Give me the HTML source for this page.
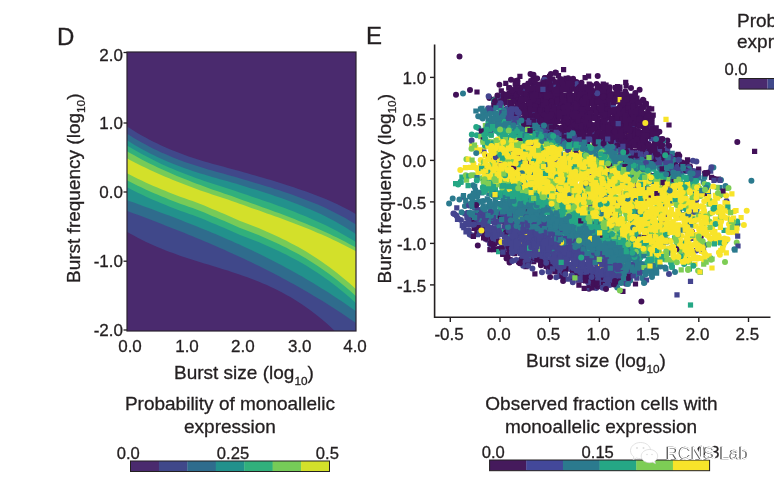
<!DOCTYPE html><html><head><meta charset="utf-8"><style>html,body{margin:0;padding:0;background:#fff;overflow:hidden}svg{display:block;filter:blur(0.45px)}text{stroke:#231f20;stroke-width:.3px}text.wm{stroke:none;fill:#fff}text.sh{stroke:#505050;stroke-width:.5px;fill:#505050}text.wb{stroke:#fff;stroke-width:2.2px;fill:#fff}</style></head><body><svg width="774" height="483" viewBox="0 0 774 483" font-family='"Liberation Sans", sans-serif' fill="#231f20"><defs><clipPath id="clipD"><rect x="127" y="52" width="229" height="279"/></clipPath></defs><rect width="774" height="483" fill="#fff"/><text x="57" y="45" font-size="24" text-anchor="start" >D</text><g clip-path="url(#clipD)"><rect x="127" y="52" width="229" height="279" fill="#4a2a6e"/><polygon points="126.0,125.8 129.9,128.3 133.8,130.8 137.7,133.2 141.7,135.4 145.6,137.6 149.5,139.7 153.4,141.7 157.3,143.6 161.2,145.5 165.2,147.2 169.1,148.9 173.0,150.5 176.9,152.1 180.8,153.6 184.7,155.0 188.6,156.4 192.6,157.7 196.5,159.0 200.4,160.2 204.3,161.4 208.2,162.6 212.1,163.7 216.1,164.8 220.0,165.8 223.9,166.8 227.8,167.9 231.7,168.9 235.6,170.0 239.5,171.1 243.5,172.2 247.4,173.3 251.3,174.4 255.2,175.5 259.1,176.7 263.0,177.8 266.9,178.9 270.9,180.1 274.8,181.2 278.7,182.4 282.6,183.7 286.5,184.9 290.4,186.2 294.4,187.5 298.3,188.9 302.2,190.2 306.1,191.6 310.0,192.9 313.9,194.4 317.8,195.9 321.8,197.4 325.7,199.0 329.6,200.7 333.5,202.5 337.4,204.3 341.3,206.2 345.3,208.2 349.2,210.3 353.1,212.5 357.0,214.8 357.0,355.5 353.1,350.8 349.2,346.2 345.3,341.9 341.3,337.7 337.4,333.7 333.5,329.8 329.6,326.1 325.7,322.6 321.8,319.2 317.8,316.0 313.9,312.9 310.0,310.0 306.1,307.2 302.2,304.5 298.3,301.9 294.4,299.5 290.4,297.1 286.5,294.9 282.6,292.8 278.7,290.7 274.8,288.8 270.9,286.9 266.9,285.1 263.0,283.4 259.1,281.8 255.2,280.2 251.3,278.7 247.4,277.3 243.5,275.9 239.5,274.5 235.6,273.2 231.7,271.9 227.8,270.6 223.9,269.4 220.0,268.2 216.1,267.0 212.1,265.8 208.2,264.6 204.3,263.4 200.4,262.2 196.5,261.0 192.6,259.7 188.6,258.5 184.7,257.2 180.8,255.9 176.9,254.5 173.0,253.1 169.1,251.7 165.2,250.2 161.2,248.6 157.3,247.0 153.4,245.3 149.5,243.5 145.6,241.7 141.7,239.8 137.7,237.7 133.8,235.6 129.9,233.4 126.0,231.1" fill="#40488a"/><polygon points="126.0,133.0 129.9,135.5 133.8,137.9 137.7,140.3 141.7,142.5 145.6,144.6 149.5,146.7 153.4,148.7 157.3,150.6 161.2,152.4 165.2,154.1 169.1,155.8 173.0,157.4 176.9,159.0 180.8,160.4 184.7,161.9 188.6,163.2 192.6,164.6 196.5,165.8 200.4,167.1 204.3,168.3 208.2,169.4 212.1,170.6 216.1,171.7 220.0,172.8 223.9,173.8 227.8,174.9 231.7,176.0 235.6,177.1 239.5,178.3 243.5,179.4 247.4,180.5 251.3,181.7 255.2,182.9 259.1,184.0 263.0,185.2 266.9,186.4 270.9,187.6 274.8,188.9 278.7,190.1 282.6,191.4 286.5,192.8 290.4,194.1 294.4,195.6 298.3,197.0 302.2,198.5 306.1,199.9 310.0,201.4 313.9,203.0 317.8,204.6 321.8,206.3 325.7,208.1 329.6,209.9 333.5,211.9 337.4,213.9 341.3,216.0 345.3,218.1 349.2,220.4 353.1,222.8 357.0,225.2 357.0,323.8 353.1,321.1 349.2,318.4 345.3,315.7 341.3,313.1 337.4,310.5 333.5,308.0 329.6,305.5 325.7,303.0 321.8,300.6 317.8,298.2 313.9,295.9 310.0,293.5 306.1,291.2 302.2,289.0 298.3,286.8 294.4,284.6 290.4,282.4 286.5,280.3 282.6,278.2 278.7,276.1 274.8,274.0 270.9,272.0 266.9,270.0 263.0,268.1 259.1,266.1 255.2,264.2 251.3,262.3 247.4,260.4 243.5,258.6 239.5,256.7 235.6,254.9 231.7,253.2 227.8,251.4 223.9,249.6 220.0,247.9 216.1,246.2 212.1,244.5 208.2,242.8 204.3,241.2 200.4,239.5 196.5,237.9 192.6,236.3 188.6,234.7 184.7,233.1 180.8,231.5 176.9,230.0 173.0,228.4 169.1,226.9 165.2,225.4 161.2,223.8 157.3,222.3 153.4,220.8 149.5,219.3 145.6,217.8 141.7,216.3 137.7,214.8 133.8,213.4 129.9,211.9 126.0,210.4" fill="#2f6c8d"/><polygon points="126.0,139.6 129.9,142.1 133.8,144.5 137.7,146.8 141.7,149.0 145.6,151.1 149.5,153.2 153.4,155.1 157.3,157.0 161.2,158.8 165.2,160.5 169.1,162.2 173.0,163.8 176.9,165.3 180.8,166.8 184.7,168.2 188.6,169.6 192.6,170.9 196.5,172.2 200.4,173.4 204.3,174.6 208.2,175.8 212.1,177.0 216.1,178.1 220.0,179.2 223.9,180.3 227.8,181.3 231.7,182.5 235.6,183.6 239.5,184.8 243.5,186.0 247.4,187.2 251.3,188.4 255.2,189.6 259.1,190.8 263.0,192.1 266.9,193.3 270.9,194.6 274.8,195.9 278.7,197.2 282.6,198.6 286.5,200.0 290.4,201.5 294.4,203.0 298.3,204.6 302.2,206.1 306.1,207.7 310.0,209.3 313.9,211.0 317.8,212.7 321.8,214.6 325.7,216.5 329.6,218.5 333.5,220.5 337.4,222.7 341.3,225.0 345.3,227.3 349.2,229.8 353.1,232.3 357.0,234.9 357.0,312.0 353.1,309.2 349.2,306.5 345.3,303.7 341.3,301.1 337.4,298.5 333.5,295.9 329.6,293.3 325.7,290.8 321.8,288.4 317.8,285.9 313.9,283.6 310.0,281.2 306.1,278.9 302.2,276.6 298.3,274.4 294.4,272.2 290.4,270.0 286.5,267.9 282.6,265.8 278.7,263.7 274.8,261.7 270.9,259.7 266.9,257.7 263.0,255.8 259.1,253.8 255.2,252.0 251.3,250.1 247.4,248.2 243.5,246.4 239.5,244.6 235.6,242.9 231.7,241.1 227.8,239.4 223.9,237.7 220.0,236.0 216.1,234.3 212.1,232.7 208.2,231.1 204.3,229.5 200.4,227.9 196.5,226.3 192.6,224.7 188.6,223.2 184.7,221.7 180.8,220.1 176.9,218.6 173.0,217.1 169.1,215.6 165.2,214.2 161.2,212.7 157.3,211.2 153.4,209.8 149.5,208.3 145.6,206.9 141.7,205.5 137.7,204.0 133.8,202.6 129.9,201.2 126.0,199.8" fill="#22918c"/><polygon points="126.0,144.8 129.9,147.2 133.8,149.6 137.7,151.8 141.7,154.0 145.6,156.1 149.5,158.1 153.4,160.1 157.3,162.0 161.2,163.9 165.2,165.7 169.1,167.4 173.0,169.1 176.9,170.7 180.8,172.3 184.7,173.8 188.6,175.3 192.6,176.8 196.5,178.2 200.4,179.6 204.3,180.9 208.2,182.2 212.1,183.5 216.1,184.8 220.0,186.0 223.9,187.3 227.8,188.5 231.7,189.7 235.6,191.1 239.5,192.4 243.5,193.7 247.4,195.0 251.3,196.4 255.2,197.7 259.1,199.0 263.0,200.4 266.9,201.7 270.9,203.1 274.8,204.5 278.7,205.9 282.6,207.3 286.5,208.8 290.4,210.3 294.4,211.8 298.3,213.5 302.2,215.0 306.1,216.6 310.0,218.3 313.9,219.9 317.8,221.7 321.8,223.5 325.7,225.3 329.6,227.3 333.5,229.3 337.4,231.3 341.3,233.5 345.3,235.7 349.2,238.0 353.1,240.3 357.0,242.7 357.0,304.1 353.1,300.5 349.2,297.0 345.3,293.7 341.3,290.4 337.4,287.3 333.5,284.2 329.6,281.3 325.7,278.4 321.8,275.7 317.8,273.1 313.9,270.5 310.0,268.0 306.1,265.6 302.2,263.3 298.3,261.1 294.4,258.9 290.4,256.9 286.5,254.8 282.6,252.9 278.7,251.0 274.8,249.2 270.9,247.4 266.9,245.7 263.0,244.0 259.1,242.3 255.2,240.7 251.3,239.2 247.4,237.7 243.5,236.2 239.5,234.7 235.6,232.9 231.7,231.2 227.8,229.5 223.9,227.8 220.0,226.2 216.1,224.5 212.1,222.9 208.2,221.2 204.3,219.6 200.4,217.9 196.5,216.5 192.6,215.1 188.6,213.7 184.7,212.3 180.8,210.9 176.9,209.4 173.0,207.9 169.1,206.4 165.2,204.8 161.2,203.2 157.3,201.6 153.4,199.9 149.5,198.2 145.6,196.4 141.7,194.6 137.7,192.7 133.8,190.7 129.9,188.7 126.0,186.6" fill="#31b07c"/><polygon points="126.0,150.7 129.9,152.9 133.8,155.1 137.7,157.3 141.7,159.4 145.6,161.4 149.5,163.4 153.4,165.3 157.3,167.2 161.2,169.0 165.2,170.8 169.1,172.5 173.0,174.2 176.9,175.9 180.8,177.5 184.7,179.1 188.6,180.6 192.6,182.2 196.5,183.7 200.4,185.1 204.3,186.6 208.2,188.0 212.1,189.4 216.1,190.7 220.0,192.1 223.9,193.4 227.8,194.7 231.7,196.1 235.6,197.5 239.5,199.0 243.5,200.4 247.4,201.8 251.3,203.2 255.2,204.6 259.1,206.0 263.0,207.4 266.9,208.8 270.9,210.3 274.8,211.7 278.7,213.1 282.6,214.6 286.5,216.1 290.4,217.6 294.4,219.1 298.3,220.7 302.2,222.3 306.1,223.8 310.0,225.4 313.9,227.1 317.8,228.7 321.8,230.5 325.7,232.2 329.6,234.0 333.5,235.9 337.4,237.8 341.3,239.8 345.3,241.8 349.2,243.9 353.1,246.0 357.0,248.1 357.0,297.1 353.1,293.5 349.2,290.0 345.3,286.7 341.3,283.4 337.4,280.3 333.5,277.2 329.6,274.3 325.7,271.4 321.8,268.7 317.8,266.1 313.9,263.5 310.0,261.0 306.1,258.6 302.2,256.3 298.3,254.1 294.4,251.9 290.4,249.9 286.5,247.8 282.6,245.9 278.7,244.0 274.8,242.2 270.9,240.4 266.9,238.7 263.0,237.0 259.1,235.3 255.2,233.7 251.3,232.2 247.4,230.7 243.5,229.2 239.5,227.7 235.6,225.9 231.7,224.2 227.8,222.5 223.9,220.8 220.0,219.2 216.1,217.5 212.1,215.9 208.2,214.2 204.3,212.6 200.4,210.9 196.5,209.5 192.6,208.1 188.6,206.7 184.7,205.3 180.8,203.9 176.9,202.4 173.0,200.9 169.1,199.4 165.2,197.8 161.2,196.2 157.3,194.6 153.4,192.9 149.5,191.2 145.6,189.4 141.7,187.6 137.7,185.7 133.8,183.7 129.9,181.7 126.0,179.6" fill="#76cb58"/><polygon points="126.0,157.8 129.9,159.9 133.8,162.0 137.7,164.0 141.7,165.9 145.6,167.8 149.5,169.7 153.4,171.5 157.3,173.3 161.2,175.0 165.2,176.7 169.1,178.3 173.0,180.0 176.9,181.5 180.8,183.1 184.7,184.6 188.6,186.1 192.6,187.5 196.5,189.0 200.4,190.4 204.3,191.7 208.2,193.1 212.1,194.4 216.1,195.8 220.0,197.1 223.9,198.3 227.8,199.6 231.7,201.0 235.6,202.3 239.5,203.7 243.5,205.1 247.4,206.5 251.3,207.9 255.2,209.2 259.1,210.6 263.0,212.0 266.9,213.4 270.9,214.8 274.8,216.2 278.7,217.6 282.6,219.0 286.5,220.4 290.4,221.9 294.4,223.4 298.3,225.0 302.2,226.5 306.1,228.1 310.0,229.6 313.9,231.2 317.8,232.9 321.8,234.6 325.7,236.3 329.6,238.1 333.5,239.9 337.4,241.8 341.3,243.8 345.3,245.7 349.2,247.8 353.1,249.8 357.0,251.9 357.0,290.1 353.1,286.5 349.2,283.0 345.3,279.7 341.3,276.4 337.4,273.3 333.5,270.2 329.6,267.3 325.7,264.4 321.8,261.7 317.8,259.1 313.9,256.5 310.0,254.0 306.1,251.6 302.2,249.3 298.3,247.1 294.4,244.9 290.4,242.9 286.5,240.8 282.6,238.9 278.7,237.0 274.8,235.2 270.9,233.4 266.9,231.7 263.0,230.0 259.1,228.3 255.2,226.7 251.3,225.2 247.4,223.7 243.5,222.2 239.5,220.7 235.6,218.9 231.7,217.2 227.8,215.5 223.9,213.8 220.0,212.2 216.1,210.5 212.1,208.9 208.2,207.2 204.3,205.6 200.4,203.9 196.5,202.5 192.6,201.1 188.6,199.7 184.7,198.3 180.8,196.9 176.9,195.4 173.0,193.9 169.1,192.4 165.2,190.8 161.2,189.2 157.3,187.6 153.4,185.9 149.5,184.2 145.6,182.4 141.7,180.6 137.7,178.7 133.8,176.7 129.9,174.7 126.0,172.6" fill="#d3e02a"/></g><rect x="127" y="52" width="229" height="279" fill="none" stroke="#2a2230" stroke-width="1.2"/><line x1="123.5" y1="52.5" x2="127" y2="52.5" stroke="#231f20" stroke-width="1.3"/><text x="123" y="61.3" font-size="17" text-anchor="end" >2.0</text><line x1="123.5" y1="123" x2="127" y2="123" stroke="#231f20" stroke-width="1.3"/><text x="123" y="129.3" font-size="17" text-anchor="end" >1.0</text><line x1="123.5" y1="192" x2="127" y2="192" stroke="#231f20" stroke-width="1.3"/><text x="123" y="198.3" font-size="17" text-anchor="end" >0.0</text><line x1="123.5" y1="261.2" x2="127" y2="261.2" stroke="#231f20" stroke-width="1.3"/><text x="123" y="267.2" font-size="17" text-anchor="end" >-1.0</text><line x1="123.5" y1="330" x2="127" y2="330" stroke="#231f20" stroke-width="1.3"/><text x="123" y="336" font-size="17" text-anchor="end" >-2.0</text><text x="130" y="352.2" font-size="17" text-anchor="middle" >0.0</text><text x="187" y="352.2" font-size="17" text-anchor="middle" >1.0</text><text x="242.8" y="352.2" font-size="17" text-anchor="middle" >2.0</text><text x="299.7" y="352.2" font-size="17" text-anchor="middle" >3.0</text><text x="355" y="352.2" font-size="17" text-anchor="middle" >4.0</text><g transform="translate(79.7,283) rotate(-90)"><text x="0" y="0" font-size="19">Burst frequency (log<tspan font-size="11.8" dy="5.5">10</tspan><tspan dy="-5.5">)</tspan></text></g><text x="174" y="379.3" font-size="19" text-anchor="start" >Burst size (log<tspan font-size="11.8" dy="5.5">10</tspan><tspan dy="-5.5">)</tspan></text><text x="230" y="410" font-size="19" text-anchor="middle" >Probability of monoallelic</text><text x="230" y="432.5" font-size="19" text-anchor="middle" >expression</text><text x="128.2" y="459" font-size="16.6" text-anchor="middle" >0.0</text><text x="233" y="459" font-size="16.6" text-anchor="middle" >0.25</text><text x="327.4" y="459" font-size="16.6" text-anchor="middle" >0.5</text><rect x="130.50" y="461" width="28.73" height="10.5" fill="#4a2a6e"/><rect x="158.93" y="461" width="28.73" height="10.5" fill="#40488a"/><rect x="187.36" y="461" width="28.73" height="10.5" fill="#2f6c8d"/><rect x="215.79" y="461" width="28.73" height="10.5" fill="#22918c"/><rect x="244.21" y="461" width="28.73" height="10.5" fill="#31b07c"/><rect x="272.64" y="461" width="28.73" height="10.5" fill="#76cb58"/><rect x="301.07" y="461" width="28.73" height="10.5" fill="#d3e02a"/><rect x="130.5" y="461" width="199.0" height="10.5" fill="none" stroke="#231f20" stroke-width="1"/><text x="366" y="44" font-size="24" text-anchor="start" >E</text><path d="M621.8 122.4h0M631.0 88.0h0M597.3 132.9h0M576.2 95.3h0M551.8 91.8h0M624.5 114.0h0M572.2 130.5h0M602.6 103.8h0M615.7 279.7h0M559.6 98.0h0M511.7 96.7h0M615.1 145.5h0M622.7 112.6h0M530.6 102.8h0M510.6 99.2h0M632.3 110.3h0M589.0 288.8h0M520.0 102.9h0M616.1 87.7h0M533.0 259.6h0M626.5 114.3h0M574.7 130.4h0M536.6 115.2h0M553.1 100.0h0M601.2 106.4h0M531.2 95.8h0M627.3 111.8h0M570.1 267.7h0M507.4 102.1h0M528.0 95.3h0M602.9 107.5h0M657.7 132.8h0M630.9 110.7h0M545.9 116.5h0M511.5 103.9h0M616.6 133.0h0M495.3 229.9h0M623.2 126.5h0M511.9 89.9h0M574.5 126.8h0M489.4 98.1h0M622.7 107.8h0M607.2 126.7h0M669.7 162.3h0M502.4 100.1h0M607.4 110.1h0M573.0 120.2h0M603.7 99.9h0M550.0 79.9h0M601.1 100.8h0M550.9 267.2h0M539.9 90.4h0M694.9 173.0h0M616.8 282.3h0M644.4 134.5h0M521.8 143.3h0M565.7 131.5h0M577.6 132.0h0M602.6 278.1h0M632.8 103.5h0M584.5 98.1h0M645.7 103.6h0M561.6 79.5h0M549.8 125.3h0M563.2 114.7h0M615.4 135.9h0M614.9 112.2h0M666.5 158.9h0M690.0 191.1h0M577.6 97.1h0M558.8 107.4h0M604.8 102.0h0M606.0 91.6h0M586.7 160.0h0M545.0 93.8h0M659.4 131.8h0M587.3 103.0h0M626.8 119.3h0M512.1 95.4h0M623.4 137.4h0M522.1 107.8h0M604.6 96.0h0M605.5 107.1h0M603.4 128.5h0M704.8 172.9h0M638.8 137.7h0M550.6 131.7h0M637.6 143.8h0M597.6 100.1h0M630.9 257.8h0M547.4 113.9h0M522.6 107.1h0M612.5 94.2h0M595.2 107.0h0M478.3 229.0h0M625.9 131.8h0M586.5 151.4h0M592.7 125.1h0M644.0 121.0h0M562.8 121.9h0M572.7 97.3h0M578.9 131.8h0M547.0 130.6h0M512.9 117.9h0M553.1 267.4h0M538.2 111.0h0M521.0 259.6h0M590.8 115.7h0M632.6 104.5h0M621.9 98.0h0M601.3 108.4h0M540.8 99.5h0M619.2 113.5h0M607.9 102.9h0M610.2 137.8h0M531.5 88.6h0M560.3 114.6h0M574.6 96.7h0M541.8 92.4h0M621.7 123.8h0M545.1 87.6h0M608.3 102.0h0M584.2 123.2h0M514.9 93.2h0M640.6 114.0h0M582.5 116.4h0M648.4 144.0h0M604.6 126.2h0M616.7 145.3h0M623.3 120.2h0M551.9 123.4h0M523.2 120.4h0M589.7 93.6h0M510.3 246.7h0M517.4 80.5h0M534.4 105.4h0M599.0 86.3h0M582.3 133.7h0M593.9 247.1h0M514.5 250.0h0M545.3 254.9h0M577.0 126.8h0M659.2 148.4h0M549.7 87.0h0M575.8 109.1h0M533.7 259.2h0M579.3 108.0h0M564.5 119.6h0M579.5 108.8h0M620.0 113.5h0M577.1 95.5h0M566.4 82.6h0M524.3 95.6h0M581.5 274.0h0M591.5 98.0h0M590.7 86.7h0M700.8 236.7h0" stroke="#421058" stroke-width="6.00" stroke-linecap="round"/><path d="M548.1 80.9h0M666.0 157.9h0M544.4 105.7h0M526.2 117.2h0M623.1 147.5h0M512.3 92.7h0M531.0 101.8h0M507.2 116.4h0M611.7 112.5h0M541.1 104.7h0M640.9 137.8h0M547.7 110.7h0M527.3 118.5h0M508.8 87.9h0M615.5 87.6h0M650.0 127.9h0M592.8 224.2h0M609.5 139.2h0M496.9 160.5h0M628.8 123.3h0M657.4 243.6h0M653.7 248.0h0M547.1 107.3h0M526.8 89.6h0M562.8 128.2h0M613.9 137.9h0M615.8 119.3h0M586.2 115.9h0M528.2 112.7h0M630.6 140.8h0M611.5 121.2h0M561.6 270.1h0M576.7 106.6h0M503.7 102.3h0M607.4 102.3h0M583.3 110.1h0M556.0 133.4h0M564.6 119.1h0M508.2 100.9h0M514.4 109.8h0M644.2 129.7h0M636.1 106.4h0M618.4 88.2h0M648.3 125.6h0M519.9 76.3h0M536.9 87.1h0M527.2 110.8h0M496.8 248.8h0M552.2 85.9h0M626.4 99.8h0M630.5 132.6h0M603.3 84.1h0M524.8 121.1h0M632.9 227.5h0M671.1 158.4h0M643.7 132.7h0M566.0 78.3h0M533.1 117.2h0M514.5 253.7h0M653.0 157.9h0M617.5 86.6h0M625.8 107.8h0M547.9 104.9h0M637.4 138.1h0M525.1 108.6h0M650.0 151.6h0M630.6 96.2h0M535.9 100.1h0M546.7 92.7h0M545.5 127.1h0M544.5 89.1h0M577.2 94.9h0M573.5 84.3h0M605.0 124.7h0M634.5 133.7h0M541.8 115.6h0M626.8 102.0h0M606.6 103.8h0M629.9 114.5h0M679.0 168.5h0M553.8 121.7h0M547.5 109.4h0M483.6 238.0h0M541.6 102.9h0M648.8 136.1h0M535.5 103.5h0M568.4 111.5h0M654.9 152.7h0M637.8 136.6h0M586.5 96.0h0M501.9 246.0h0M547.6 100.5h0M530.1 106.6h0M565.8 124.2h0M540.2 110.0h0M569.6 104.9h0M623.2 123.1h0M581.7 129.3h0M500.6 106.5h0M579.4 109.9h0M568.0 80.6h0M695.8 171.9h0M587.6 89.5h0M566.5 115.6h0M591.8 102.6h0M512.0 248.3h0M541.3 86.9h0M514.5 250.0h0M494.6 243.4h0M589.8 114.2h0M538.0 104.6h0M555.9 271.4h0M644.7 148.1h0M486.8 237.8h0M636.9 101.8h0M573.3 100.1h0M591.6 135.5h0M649.4 147.3h0M620.5 111.8h0M570.0 90.3h0M613.4 143.1h0M560.5 107.8h0M626.2 85.8h0M632.8 137.3h0M554.6 146.4h0M617.3 95.7h0M558.5 128.1h0M603.5 89.0h0M580.1 125.3h0M676.9 157.8h0M551.3 85.1h0M543.5 103.4h0M489.4 237.7h0M552.2 266.5h0M614.1 131.6h0M627.6 141.8h0M554.0 106.1h0M614.2 128.1h0M624.5 95.2h0M613.2 118.0h0M638.6 119.8h0M625.7 82.4h0M555.9 108.1h0M581.6 114.8h0M529.1 88.6h0M606.1 107.0h0M644.7 145.7h0M566.8 133.8h0M516.7 251.1h0M656.1 158.0h0M565.0 271.7h0M629.7 276.7h0M634.4 208.4h0M562.6 131.0h0M656.3 132.3h0M654.2 133.1h0M635.8 137.8h0M629.8 141.7h0M643.6 100.8h0M628.7 154.4h0M550.3 116.0h0M596.9 97.2h0M559.9 79.1h0M631.2 143.2h0M491.9 244.2h0M631.6 100.1h0M564.8 98.0h0M601.7 100.3h0M580.8 102.4h0M667.5 185.1h0M573.8 117.4h0M588.3 103.3h0M589.0 112.2h0M544.3 99.5h0M578.4 93.7h0M571.0 97.1h0M534.2 82.3h0M531.1 102.3h0M529.5 121.1h0M611.8 156.9h0M604.2 138.4h0" stroke="#421058" stroke-width="5.22" stroke-linecap="square"/><path d="M596.2 288.1h0M644.5 282.3h0M530.0 123.4h0M668.4 165.4h0M588.0 275.0h0M586.1 264.6h0M561.3 255.1h0M558.8 250.6h0M516.7 223.2h0M556.3 224.9h0M663.6 156.2h0M644.3 166.6h0M675.2 167.8h0M610.8 257.6h0M574.2 277.5h0M610.1 142.1h0M538.9 253.9h0M493.8 241.2h0M521.2 236.0h0M592.8 184.0h0M541.5 224.4h0M504.1 235.5h0M477.5 224.8h0M520.1 249.2h0M532.3 233.3h0M502.7 211.8h0M558.4 264.3h0M667.9 155.6h0M490.6 236.6h0M589.7 270.4h0M522.5 230.4h0M636.3 101.0h0M600.1 143.3h0M519.1 249.3h0M662.6 143.9h0M527.8 230.6h0M522.0 252.5h0M608.0 149.9h0M576.2 142.9h0M574.3 136.5h0M539.8 133.8h0M547.0 244.4h0M543.0 240.5h0M498.5 235.0h0M547.6 238.7h0M562.3 253.1h0M514.8 240.7h0M578.8 267.8h0M520.9 223.5h0M552.1 256.3h0M690.0 170.2h0M585.4 143.2h0M535.9 250.0h0M650.4 155.4h0M468.8 230.4h0M508.5 246.4h0M556.7 251.4h0M509.0 111.9h0M494.9 237.6h0M596.4 138.2h0M588.5 287.7h0M614.7 272.6h0M518.4 114.0h0M692.9 160.7h0M568.0 264.1h0M564.6 243.3h0M496.9 232.6h0M608.8 163.2h0M545.0 245.2h0M614.7 148.1h0M510.7 228.1h0M489.9 244.0h0M536.8 244.4h0M726.5 200.9h0M531.6 218.8h0M590.5 266.0h0M564.2 264.9h0M613.1 258.7h0M552.5 243.3h0M497.0 236.6h0M602.0 266.5h0M583.3 144.4h0M530.2 254.6h0M669.7 154.9h0M499.2 230.0h0M587.0 272.7h0M605.1 109.1h0M545.4 253.8h0M487.3 218.9h0M489.7 235.2h0M567.4 257.4h0M563.6 234.9h0M540.5 257.5h0M506.8 242.8h0M508.3 232.4h0M533.2 129.5h0M696.3 250.6h0M679.5 166.5h0M619.2 281.8h0M575.8 257.9h0M610.9 266.7h0M490.6 228.2h0M609.7 269.0h0M546.6 262.1h0M488.2 108.2h0M612.9 270.3h0M629.1 122.3h0M656.5 175.6h0M485.7 216.2h0M557.8 227.8h0M603.9 162.7h0M521.3 234.1h0M497.4 212.6h0" stroke="#44448f" stroke-width="6.00" stroke-linecap="round"/><path d="M506.9 245.2h0M524.9 238.0h0M594.2 275.6h0M514.3 235.1h0M522.0 238.3h0M463.3 197.1h0M578.3 254.0h0M485.0 225.7h0M528.3 240.4h0M528.6 105.8h0M507.9 237.4h0M550.6 136.6h0M534.7 248.7h0M573.3 239.3h0M537.4 142.3h0M710.7 171.2h0M487.8 235.1h0M520.6 240.7h0M570.7 236.5h0M574.8 142.3h0M478.6 220.6h0M636.2 156.4h0M565.8 267.1h0M489.6 229.5h0M551.9 244.5h0M474.4 214.7h0M545.6 251.6h0M587.4 271.0h0M478.4 220.6h0M657.6 154.1h0M528.5 220.0h0M588.5 155.0h0M509.0 227.1h0M617.2 264.5h0M561.7 260.3h0M695.4 171.0h0M496.5 103.2h0M531.9 140.0h0M556.8 233.3h0M456.8 207.8h0M614.1 129.5h0M535.5 123.4h0M658.0 155.8h0M504.6 240.6h0M544.2 246.6h0M520.6 229.4h0M511.2 223.8h0M563.3 266.9h0M523.1 126.5h0M577.0 255.1h0M578.3 265.7h0M514.8 247.7h0M552.7 228.5h0M525.3 232.4h0M597.8 250.5h0M468.1 212.5h0M545.2 233.7h0M575.2 247.3h0M609.1 264.4h0M670.5 170.2h0M610.3 255.7h0M562.0 253.2h0M530.6 259.9h0M594.8 144.6h0M590.8 266.5h0M585.0 143.6h0M564.3 235.2h0M577.8 137.9h0M616.8 271.1h0M512.3 229.4h0M521.0 118.5h0M618.5 277.7h0M538.8 233.9h0M505.9 248.4h0M517.1 235.8h0M605.5 255.5h0M570.2 241.7h0M510.1 218.3h0M576.8 253.7h0M534.8 239.0h0M605.2 120.0h0M518.5 243.0h0M555.0 252.0h0M590.7 153.9h0M601.5 286.6h0M612.7 274.7h0M596.4 263.2h0M512.9 209.0h0M495.2 239.3h0M569.5 235.5h0M577.9 241.4h0M555.8 261.8h0M568.0 251.4h0M602.8 139.4h0M544.0 226.2h0M592.8 268.8h0M543.8 249.5h0" stroke="#44448f" stroke-width="5.22" stroke-linecap="square"/><path d="M573.6 159.9h0M495.7 148.2h0M552.8 225.1h0M542.9 217.8h0M631.8 258.0h0M556.9 234.3h0M585.9 224.3h0M604.0 145.8h0M528.8 209.9h0M570.7 242.1h0M613.4 251.6h0M659.0 265.4h0M579.9 221.5h0M586.3 144.1h0M459.4 199.5h0M616.8 259.0h0M665.1 238.8h0M539.5 203.2h0M535.5 221.4h0M500.7 193.5h0M561.0 239.2h0M607.1 149.1h0M639.1 259.9h0M569.1 226.6h0M493.2 110.9h0M644.3 163.9h0M578.7 231.5h0M500.9 113.8h0M552.3 135.5h0M503.8 231.4h0M540.1 215.6h0M575.6 242.7h0M514.7 212.6h0M619.5 161.0h0M606.8 205.8h0M567.8 247.5h0M618.4 159.1h0M530.7 220.7h0M668.6 177.7h0M494.4 107.5h0M518.9 195.8h0M549.3 218.9h0M643.3 158.0h0M637.9 269.7h0M678.6 175.8h0M639.4 161.8h0M559.0 169.8h0M563.0 220.9h0M658.7 243.3h0M616.6 244.1h0M624.9 242.3h0M503.7 110.6h0M528.3 227.1h0M489.1 201.1h0M513.3 224.8h0M470.0 196.5h0M618.1 250.2h0M507.9 222.3h0M582.3 225.2h0M538.1 220.2h0M521.3 125.1h0M506.1 196.0h0M618.2 264.7h0M541.2 207.9h0M612.7 252.0h0M486.9 110.3h0M616.0 221.0h0M540.6 211.3h0M607.4 151.5h0M617.4 157.8h0M630.3 280.4h0M543.0 206.6h0M500.5 209.0h0M533.9 225.2h0M601.6 234.2h0M673.8 156.4h0M582.9 144.7h0M483.2 201.0h0M509.4 128.0h0M556.2 150.3h0M606.2 241.6h0M497.3 214.6h0M639.7 165.0h0M517.3 195.6h0M508.5 219.9h0M563.3 226.7h0M609.6 256.9h0M495.2 127.5h0M660.8 187.7h0M460.6 182.1h0M544.5 235.9h0M652.7 161.2h0M623.7 275.0h0M512.0 218.9h0M541.9 231.6h0M585.1 142.8h0M652.8 182.8h0M517.3 120.5h0M604.7 150.3h0M631.9 265.8h0M488.2 206.6h0M638.2 248.1h0M482.0 215.4h0M607.8 263.4h0M530.7 132.4h0M641.6 271.5h0M566.5 224.1h0M535.3 222.8h0M601.6 254.4h0M606.7 253.3h0M597.9 235.6h0M531.7 209.8h0M635.6 261.0h0M546.1 135.1h0M530.6 228.0h0" stroke="#2b7a8e" stroke-width="6.00" stroke-linecap="round"/><path d="M499.0 128.1h0M570.3 224.4h0M519.2 128.0h0M617.8 255.4h0M622.4 256.6h0M719.9 187.7h0M534.1 215.3h0M651.0 165.6h0M489.4 201.7h0M510.0 161.1h0M562.9 227.8h0M578.1 234.8h0M623.3 280.0h0M507.1 126.5h0M515.0 118.8h0M603.9 150.8h0M633.5 272.1h0M620.2 149.8h0M593.1 243.7h0M500.0 117.0h0M620.3 158.1h0M587.9 233.4h0M488.8 193.3h0M629.6 257.1h0M703.3 181.8h0M589.0 226.0h0M672.2 267.1h0M555.1 171.1h0M606.8 152.9h0M659.4 157.4h0M566.3 232.2h0M616.3 161.2h0M481.2 212.7h0M496.3 122.3h0M614.2 265.0h0M467.2 214.8h0M667.5 147.3h0M531.9 215.8h0M645.2 264.2h0M511.5 213.7h0M532.1 128.6h0M540.4 210.1h0M530.7 215.5h0M567.3 216.9h0M575.0 238.3h0M619.4 260.9h0M465.7 200.4h0M518.4 216.2h0M569.4 201.8h0M626.1 157.2h0M555.3 216.6h0M547.0 143.5h0M657.8 144.0h0M521.1 213.8h0M592.0 239.0h0M613.6 275.9h0M573.3 225.2h0M575.3 201.8h0M543.2 207.5h0M503.9 116.9h0M558.5 235.6h0M627.8 246.5h0M661.4 215.8h0M495.2 201.7h0M571.7 224.2h0M609.1 246.8h0M602.2 239.9h0M517.9 154.9h0M536.3 213.0h0M614.3 257.4h0M576.2 144.6h0M609.9 209.4h0M586.9 152.5h0M606.5 149.4h0M548.2 212.1h0M519.1 209.9h0M610.6 150.7h0M600.6 248.8h0M638.3 261.8h0M579.6 226.0h0M515.6 210.8h0M528.9 213.1h0M588.6 234.4h0M567.3 229.0h0M599.6 172.5h0M620.7 154.0h0M631.6 265.8h0M679.3 170.0h0M494.2 191.8h0M534.7 218.4h0M652.1 273.6h0M527.2 210.4h0M588.6 239.1h0M581.6 232.4h0M641.4 159.2h0M628.0 268.4h0M564.4 233.7h0M570.8 229.9h0M557.1 224.3h0M610.3 258.7h0" stroke="#2b7a8e" stroke-width="5.22" stroke-linecap="square"/><path d="M651.8 267.0h0M579.9 224.0h0M667.9 249.3h0M526.6 190.4h0M584.1 215.8h0M535.3 201.4h0M611.8 162.2h0M542.4 140.4h0M495.7 130.1h0M630.4 175.8h0M618.6 238.6h0M583.7 211.5h0M543.5 184.6h0M531.7 195.1h0M529.4 138.2h0M671.9 266.7h0M624.4 246.8h0M607.2 232.1h0M731.8 223.2h0M663.9 178.2h0M609.6 233.9h0M590.3 226.8h0M710.2 258.0h0M514.4 196.6h0M671.0 262.9h0M520.4 139.8h0M684.1 263.9h0M559.7 214.9h0M487.6 126.5h0M484.5 189.4h0M586.1 216.3h0M557.4 214.0h0M511.1 227.3h0M640.2 175.1h0M484.0 130.4h0M554.8 207.9h0M578.0 211.0h0M535.9 201.0h0M663.1 175.0h0M524.7 182.3h0M617.7 237.0h0M630.0 246.8h0M558.4 243.2h0M517.8 172.5h0M558.2 144.5h0M505.8 186.6h0M569.2 218.2h0M544.5 199.3h0M645.0 166.6h0M494.2 145.0h0M532.0 195.1h0M566.9 210.2h0M525.1 146.7h0M633.8 242.3h0M627.7 250.0h0M500.3 127.2h0M513.5 132.6h0M653.6 267.9h0M582.1 218.5h0" stroke="#25a785" stroke-width="6.00" stroke-linecap="round"/><path d="M576.2 148.2h0M495.4 188.9h0M502.0 129.5h0M633.6 201.0h0M568.8 217.8h0M560.8 236.7h0M632.3 257.6h0M624.2 241.7h0M612.8 186.7h0M577.3 218.1h0M718.7 223.2h0M484.1 134.1h0M515.9 137.7h0M545.2 202.0h0M517.4 128.9h0M642.4 251.2h0M498.3 161.2h0M501.9 127.3h0M526.9 132.7h0M627.1 245.5h0M579.5 217.2h0M658.8 263.7h0M610.7 163.1h0M561.2 147.7h0M631.9 245.2h0M612.7 182.9h0M546.8 198.7h0M603.8 169.7h0M655.3 215.2h0M587.1 186.4h0M607.5 162.3h0M581.0 220.9h0M506.9 178.4h0M610.7 156.9h0M629.9 255.3h0M645.9 226.0h0M539.4 217.1h0M461.9 177.2h0M605.4 162.4h0M570.4 148.9h0M621.5 240.4h0M604.2 160.3h0M602.3 229.4h0M631.3 199.9h0M623.8 163.7h0M606.8 187.0h0M488.0 186.7h0M633.2 237.8h0M643.2 237.9h0M617.3 246.4h0M548.0 218.5h0M508.6 141.1h0M599.5 203.0h0M624.6 234.2h0M687.9 182.8h0M551.7 208.4h0" stroke="#25a785" stroke-width="5.22" stroke-linecap="square"/><path d="M538.3 191.7h0M647.4 250.0h0M491.9 182.9h0M624.8 231.8h0M614.4 225.5h0M590.5 167.9h0M483.4 141.3h0M586.4 212.2h0M621.9 238.0h0M664.1 259.3h0M592.7 209.9h0M610.1 178.1h0M571.7 201.6h0M604.2 232.7h0M553.9 152.3h0M534.9 195.5h0M595.4 218.6h0M665.0 191.2h0M576.9 144.7h0M506.5 138.9h0M569.2 163.4h0M672.9 183.7h0M536.8 142.3h0M592.4 185.9h0M570.2 198.5h0M703.3 225.7h0M596.3 170.3h0M638.5 175.8h0M592.8 212.3h0M522.2 166.3h0M619.2 186.4h0M709.8 200.4h0M709.4 221.6h0M672.9 185.2h0M491.1 135.3h0M481.7 178.3h0M676.9 174.4h0M505.2 187.1h0M578.7 207.4h0M572.8 191.8h0M631.1 231.0h0M608.7 228.9h0M632.0 175.4h0M620.8 225.9h0M572.8 147.8h0" stroke="#7dcd55" stroke-width="6.00" stroke-linecap="round"/><path d="M600.5 154.7h0M515.0 142.8h0M485.4 125.6h0M683.1 246.5h0M615.4 214.6h0M466.6 180.1h0M490.3 182.2h0M697.8 189.0h0M498.8 215.9h0M597.4 221.0h0M717.1 187.4h0M639.1 172.6h0M630.0 236.7h0M556.3 201.6h0M593.8 172.9h0M552.4 145.5h0M575.2 199.8h0M638.9 239.2h0M688.2 188.7h0M614.6 175.6h0M687.2 205.4h0M566.9 182.9h0M584.6 219.5h0M527.5 134.6h0M572.1 179.7h0M523.0 185.5h0M524.1 142.6h0M598.8 223.1h0M651.6 253.4h0M559.5 167.3h0M579.8 214.4h0M505.2 173.9h0M568.9 155.6h0M594.9 148.5h0M658.4 254.9h0M655.7 214.1h0M546.9 154.2h0M616.7 157.2h0M601.4 221.9h0M499.4 178.9h0M550.6 175.1h0M692.6 187.2h0M516.4 141.4h0M466.8 176.0h0M708.4 244.9h0" stroke="#7dcd55" stroke-width="5.22" stroke-linecap="square"/><path d="M650.2 248.9h0M610.6 179.8h0M522.0 160.9h0M684.4 222.1h0M606.4 204.8h0M529.4 172.4h0M618.1 190.0h0M527.8 174.3h0M545.9 171.9h0M612.2 189.8h0M555.5 170.1h0M573.8 174.0h0M692.3 196.1h0M528.0 172.9h0M498.2 158.4h0M595.7 217.0h0M573.1 173.6h0M513.3 222.2h0M714.5 201.4h0M531.2 152.2h0M531.6 159.3h0M729.9 229.1h0M641.7 196.1h0M561.5 163.8h0M635.8 196.8h0M704.4 245.2h0M631.4 177.3h0M644.8 187.0h0M564.4 167.2h0M516.5 155.1h0M538.7 144.3h0M620.3 197.1h0M596.7 179.3h0M733.1 223.0h0M562.2 163.4h0M652.2 248.7h0M644.7 220.0h0M537.1 144.8h0M573.8 182.6h0M501.1 162.5h0M603.6 191.2h0M535.6 169.2h0M569.8 197.0h0M599.6 181.2h0M698.0 185.7h0M636.0 191.8h0M524.6 169.6h0M589.9 195.1h0M581.0 185.5h0M544.7 188.1h0M696.1 204.3h0M504.1 174.7h0M588.2 195.0h0M556.5 186.1h0M670.6 231.2h0M624.1 184.7h0M539.5 150.0h0M573.3 154.1h0M522.6 167.1h0M663.6 246.6h0M563.0 170.0h0M692.0 200.0h0M558.2 179.8h0M642.8 208.1h0M704.1 231.1h0M615.8 218.8h0M498.7 168.5h0M603.2 216.7h0M657.3 183.9h0M612.4 212.5h0M649.9 201.5h0M583.1 198.0h0M663.1 245.7h0M608.1 176.1h0M707.8 235.8h0M541.5 183.2h0M598.5 185.3h0M665.4 202.9h0M659.1 226.6h0M685.5 251.8h0M562.4 195.0h0M664.3 253.9h0M488.6 189.4h0M525.2 159.3h0M525.3 177.5h0M527.7 154.0h0M595.8 160.7h0M562.9 193.9h0M718.0 211.9h0M734.5 211.2h0M568.8 176.6h0M497.7 145.4h0M536.9 155.6h0M606.4 173.0h0M599.4 165.8h0M578.1 162.3h0M550.5 149.4h0M582.0 206.0h0M548.2 163.7h0M688.1 250.7h0M644.8 191.9h0M518.5 163.4h0M542.8 166.8h0M657.7 258.5h0M669.0 204.4h0M507.2 181.4h0M611.3 219.1h0M587.9 165.8h0M568.8 173.2h0M493.4 149.5h0M647.1 238.7h0M599.6 199.4h0M544.0 152.5h0M672.1 195.0h0M584.1 179.4h0M494.4 212.3h0M498.5 145.2h0M580.4 168.9h0M552.5 175.0h0M544.3 191.1h0M611.9 182.1h0M531.5 181.3h0M530.6 155.4h0M550.3 195.7h0M719.5 211.7h0M512.0 157.0h0M626.8 217.6h0M641.9 208.8h0M681.4 202.2h0M719.9 254.7h0M556.6 183.2h0M642.5 205.5h0M675.4 215.4h0M660.7 228.3h0M662.7 213.5h0M640.1 185.6h0M642.0 190.7h0M630.7 222.7h0M549.0 162.7h0M551.7 174.0h0M566.4 158.5h0M639.9 246.4h0M637.3 235.4h0M621.1 209.0h0M699.7 231.5h0M651.9 241.8h0M516.1 180.4h0M495.6 151.5h0M680.2 190.3h0M661.1 246.5h0M523.4 155.4h0M692.8 216.3h0M562.7 200.6h0M603.8 213.3h0M660.0 207.2h0M610.1 215.3h0" stroke="#f8e42a" stroke-width="6.00" stroke-linecap="round"/><path d="M638.4 232.8h0M555.0 151.6h0M584.0 201.4h0M638.5 185.4h0M678.6 233.3h0M547.8 146.4h0M661.1 245.6h0M557.8 181.3h0M678.3 224.8h0M517.6 180.0h0M656.6 240.9h0M537.9 180.0h0M664.1 219.4h0M614.3 180.1h0M606.7 181.9h0M550.6 193.9h0M692.4 235.1h0M577.2 174.9h0M593.5 181.1h0M700.6 233.1h0M585.4 156.8h0M596.3 178.0h0M557.2 163.3h0M577.1 206.3h0M569.9 151.8h0M645.6 236.4h0M598.7 187.0h0M645.6 206.8h0M720.1 239.3h0M622.6 220.8h0M691.0 200.5h0M574.5 165.8h0M637.4 237.0h0M528.8 188.3h0M618.6 202.1h0M645.9 213.4h0M660.3 221.1h0M667.7 212.4h0M678.6 213.5h0M659.3 195.5h0M581.9 194.9h0M678.8 196.2h0M615.5 217.9h0M571.9 164.7h0M646.6 242.5h0M703.2 217.2h0M609.8 203.5h0M531.5 171.6h0M539.4 163.3h0M666.3 228.2h0M691.2 247.0h0M569.2 189.1h0M721.8 239.5h0M670.2 241.8h0M573.1 199.6h0M655.6 203.0h0M646.3 189.9h0M573.6 186.0h0M481.4 151.0h0M626.6 227.7h0M625.0 234.0h0M643.7 196.4h0M577.4 269.5h0M530.4 179.3h0M717.3 198.1h0M640.3 199.7h0M678.9 185.6h0M645.1 193.7h0M694.8 208.5h0M568.3 192.0h0M689.7 245.8h0M674.0 200.2h0M567.2 190.6h0M518.8 146.9h0M591.4 191.0h0M639.1 219.4h0M644.8 197.1h0M569.9 157.2h0M570.5 167.4h0M532.0 146.3h0M505.6 143.5h0M540.2 154.1h0M536.3 154.5h0M584.9 183.5h0M564.5 186.0h0M625.2 224.9h0M681.0 218.1h0M603.4 207.8h0M533.1 150.0h0M552.6 184.5h0M547.7 157.1h0M648.7 250.2h0M478.0 151.6h0M624.3 206.4h0M558.9 180.9h0M630.2 177.5h0M539.3 195.0h0M689.1 241.0h0M609.7 180.6h0M649.8 237.9h0M670.8 196.3h0M655.9 208.6h0M617.9 231.3h0M575.3 200.8h0M503.3 146.7h0M644.9 191.6h0M626.9 175.6h0M613.2 181.0h0M569.7 171.5h0M597.0 199.9h0M593.2 158.4h0M489.3 171.3h0M727.5 218.1h0M501.1 168.8h0M626.8 179.5h0M562.9 200.7h0M548.5 169.1h0M498.2 172.2h0M603.1 184.5h0M541.8 163.1h0M498.2 152.4h0M662.7 231.0h0M574.9 205.2h0M665.3 189.4h0M621.5 206.6h0M526.7 236.1h0M604.9 180.9h0M666.5 217.0h0M717.6 235.2h0M683.9 227.9h0M690.5 182.4h0M727.8 230.4h0M470.6 167.4h0M681.4 226.1h0M591.2 187.2h0M532.3 151.6h0M662.0 233.7h0M652.9 188.7h0M549.6 185.9h0" stroke="#f8e42a" stroke-width="5.22" stroke-linecap="square"/><path d="M606.3 107.1h0M632.5 107.2h0M635.2 145.5h0M641.9 147.6h0M572.3 103.0h0M536.4 114.7h0M667.4 140.6h0M643.0 99.7h0M526.6 97.6h0M626.8 110.0h0M617.7 139.4h0M620.9 121.3h0M639.3 123.6h0M563.8 129.3h0M598.7 141.0h0M580.5 95.8h0M639.4 108.3h0M529.0 97.8h0M552.6 100.4h0M585.8 129.5h0M559.3 89.4h0M554.4 87.1h0M647.5 241.7h0M533.8 112.0h0M639.5 116.2h0M526.8 89.9h0M534.0 86.2h0M520.6 91.5h0M583.8 125.2h0M520.9 111.7h0M494.1 99.4h0M529.2 112.9h0M545.0 104.0h0M536.8 85.0h0M668.3 145.4h0M605.6 111.0h0M552.3 127.5h0M603.4 114.8h0M559.2 114.1h0M556.6 135.3h0M602.1 126.1h0M576.7 106.5h0M582.8 280.0h0M567.0 114.2h0M543.2 115.5h0M600.0 134.4h0M613.7 143.5h0M551.5 102.3h0M620.6 123.3h0M538.9 121.5h0M602.5 282.7h0M594.8 141.2h0M631.9 109.6h0M577.9 114.3h0M652.7 135.3h0M576.7 158.0h0M630.5 275.7h0M682.3 162.5h0M615.2 131.8h0M608.9 142.4h0M522.4 101.1h0M535.5 121.3h0M605.5 109.2h0M651.9 133.7h0M621.6 125.3h0M624.9 100.5h0M565.1 107.1h0M572.9 114.2h0M580.5 194.2h0M552.6 80.7h0M563.5 110.9h0M534.8 116.4h0M599.1 87.5h0M572.1 118.4h0M572.5 101.5h0M543.7 110.7h0M629.4 123.1h0M499.9 107.3h0M576.4 82.0h0M565.1 130.4h0M533.4 85.3h0M577.6 112.8h0M600.1 91.4h0M631.4 131.8h0M590.3 134.1h0M625.1 148.7h0M632.4 115.6h0M632.4 132.7h0M512.9 203.1h0M498.7 115.4h0M510.9 260.0h0M626.3 137.8h0M590.2 112.1h0M546.9 102.9h0M579.4 93.2h0M511.9 92.9h0M545.6 96.5h0M611.7 120.2h0M588.3 278.7h0M539.1 109.5h0M613.6 129.8h0M593.5 102.2h0M579.0 91.2h0M530.5 106.9h0M555.6 103.4h0M570.8 106.1h0M624.2 111.4h0M599.3 90.4h0M590.6 96.1h0M525.9 126.9h0M533.2 90.3h0M640.0 102.5h0M672.4 157.7h0M525.9 93.9h0M578.9 97.4h0M533.9 102.8h0M640.5 137.6h0M675.5 164.3h0M607.8 97.3h0M537.4 255.2h0M585.4 123.1h0M617.1 126.5h0M594.0 117.4h0M579.4 105.2h0M553.0 93.4h0M495.1 242.7h0M620.1 129.8h0M630.0 119.0h0M620.8 278.4h0M607.7 99.7h0M645.2 142.4h0M521.5 89.5h0M602.9 121.1h0M642.0 122.3h0M580.1 108.8h0M623.7 124.3h0M636.1 113.5h0M546.1 84.9h0M622.9 136.5h0M635.1 140.2h0M543.5 120.7h0M617.2 101.4h0M650.0 116.9h0M544.6 78.2h0M597.7 286.4h0M592.4 93.2h0M590.4 127.4h0M645.3 124.1h0M624.2 108.0h0" stroke="#421058" stroke-width="6.00" stroke-linecap="round"/><path d="M634.4 151.3h0M661.9 154.7h0M542.2 86.5h0M533.7 261.7h0M577.8 119.6h0M593.1 99.9h0M515.2 83.6h0M654.0 149.7h0M646.6 155.0h0M518.0 107.4h0M527.0 87.6h0M547.7 118.2h0M647.9 117.9h0M605.4 124.9h0M589.4 285.5h0M548.7 128.0h0M533.5 90.4h0M645.5 141.0h0M563.4 135.7h0M711.5 177.3h0M590.8 130.0h0M564.5 119.7h0M515.8 80.8h0M557.9 94.8h0M546.6 92.1h0M571.3 278.2h0M607.7 96.2h0M531.6 104.2h0M552.1 108.1h0M482.2 132.5h0M525.8 117.9h0M609.6 103.1h0M489.9 249.6h0M520.5 111.3h0M610.0 130.5h0M652.0 127.5h0M631.4 103.4h0M602.1 109.5h0M553.2 122.5h0M583.1 136.2h0M530.1 120.4h0M647.2 118.4h0M576.8 91.6h0M617.2 137.0h0M586.7 130.9h0M608.5 114.4h0M547.6 86.7h0M618.9 137.3h0M582.4 111.6h0M618.6 145.6h0M599.3 121.2h0M586.0 87.8h0M627.2 130.1h0M559.5 88.9h0M608.0 117.4h0M677.0 156.1h0M584.6 103.2h0M651.7 108.9h0M546.4 100.3h0M625.0 146.1h0M636.4 142.7h0M553.6 123.4h0M591.8 130.8h0M579.4 120.9h0M528.0 121.1h0M542.9 128.1h0M555.1 125.3h0M533.1 76.8h0M566.0 128.4h0M621.7 136.1h0M595.3 101.1h0M575.9 114.4h0M531.1 101.8h0M633.4 132.5h0M622.2 115.8h0M620.7 128.0h0M576.3 128.8h0M548.2 88.7h0M614.7 142.5h0M579.3 105.2h0M611.3 112.0h0M595.1 100.9h0M632.3 100.5h0M548.9 103.5h0M626.8 152.1h0M539.0 114.3h0M590.7 114.7h0M596.9 127.4h0M510.2 191.7h0M624.2 129.4h0M574.8 135.4h0M665.1 182.3h0M546.0 113.0h0M552.5 88.6h0M579.0 137.0h0M535.8 86.6h0M578.2 113.7h0M555.9 100.8h0M536.0 259.4h0M623.5 167.5h0M557.0 100.3h0M509.6 98.3h0M609.9 109.4h0M633.3 139.6h0M589.2 84.1h0M537.8 107.0h0M506.7 109.0h0M590.7 97.2h0M537.0 104.2h0M547.0 77.9h0M571.7 128.2h0M569.3 109.0h0M534.5 97.7h0M546.8 97.1h0M566.2 132.7h0M530.4 118.5h0M628.9 142.1h0M612.5 132.9h0M590.3 97.4h0M569.0 99.0h0M532.0 118.2h0M543.9 100.4h0M621.1 105.3h0M526.6 105.0h0M551.3 126.4h0M575.3 122.2h0M576.9 87.7h0M502.8 254.5h0M559.8 99.0h0M652.0 122.6h0M601.6 97.2h0M548.0 263.4h0M599.2 101.0h0M538.4 115.7h0M587.7 125.0h0M616.9 96.5h0M566.9 112.0h0M562.0 116.9h0M593.6 138.7h0M530.6 95.7h0M659.9 151.1h0M631.8 107.0h0M522.9 107.0h0M578.5 141.3h0M615.6 115.0h0M581.7 106.0h0M608.7 116.1h0M577.0 104.7h0M573.9 88.8h0M571.5 83.9h0M645.3 138.0h0M593.0 140.2h0M614.1 120.5h0M663.7 152.8h0M532.9 97.7h0M534.9 273.8h0M587.0 106.8h0M539.9 135.7h0M645.2 157.8h0M563.0 106.0h0M512.8 249.7h0M636.9 125.0h0M624.2 276.2h0M642.1 139.0h0M607.9 139.9h0M583.5 132.4h0M600.2 99.2h0M548.9 263.0h0M636.8 120.0h0M474.9 220.0h0M525.1 108.9h0M613.1 108.0h0M572.7 102.6h0M592.4 136.2h0M526.5 86.4h0M534.6 89.4h0" stroke="#421058" stroke-width="5.22" stroke-linecap="square"/><path d="M538.0 232.1h0M486.2 227.1h0M613.3 276.0h0M486.3 236.3h0M504.5 218.9h0M550.9 252.5h0M596.4 271.5h0M544.4 239.5h0M526.7 259.6h0M662.0 161.5h0M475.0 227.8h0M696.3 200.0h0M571.3 239.5h0M519.9 229.4h0M478.9 232.2h0M527.7 250.5h0M660.1 139.0h0M571.1 267.1h0M560.3 181.4h0M685.4 166.7h0M617.5 279.6h0M485.1 226.3h0M613.1 149.7h0M556.7 264.1h0M628.0 272.5h0M490.5 132.6h0M470.9 219.1h0M589.8 245.4h0M560.5 248.4h0M564.8 243.6h0M539.5 236.0h0M468.1 230.5h0M558.6 139.0h0M570.7 246.5h0M566.2 250.4h0M572.8 282.3h0M559.7 257.1h0M619.7 282.0h0M486.5 227.5h0M521.8 222.3h0M529.5 229.0h0M669.8 153.8h0M514.1 225.9h0M537.5 255.8h0M627.0 156.9h0M477.8 229.2h0M541.6 237.1h0M525.8 265.4h0M576.8 137.5h0M571.4 248.4h0M563.2 276.9h0M545.9 261.2h0M492.2 218.2h0M542.3 130.5h0M528.3 245.2h0M513.3 232.4h0M570.9 256.5h0M548.9 234.9h0M641.5 153.4h0M487.8 233.7h0M483.6 150.9h0M577.5 250.0h0M588.9 262.8h0M615.3 149.8h0M623.4 275.4h0M599.1 272.2h0M599.4 268.4h0M610.6 262.9h0M513.1 238.4h0M566.1 254.9h0M516.3 247.5h0M484.0 228.3h0M568.8 265.0h0M516.6 234.1h0M620.5 275.9h0M578.6 254.9h0M660.2 228.5h0M518.9 241.5h0M565.0 250.3h0M672.8 171.5h0M551.5 133.7h0M490.3 228.8h0M580.6 133.5h0M664.8 156.1h0M628.5 279.2h0M543.4 257.5h0M625.2 266.6h0M544.8 127.9h0M571.3 265.4h0M488.6 96.3h0M507.7 100.5h0M467.9 216.9h0M530.6 124.1h0M497.1 227.1h0M486.3 238.8h0M655.8 142.3h0M532.0 228.6h0M516.4 235.6h0M469.7 234.4h0M576.6 274.2h0M511.7 236.7h0" stroke="#44448f" stroke-width="6.00" stroke-linecap="round"/><path d="M529.4 255.3h0M526.0 247.4h0M559.8 276.3h0M545.7 236.3h0M556.5 240.7h0M608.1 272.5h0M548.6 138.3h0M493.8 218.1h0M693.0 238.3h0M540.1 252.2h0M656.7 160.8h0M552.6 261.3h0M551.5 254.4h0M590.6 272.5h0M586.8 272.4h0M522.8 247.8h0M526.0 246.5h0M503.1 233.8h0M544.8 260.5h0M565.2 248.3h0M515.8 209.9h0M557.7 271.1h0M578.1 280.1h0M526.8 221.0h0M533.2 128.5h0M504.0 227.0h0M521.6 239.7h0M510.7 229.1h0M678.0 174.4h0M545.7 150.3h0M555.0 245.1h0M545.2 245.1h0M535.5 218.7h0M659.2 140.2h0M507.4 108.4h0M508.0 230.9h0M526.6 230.4h0M599.5 252.7h0M636.9 278.1h0M532.8 240.7h0M605.5 271.8h0M537.0 259.2h0M604.6 264.9h0M510.3 240.8h0M499.4 101.0h0M587.7 273.2h0M498.3 228.2h0M514.8 247.6h0M487.0 230.8h0M544.0 252.8h0M486.2 229.8h0M510.8 232.0h0M552.1 251.3h0M564.8 250.3h0M582.1 244.1h0M597.1 267.0h0M530.0 246.0h0M517.1 226.0h0M546.9 244.5h0M632.6 106.6h0M546.8 248.2h0M562.9 249.2h0M567.5 133.7h0M585.0 254.3h0M466.9 217.9h0M510.8 114.6h0M660.5 150.4h0M568.8 254.8h0M463.8 227.6h0M580.0 267.6h0M693.1 212.2h0M524.2 224.4h0M488.1 217.7h0M482.5 230.1h0M518.8 249.9h0M465.7 223.5h0M600.0 275.5h0M535.2 232.3h0M590.3 274.3h0M535.1 259.7h0M522.4 241.5h0M485.3 112.3h0M547.0 236.1h0M511.4 109.0h0M535.3 237.7h0M502.3 249.6h0M562.3 249.2h0M555.1 263.5h0M626.6 274.2h0M551.9 255.6h0M532.8 252.5h0M602.9 145.6h0M588.7 258.9h0M581.6 240.0h0M529.8 237.1h0M509.8 218.6h0M530.5 240.7h0M466.0 231.8h0M561.8 243.9h0M517.4 226.8h0M520.1 253.3h0M620.8 145.2h0M509.0 108.1h0M569.9 254.4h0M599.7 262.4h0" stroke="#44448f" stroke-width="5.22" stroke-linecap="square"/><path d="M534.3 232.7h0M552.7 240.1h0M506.4 204.8h0M599.3 241.2h0M480.6 201.5h0M630.9 265.5h0M626.3 151.7h0M590.5 249.9h0M634.0 270.4h0M511.6 226.0h0M503.6 209.6h0M554.8 221.0h0M585.7 230.4h0M524.1 209.0h0M628.8 245.2h0M554.2 229.9h0M621.7 254.5h0M564.3 141.7h0M517.3 129.7h0M653.0 166.9h0M496.8 126.1h0M521.1 128.6h0M625.4 249.1h0M609.7 257.1h0M518.0 196.0h0M557.5 225.7h0M531.5 218.5h0M619.4 254.6h0M592.1 166.4h0M629.1 258.6h0M634.4 275.3h0M622.0 247.9h0M567.4 142.3h0M508.4 208.0h0M509.0 125.5h0M526.5 217.0h0M627.9 262.2h0M663.1 140.4h0M510.5 185.0h0M603.6 237.4h0M574.8 139.0h0M592.3 146.8h0M579.9 141.9h0M521.4 198.2h0M597.6 164.1h0M624.7 154.0h0M479.2 213.4h0M533.5 210.8h0M535.6 136.3h0M511.8 208.1h0M545.5 220.0h0M590.8 238.3h0M641.7 265.4h0M449.1 203.4h0M539.4 165.2h0M598.4 240.2h0M610.1 246.2h0M640.9 263.7h0M521.4 206.3h0M481.3 220.0h0M641.1 268.3h0M565.9 221.8h0M527.2 128.6h0M617.8 271.0h0M495.7 116.0h0M589.5 229.0h0M579.7 249.9h0M637.1 273.5h0M549.5 177.6h0M552.0 133.9h0M587.1 248.3h0M485.8 130.0h0M572.8 142.7h0M623.5 266.4h0M611.2 154.6h0M523.9 208.4h0M495.6 198.5h0M576.8 224.3h0M633.3 205.8h0M617.2 287.5h0M503.6 113.2h0M616.8 159.5h0M543.5 136.0h0M631.4 158.1h0M504.6 118.5h0M632.1 264.8h0M604.3 146.8h0M505.4 222.7h0M576.0 244.5h0M537.9 210.4h0M648.9 161.5h0M512.4 197.6h0M508.6 116.4h0M534.5 128.5h0M547.6 173.7h0M550.6 202.5h0M530.6 129.0h0M623.0 158.2h0M549.3 220.5h0M606.3 250.0h0M539.3 219.8h0M464.9 206.1h0M575.2 141.0h0M592.3 235.1h0M531.4 211.6h0M575.3 229.9h0M592.6 230.6h0M638.9 166.3h0M527.9 219.9h0M603.8 149.0h0M508.1 199.2h0M524.8 205.8h0" stroke="#2b7a8e" stroke-width="6.00" stroke-linecap="round"/><path d="M605.9 179.2h0M596.2 148.7h0M540.9 215.2h0M598.2 237.3h0M546.1 218.8h0M615.1 243.0h0M516.3 205.7h0M492.3 124.4h0M540.7 140.3h0M576.0 228.8h0M532.1 220.7h0M586.9 229.5h0M487.8 215.0h0M607.3 257.2h0M592.1 244.2h0M641.7 159.1h0M541.4 220.2h0M526.9 216.6h0M498.2 213.5h0M576.2 233.8h0M679.5 168.4h0M475.9 111.0h0M568.6 227.6h0M630.5 182.1h0M536.7 217.2h0M477.2 209.6h0M631.8 158.8h0M638.7 159.7h0M622.4 260.5h0M635.7 266.9h0M479.1 221.0h0M588.4 232.1h0M546.1 212.2h0M509.5 119.7h0M621.6 259.3h0M593.0 233.5h0M636.1 268.1h0M600.3 252.8h0M559.4 164.5h0M560.8 230.6h0M650.1 160.6h0M488.2 120.0h0M534.8 210.6h0M606.7 246.9h0M509.6 110.7h0M519.5 122.8h0M486.2 213.7h0M667.2 163.2h0M544.3 225.1h0M605.0 153.2h0M481.4 116.9h0M561.5 222.4h0M530.7 221.7h0M596.4 154.8h0M619.3 249.4h0M503.0 117.9h0M593.4 246.6h0M475.4 190.3h0M617.3 252.4h0M627.2 159.8h0M619.6 253.7h0M582.8 237.2h0M481.8 192.8h0M520.5 198.1h0M601.8 236.6h0M483.3 206.2h0M530.2 174.3h0M579.8 172.1h0M540.0 222.4h0M601.7 240.5h0M575.1 252.4h0M516.4 184.5h0M642.5 255.7h0M655.0 159.8h0M627.3 249.2h0M494.8 209.9h0M507.1 114.5h0M533.1 155.8h0M496.3 196.3h0M566.8 237.6h0M545.9 220.5h0M685.6 171.4h0M565.4 144.2h0M522.2 210.6h0M495.3 211.5h0M580.1 240.2h0M656.5 271.1h0M645.5 267.3h0M553.3 221.7h0M546.1 143.2h0M490.2 203.4h0M647.8 151.7h0M518.6 211.3h0M519.1 207.0h0M498.6 224.9h0M524.0 226.5h0M511.7 198.9h0M600.5 256.1h0M680.4 175.4h0M593.3 241.3h0M617.9 246.5h0M480.5 109.2h0M575.1 244.8h0M518.3 128.7h0M572.7 243.2h0M599.7 154.4h0M537.0 233.2h0M509.6 121.1h0M607.7 235.7h0M554.0 229.0h0M560.5 174.1h0M504.9 174.5h0M610.2 241.1h0M540.6 208.0h0M592.3 235.0h0M507.0 117.3h0M626.7 155.2h0M635.3 267.8h0M636.9 256.0h0" stroke="#2b7a8e" stroke-width="5.22" stroke-linecap="square"/><path d="M596.1 234.3h0M651.3 177.7h0M534.5 189.5h0M582.9 217.3h0M643.3 227.1h0M648.8 172.9h0M514.7 177.2h0M646.4 184.9h0M647.0 212.3h0M617.3 175.6h0M631.3 169.0h0M529.4 196.1h0M630.7 251.6h0M502.9 185.1h0M686.7 209.8h0M484.5 185.8h0M653.0 180.0h0M502.3 140.1h0M598.1 160.9h0M553.3 199.8h0M544.7 205.5h0M522.1 123.0h0M657.6 177.3h0M525.3 160.4h0M491.4 188.2h0M543.9 201.1h0M685.2 187.4h0M565.1 210.3h0M500.8 121.1h0M656.2 223.1h0M491.7 191.2h0M658.7 237.7h0M692.9 184.6h0M558.1 175.9h0M597.5 220.7h0M589.4 251.2h0M666.8 258.7h0M631.6 170.4h0M644.7 173.1h0M514.7 129.0h0M589.4 226.3h0M682.8 207.8h0M557.2 145.4h0M657.0 174.5h0M498.0 149.0h0M696.6 172.5h0M641.8 252.8h0M522.8 187.9h0M602.9 155.0h0M490.9 181.2h0M604.0 254.0h0M556.5 140.8h0M596.1 167.6h0M547.2 163.3h0M661.1 204.8h0M655.9 257.9h0M645.2 230.6h0M523.4 191.3h0M577.2 147.9h0M606.5 220.2h0M619.1 158.8h0M494.9 186.4h0M591.9 229.5h0M601.5 230.6h0M569.1 214.8h0M527.4 159.7h0M514.9 196.4h0" stroke="#25a785" stroke-width="6.00" stroke-linecap="round"/><path d="M583.4 225.1h0M513.9 135.7h0M604.4 208.7h0M545.8 143.4h0M518.1 187.5h0M590.7 223.8h0M656.0 260.0h0M609.4 241.2h0M562.7 164.8h0M562.4 211.0h0M503.2 191.2h0M676.4 246.4h0M628.7 165.5h0M597.9 156.5h0M572.9 213.9h0M515.2 134.1h0M556.3 210.0h0M640.4 168.6h0M539.4 136.0h0M516.1 130.2h0M527.0 139.2h0M649.9 254.3h0M630.2 242.0h0M505.8 186.0h0M647.8 174.8h0M553.1 207.2h0M656.5 252.8h0M532.7 194.0h0M622.5 277.0h0M579.4 218.4h0M610.4 218.5h0M610.8 162.8h0M634.7 172.6h0M482.2 132.0h0M724.1 230.4h0M617.3 239.4h0M602.6 162.7h0M631.5 191.8h0M676.9 242.6h0M549.4 196.3h0M512.3 127.6h0M511.5 130.7h0M590.4 154.7h0M641.1 251.9h0M508.9 236.8h0M526.0 150.1h0M556.1 202.1h0M605.8 154.6h0M511.5 190.8h0M534.7 193.9h0M498.9 151.2h0M516.7 131.8h0M509.4 126.9h0M691.3 183.4h0" stroke="#25a785" stroke-width="5.22" stroke-linecap="square"/><path d="M597.6 207.0h0M550.8 166.3h0M633.3 172.6h0M465.8 175.3h0M555.2 165.9h0M659.4 213.2h0M514.1 137.7h0M514.0 181.6h0M613.9 183.6h0M500.9 169.6h0M638.3 213.8h0M648.0 182.6h0M527.6 163.1h0M567.4 145.8h0M589.2 219.5h0M680.5 196.3h0M567.9 203.3h0M551.2 200.5h0M688.8 261.8h0M473.9 175.3h0M726.1 188.1h0M503.5 188.4h0M582.6 185.6h0M531.4 168.2h0M582.4 167.1h0M581.8 218.0h0M533.3 163.7h0M508.8 181.0h0M558.6 205.8h0M554.4 174.9h0M626.6 234.5h0M539.2 189.1h0M547.6 198.2h0M466.4 159.2h0M685.8 191.9h0M545.9 171.1h0M527.1 175.7h0M594.3 162.4h0M580.9 159.7h0M494.7 123.0h0M661.9 256.4h0M503.9 139.9h0M599.6 156.2h0M569.3 206.5h0M473.5 147.3h0M665.4 205.3h0M633.9 243.2h0M537.1 145.9h0M624.3 177.3h0M638.7 245.0h0M577.0 192.6h0M515.6 142.6h0M547.0 243.2h0M619.5 229.1h0M523.7 144.6h0M642.3 247.9h0M678.8 196.9h0M527.1 143.8h0M539.6 189.6h0M519.5 139.3h0" stroke="#7dcd55" stroke-width="6.00" stroke-linecap="round"/><path d="M588.9 169.3h0M624.4 222.5h0M709.0 204.2h0M627.2 238.4h0M562.1 175.1h0M735.3 227.3h0M688.7 232.5h0M681.1 197.8h0M515.0 190.7h0M667.9 179.6h0M538.6 130.2h0M590.2 153.9h0M734.3 225.0h0M681.0 244.5h0M557.9 143.4h0M611.4 214.3h0M514.8 150.6h0M505.3 113.7h0M517.3 142.5h0M652.0 256.3h0M621.3 168.2h0M546.3 211.6h0M573.3 167.0h0M577.3 157.8h0M573.5 192.3h0M645.0 222.6h0M497.4 143.1h0M633.6 197.3h0M529.0 145.3h0M497.3 142.3h0M623.3 282.9h0M656.9 214.8h0M623.7 237.1h0M612.5 182.7h0M646.2 174.4h0M485.9 182.1h0M491.1 141.9h0M647.8 231.0h0M516.8 180.2h0M610.3 160.5h0M488.1 169.3h0M695.3 178.6h0M502.4 185.5h0M488.2 178.0h0M525.3 141.1h0M689.6 261.8h0M650.7 241.7h0M502.5 189.7h0M625.7 237.6h0M654.4 254.8h0M565.7 183.3h0" stroke="#7dcd55" stroke-width="5.22" stroke-linecap="square"/><path d="M517.7 161.1h0M632.0 226.5h0M640.0 205.6h0M556.5 194.5h0M639.4 200.4h0M590.6 185.3h0M548.3 190.2h0M672.5 214.0h0M625.6 232.6h0M546.1 189.2h0M648.4 231.9h0M697.8 258.4h0M521.7 169.3h0M656.3 253.6h0M729.0 224.2h0M574.8 197.3h0M573.1 158.4h0M665.5 194.2h0M576.9 168.3h0M556.8 168.5h0M597.6 184.4h0M686.3 202.9h0M658.5 199.0h0M746.7 210.8h0M572.2 163.6h0M628.4 176.3h0M504.1 171.4h0M616.1 216.9h0M540.5 171.0h0M559.1 154.6h0M667.4 223.0h0M496.8 166.0h0M619.1 190.5h0M612.2 195.2h0M553.6 152.8h0M612.5 204.2h0M525.6 161.5h0M705.1 193.2h0M582.1 204.4h0M525.8 154.0h0M714.9 203.8h0M497.5 155.0h0M667.7 199.7h0M657.1 240.0h0M655.1 221.5h0M553.5 185.2h0M536.4 152.2h0M567.8 191.7h0M684.2 199.6h0M687.2 223.2h0M650.7 198.9h0M608.8 174.6h0M618.1 189.0h0M614.7 201.0h0M633.4 220.7h0M518.2 181.3h0M561.8 187.5h0M669.2 249.7h0M686.7 255.1h0M602.5 197.5h0M504.0 155.1h0M567.0 159.9h0M546.6 152.5h0M566.0 163.2h0M662.5 227.9h0M623.8 200.1h0M626.5 199.7h0M634.7 241.4h0M644.4 230.6h0M712.6 239.4h0M642.5 241.0h0M515.5 165.1h0M644.9 228.4h0M618.4 216.2h0M587.3 198.6h0M728.8 211.8h0M678.4 205.4h0M652.8 229.6h0M570.6 190.5h0M650.3 188.4h0M524.1 157.9h0M513.5 148.5h0M700.7 206.5h0M676.3 218.5h0M582.1 188.6h0M682.2 241.9h0M503.9 148.0h0M500.8 169.8h0M536.7 169.5h0M639.1 193.3h0M586.9 182.6h0M612.1 223.7h0M718.9 252.6h0M705.2 254.2h0M508.8 175.5h0M627.5 214.7h0M688.5 202.0h0M568.1 184.6h0M662.6 243.9h0M614.9 185.9h0M691.8 192.4h0M521.9 185.5h0M641.7 229.5h0M535.6 162.1h0M617.3 215.0h0M608.1 176.0h0M553.6 199.3h0M512.0 151.0h0M559.4 181.7h0M549.7 176.2h0M601.0 219.6h0M637.0 234.6h0M505.1 165.6h0M491.2 168.6h0M630.5 195.0h0M618.7 213.3h0M613.1 194.8h0M635.6 177.2h0M523.4 159.5h0M696.8 257.4h0M603.3 183.2h0M599.0 168.7h0M529.4 169.0h0M510.2 159.5h0M531.3 167.6h0M570.6 201.7h0M583.8 206.5h0M661.5 238.3h0M520.4 144.2h0M589.5 199.6h0M564.2 158.6h0M651.5 215.3h0M601.1 190.4h0M540.0 159.1h0M531.2 186.1h0M612.2 224.1h0M644.3 243.5h0M576.5 170.1h0M503.6 156.0h0M582.1 159.6h0M554.2 164.0h0M541.6 181.3h0M532.3 162.7h0M569.4 204.6h0M480.7 160.0h0M706.8 216.9h0" stroke="#f8e42a" stroke-width="6.00" stroke-linecap="round"/><path d="M689.0 259.5h0M702.6 230.8h0M580.9 175.4h0M601.1 195.6h0M683.4 205.2h0M607.9 215.5h0M673.0 232.2h0M610.5 193.5h0M693.2 226.0h0M615.6 203.3h0M669.1 212.3h0M564.9 202.3h0M503.0 185.0h0M669.7 249.1h0M597.4 192.3h0M669.1 194.7h0M633.0 202.7h0M651.1 217.1h0M539.1 185.9h0M609.8 182.7h0M656.3 210.9h0M606.5 173.0h0M613.0 210.3h0M597.5 164.6h0M662.4 219.0h0M592.3 182.7h0M648.5 218.1h0M485.2 155.7h0M582.7 159.4h0M701.9 258.4h0M507.9 173.1h0M573.0 172.9h0M501.8 177.6h0M535.9 198.1h0M479.5 149.9h0M652.0 263.0h0M504.0 175.2h0M517.7 148.3h0M645.8 212.0h0M474.8 167.5h0M643.3 184.7h0M720.8 250.4h0M520.5 175.0h0M679.7 207.9h0M490.8 143.8h0M566.3 185.8h0M656.4 210.1h0M617.6 205.3h0M596.1 210.4h0M741.1 217.5h0M679.7 252.1h0M618.7 201.0h0M589.0 169.7h0M550.7 182.5h0M563.9 177.7h0M623.8 193.7h0M513.0 176.1h0M708.8 196.0h0M481.7 171.5h0M610.2 214.1h0M523.9 167.6h0M512.1 171.4h0M597.7 174.3h0M658.0 246.4h0M704.1 191.0h0M719.5 207.9h0M631.0 199.0h0M577.7 204.3h0M507.0 174.4h0M537.4 175.4h0M578.8 189.5h0M643.7 241.4h0M694.9 264.0h0M562.4 197.3h0M661.0 193.4h0M664.0 183.2h0M731.8 220.7h0M722.8 249.9h0M609.7 211.3h0M485.3 155.9h0M519.3 183.3h0M631.1 237.8h0M555.3 246.8h0M582.7 165.1h0M575.1 189.3h0M496.2 151.2h0M584.1 179.2h0M480.5 165.9h0M539.9 180.8h0M560.1 198.9h0M604.8 209.7h0M617.0 277.5h0M485.1 146.8h0M548.4 184.7h0M563.7 188.1h0M644.1 181.8h0M623.2 179.3h0M576.9 198.1h0M602.9 177.3h0M601.4 206.7h0M613.5 215.3h0M615.5 209.8h0M573.6 194.4h0M591.1 178.2h0M556.9 197.7h0M697.8 248.8h0M556.5 184.9h0M608.0 205.3h0M617.0 188.6h0M639.2 207.4h0M632.8 223.0h0M641.8 142.4h0M673.2 222.1h0M603.6 214.6h0M557.9 157.9h0M666.6 251.9h0M567.0 204.3h0M630.2 178.2h0M583.5 196.9h0M599.5 191.1h0M605.0 197.2h0M519.3 161.0h0M619.7 209.7h0M506.6 178.3h0M665.8 197.5h0M678.5 239.3h0M669.1 241.4h0M679.9 201.5h0M553.9 163.3h0M485.4 162.2h0M679.7 186.1h0M656.6 184.2h0M513.7 167.1h0M527.1 162.1h0M707.0 199.5h0M700.8 229.5h0M569.5 168.9h0M582.0 184.7h0M613.6 193.8h0M701.7 251.5h0M653.3 239.0h0M690.5 232.6h0M679.1 257.2h0M650.5 205.0h0M672.7 247.2h0M726.7 207.7h0" stroke="#f8e42a" stroke-width="5.22" stroke-linecap="square"/><path d="M577.9 92.2h0M523.8 111.7h0M623.9 122.5h0M549.0 129.4h0M632.9 143.6h0M586.7 104.6h0M540.9 104.9h0M580.7 111.7h0M567.5 88.7h0M550.9 88.1h0M649.3 123.4h0M526.8 112.1h0M577.2 110.6h0M627.5 121.8h0M536.6 126.6h0M647.5 150.7h0M616.1 131.3h0M610.8 95.9h0M634.9 115.6h0M620.3 96.1h0M549.6 100.3h0M696.0 173.0h0M653.0 131.0h0M579.5 116.2h0M598.6 112.3h0M584.7 99.4h0M537.8 113.0h0M531.8 93.0h0M534.3 86.6h0M647.5 146.4h0M531.0 92.4h0M645.3 147.6h0M543.2 81.1h0M593.8 134.8h0M601.3 89.0h0M522.3 90.3h0M538.8 100.6h0M565.4 102.4h0M571.0 97.3h0M644.7 150.1h0M545.5 95.5h0M574.5 99.9h0M491.0 240.8h0M560.2 101.8h0M524.1 94.5h0M587.0 112.0h0M507.2 254.7h0M550.7 125.1h0M508.7 246.8h0M626.7 111.3h0M532.9 104.9h0M582.9 137.7h0M654.1 134.7h0M563.1 281.0h0M614.3 135.7h0M603.9 102.3h0M621.4 145.1h0M714.1 178.7h0M577.8 110.9h0M609.8 87.2h0M614.0 279.1h0M528.2 83.5h0M515.4 107.9h0M614.8 114.6h0M581.8 117.3h0M618.4 112.0h0M582.9 122.5h0M592.6 109.4h0M560.8 139.1h0M620.3 102.4h0M557.9 102.4h0M520.6 90.1h0M573.3 101.0h0M632.4 113.0h0M553.3 127.6h0M565.9 99.3h0M577.4 276.4h0M644.1 134.5h0M531.1 80.9h0M577.0 93.9h0M625.1 106.8h0M570.8 126.8h0M602.6 115.3h0M608.0 117.8h0M655.9 159.0h0M551.4 125.4h0M558.1 98.4h0M550.7 101.3h0M535.7 96.2h0M605.7 125.5h0M534.6 258.0h0M518.6 101.1h0M558.4 106.0h0M503.2 103.3h0M643.8 106.8h0M557.0 86.2h0M538.9 98.2h0M654.7 142.1h0M531.0 122.7h0M567.2 88.9h0M579.1 100.6h0M548.6 79.0h0M655.2 133.0h0M633.0 266.8h0M587.1 90.6h0M648.2 123.9h0M520.5 98.3h0M617.0 140.9h0M542.8 88.2h0M644.8 115.4h0M598.5 94.7h0M571.6 130.6h0M691.9 231.7h0M597.5 112.5h0M530.4 88.8h0M498.9 249.1h0M593.9 118.1h0M541.4 96.7h0M549.5 267.5h0M609.2 104.6h0M604.7 103.1h0M561.5 135.6h0M518.7 262.3h0M507.6 255.8h0M578.3 126.4h0M565.3 122.8h0M625.3 91.5h0M631.6 100.6h0M598.9 138.3h0M609.9 146.6h0M596.5 92.9h0M540.9 265.2h0M607.7 132.9h0M580.0 84.3h0M633.4 119.0h0M564.4 120.3h0M608.4 100.1h0M598.1 127.4h0M621.3 123.0h0M577.7 133.7h0M673.3 155.4h0M539.3 88.4h0M611.9 97.4h0M579.5 105.3h0M576.7 109.1h0" stroke="#421058" stroke-width="6.00" stroke-linecap="round"/><path d="M501.9 242.4h0M550.8 120.4h0M536.6 113.1h0M535.2 115.6h0M588.6 76.1h0M647.8 130.3h0M634.2 131.4h0M595.6 110.0h0M579.3 117.7h0M551.8 123.9h0M641.9 132.6h0M625.3 116.8h0M528.3 96.4h0M615.6 95.1h0M637.5 131.3h0M520.0 252.0h0M632.6 113.4h0M563.6 69.7h0M615.5 137.1h0M522.1 101.8h0M580.7 89.2h0M597.9 129.6h0M474.1 228.4h0M570.7 218.1h0M633.7 122.8h0M617.3 278.5h0M587.5 99.2h0M576.3 88.5h0M607.7 107.7h0M604.5 105.8h0M644.5 125.1h0M644.4 149.7h0M545.3 77.9h0M609.7 99.3h0M624.6 95.5h0M545.2 121.5h0M584.9 90.1h0M553.8 90.7h0M603.9 129.8h0M623.0 147.8h0M595.0 128.7h0M529.4 91.0h0M617.1 130.3h0M631.4 111.5h0M488.1 240.0h0M704.4 194.1h0M584.5 127.6h0M655.0 140.4h0M598.1 140.6h0M656.8 149.5h0M561.7 84.6h0M611.9 94.4h0M589.3 109.6h0M669.4 155.5h0M574.4 138.5h0M609.9 125.6h0M663.4 192.2h0M654.1 145.7h0M597.7 117.8h0M617.7 269.0h0M603.1 94.4h0M584.9 90.8h0M639.3 134.1h0M587.3 128.2h0M620.2 129.6h0M501.3 90.8h0M568.5 85.5h0M572.7 124.9h0M585.1 77.7h0M521.2 106.7h0M536.4 134.9h0M579.0 274.7h0M610.8 214.6h0M687.0 163.1h0M651.5 150.4h0M580.5 107.8h0M541.1 123.6h0M716.4 241.6h0M596.8 124.3h0M562.3 113.3h0M608.6 146.7h0M563.4 277.6h0M619.1 127.0h0M616.7 165.7h0M517.7 83.4h0M568.6 110.6h0M538.9 95.9h0M545.1 128.7h0M635.5 284.0h0M626.9 116.3h0M610.6 94.9h0M561.0 108.5h0M605.0 105.1h0M506.1 102.7h0M560.8 103.4h0M627.8 144.1h0M531.2 81.2h0M577.3 115.0h0M572.9 96.3h0M498.3 241.9h0M621.2 103.3h0M602.1 97.7h0M641.1 112.6h0M503.4 252.8h0M618.2 98.2h0M548.2 122.4h0M592.4 110.7h0M619.8 87.0h0M591.6 98.6h0M630.5 148.3h0M603.3 140.1h0M570.3 106.7h0M570.3 87.0h0M632.5 100.8h0M628.6 100.8h0M575.6 274.9h0M546.9 83.4h0M597.9 131.3h0M625.4 116.3h0M613.7 133.3h0M579.6 275.5h0M542.5 96.3h0M533.5 116.3h0M568.0 104.9h0M597.4 119.4h0M489.2 236.1h0M651.0 146.2h0M548.8 121.6h0M568.8 120.9h0M629.4 138.7h0M644.6 130.5h0M667.0 150.2h0M615.9 138.5h0M566.5 120.3h0M625.4 104.5h0M567.8 145.9h0M609.3 100.0h0M541.2 117.3h0M544.6 87.8h0M517.5 96.6h0M556.0 73.2h0M630.4 125.0h0M545.1 78.8h0M549.5 81.2h0M528.7 107.9h0M508.1 95.1h0M644.1 142.7h0M719.4 195.4h0M607.0 129.1h0M556.4 127.3h0M630.6 105.5h0M614.2 121.5h0M620.5 112.1h0M560.4 128.3h0M581.5 274.4h0M571.2 145.1h0M635.7 98.5h0M605.0 113.7h0" stroke="#421058" stroke-width="5.22" stroke-linecap="square"/><path d="M572.4 253.7h0M457.8 218.2h0M571.1 246.2h0M539.7 132.9h0M649.1 156.5h0M598.5 262.9h0M593.7 244.4h0M625.8 149.5h0M486.2 233.8h0M568.2 254.8h0M591.7 269.7h0M536.1 232.5h0M516.2 239.1h0M663.1 156.2h0M510.7 246.8h0M627.2 272.7h0M559.8 256.9h0M556.1 241.3h0M570.9 264.8h0M593.8 262.6h0M604.0 270.7h0M483.2 215.4h0M589.3 262.7h0M507.5 228.1h0M499.5 102.4h0M512.7 225.2h0M517.1 233.2h0M582.0 255.0h0M516.3 260.0h0M557.0 260.4h0M677.2 167.1h0M543.1 236.7h0M609.7 284.9h0M583.1 258.1h0M515.3 225.7h0M597.3 260.1h0M529.2 229.4h0M532.4 268.4h0M546.1 249.9h0M562.5 254.8h0M573.4 125.0h0M572.3 242.8h0M617.9 147.8h0M490.7 233.7h0M654.3 164.0h0M525.2 243.6h0M603.0 143.0h0M523.3 225.2h0M577.1 239.0h0M586.4 271.0h0M621.9 268.7h0M553.3 245.0h0M549.0 251.7h0M592.4 257.0h0M583.4 246.4h0M589.5 269.7h0M643.8 148.5h0M589.7 204.9h0M556.7 130.6h0M558.8 257.2h0M581.2 279.8h0M475.3 216.3h0M564.8 271.2h0M589.3 181.0h0M562.3 251.2h0M484.6 219.1h0M703.2 249.3h0M506.0 239.3h0M597.2 254.4h0M486.4 226.2h0M668.1 216.7h0M511.8 246.4h0M591.3 271.6h0M492.0 245.4h0M577.1 271.1h0M521.1 243.0h0M552.2 249.0h0M584.5 143.4h0M557.5 256.3h0M577.0 255.3h0M610.0 275.8h0M546.4 242.2h0M555.1 246.7h0M605.0 140.3h0M509.6 113.7h0M603.9 271.8h0M556.2 261.4h0M525.0 245.5h0M546.0 255.4h0M554.3 256.1h0M494.5 234.3h0M693.0 170.9h0M519.9 251.9h0M469.7 213.6h0M636.1 153.4h0M553.1 251.5h0M556.2 108.8h0" stroke="#44448f" stroke-width="6.00" stroke-linecap="round"/><path d="M525.6 247.9h0M571.8 269.0h0M498.2 215.5h0M530.4 240.5h0M564.4 238.6h0M576.2 259.0h0M534.5 239.3h0M538.7 248.0h0M611.1 149.4h0M515.5 225.7h0M522.2 216.7h0M512.0 226.9h0M492.7 108.2h0M515.0 224.3h0M491.4 230.1h0M560.4 237.7h0M579.9 268.4h0M527.1 221.8h0M588.3 273.2h0M573.1 252.6h0M628.5 264.9h0M608.4 260.1h0M465.0 213.7h0M594.8 144.0h0M486.7 229.2h0M515.2 248.1h0M596.7 261.2h0M639.7 273.7h0M520.2 228.7h0M554.1 239.5h0M573.4 182.8h0M539.9 224.5h0M512.4 232.7h0M651.0 227.9h0M509.6 104.4h0M493.8 102.0h0M572.4 243.7h0M584.7 142.2h0M591.0 273.2h0M550.9 248.9h0M680.3 171.0h0M601.9 281.7h0M622.3 276.6h0M476.2 208.2h0M500.3 241.7h0M584.7 256.2h0M525.4 121.7h0M635.4 155.5h0M604.7 146.6h0M535.9 250.3h0M579.6 152.6h0M575.4 254.9h0M507.2 244.9h0M485.8 230.5h0M589.3 261.6h0M522.0 245.3h0M533.6 252.5h0M512.0 228.4h0M692.9 252.6h0M487.7 231.3h0M517.8 234.4h0M549.2 232.3h0M544.5 258.8h0M557.0 263.0h0M522.5 90.9h0M565.9 257.3h0M515.0 238.3h0M572.1 257.6h0M558.7 247.0h0M562.0 259.6h0M591.7 133.2h0M604.8 268.1h0M530.8 249.5h0M539.3 247.9h0M616.7 154.0h0M554.5 257.0h0M558.7 234.9h0M597.9 271.7h0M486.0 238.8h0M618.6 276.6h0M561.4 256.2h0M591.2 269.4h0M533.2 241.5h0M519.7 234.1h0M632.4 153.6h0M558.8 253.3h0M573.3 255.9h0M632.2 157.8h0M517.5 232.9h0M545.3 133.8h0M608.7 266.0h0M554.8 159.4h0M471.6 225.0h0M518.9 236.3h0M584.2 252.8h0M545.9 233.1h0M652.3 128.3h0M665.3 223.8h0M538.3 258.7h0M558.0 136.6h0M567.1 255.8h0M600.4 282.7h0M510.4 229.0h0M509.7 130.3h0M562.5 239.4h0M469.4 222.3h0M577.1 233.2h0M517.3 118.9h0M468.2 224.7h0M635.7 269.9h0M520.5 251.4h0M510.0 214.3h0M600.6 279.8h0M507.0 219.0h0M605.2 274.7h0M505.3 111.1h0M532.8 231.6h0M560.2 254.0h0M617.0 276.0h0M474.8 207.7h0M524.3 252.4h0M487.2 230.1h0" stroke="#44448f" stroke-width="5.22" stroke-linecap="square"/><path d="M605.1 245.7h0M608.7 249.5h0M584.8 248.3h0M611.9 205.7h0M596.2 245.2h0M613.5 246.6h0M529.0 208.8h0M528.0 212.7h0M583.6 238.0h0M542.7 224.4h0M517.2 133.2h0M563.0 208.9h0M495.6 116.7h0M511.8 210.0h0M567.2 227.2h0M569.7 233.8h0M623.0 262.2h0M518.7 180.0h0M517.9 204.3h0M470.7 218.7h0M625.5 259.1h0M515.0 206.0h0M484.7 112.1h0M546.3 206.5h0M499.5 216.1h0M590.3 149.6h0M526.3 128.9h0M583.2 238.9h0M563.4 240.9h0M579.6 242.1h0M575.7 234.5h0M635.2 259.4h0M578.8 249.0h0M497.3 213.5h0M590.9 236.9h0M713.4 167.4h0M587.0 254.9h0M525.7 245.0h0M607.2 250.6h0M578.4 143.3h0M478.2 116.2h0M497.2 115.6h0M618.6 161.1h0M631.8 254.3h0M614.5 244.4h0M560.0 237.7h0M533.2 204.7h0M576.5 231.9h0M552.8 226.2h0M638.7 261.7h0M614.4 206.0h0M521.7 202.5h0M603.8 251.6h0M586.2 243.6h0M515.9 212.7h0M550.4 142.2h0M603.3 149.3h0M604.5 249.7h0M473.0 194.7h0M502.3 220.8h0M528.2 127.8h0M679.6 179.5h0M603.1 191.3h0M628.5 270.3h0M587.1 227.7h0M637.7 159.0h0M631.2 255.9h0M540.6 222.0h0M473.1 185.3h0M487.7 223.0h0M665.0 267.5h0M672.8 181.1h0M549.4 228.3h0M566.6 231.4h0M583.7 228.4h0M525.2 209.2h0M737.5 224.3h0M516.7 216.5h0M673.6 159.8h0M725.5 186.1h0M563.7 224.8h0M658.4 143.5h0M553.7 232.7h0M577.7 233.9h0M559.9 233.2h0M630.9 266.7h0M477.2 196.4h0M477.7 203.2h0M636.3 166.6h0M508.0 119.5h0M609.7 250.1h0M642.3 188.4h0M659.0 167.2h0M532.6 148.7h0M488.5 221.9h0M510.0 214.3h0M508.7 223.5h0M504.1 203.3h0M572.0 233.7h0M452.7 198.5h0M476.2 153.1h0M549.3 253.3h0M594.7 164.5h0M620.9 228.8h0M591.7 252.7h0M562.3 229.2h0M650.3 168.5h0M555.4 224.4h0M636.6 165.3h0M555.6 134.1h0" stroke="#2b7a8e" stroke-width="6.00" stroke-linecap="round"/><path d="M578.2 204.2h0M582.9 143.1h0M630.4 268.7h0M704.8 175.4h0M609.0 196.4h0M546.4 224.0h0M517.2 221.0h0M585.0 150.8h0M578.6 247.8h0M708.4 191.4h0M611.5 245.3h0M611.0 153.6h0M551.5 136.2h0M517.6 205.9h0M587.5 148.8h0M550.1 228.3h0M614.2 247.2h0M587.8 240.5h0M554.8 225.2h0M467.2 204.2h0M579.2 246.0h0M549.9 203.2h0M522.7 217.5h0M704.6 177.1h0M529.2 221.9h0M503.0 214.5h0M504.6 117.7h0M632.0 165.1h0M533.9 140.1h0M569.6 231.8h0M624.5 255.6h0M587.9 246.1h0M628.9 160.9h0M645.4 164.8h0M581.6 194.5h0M609.3 260.2h0M543.0 217.0h0M536.9 203.5h0M696.9 211.7h0M662.6 175.8h0M516.7 216.8h0M519.5 209.9h0M497.1 226.5h0M602.5 261.7h0M671.6 248.0h0M558.6 138.5h0M504.3 197.4h0M533.1 211.2h0M513.9 204.7h0M568.9 139.6h0M603.8 251.3h0M499.8 122.2h0M472.4 206.9h0M607.3 264.5h0M526.2 216.7h0M588.9 231.4h0M607.4 246.2h0M600.4 150.5h0M505.6 115.4h0M656.4 161.3h0M590.7 247.4h0M633.8 263.9h0M537.6 125.4h0M556.3 224.2h0M516.5 122.9h0M585.9 233.9h0M581.3 228.4h0M521.8 218.2h0M679.4 211.9h0M463.5 195.7h0M493.3 221.4h0M523.0 206.6h0M548.2 219.7h0M662.6 174.0h0M500.1 211.5h0M537.9 202.5h0M562.6 137.1h0M503.9 117.6h0M629.3 163.1h0M514.2 214.1h0M574.3 230.5h0M630.1 258.2h0M572.9 250.1h0M521.1 130.3h0M563.8 244.2h0M620.5 154.9h0M656.6 273.2h0M549.1 228.6h0M641.9 269.9h0M558.1 220.2h0M548.9 136.4h0M578.5 236.5h0M619.3 246.8h0M548.9 205.7h0M515.6 216.0h0M601.2 253.8h0M520.8 136.8h0M699.0 177.8h0M477.0 177.5h0M531.1 130.5h0M633.7 158.5h0M627.3 259.1h0" stroke="#2b7a8e" stroke-width="5.22" stroke-linecap="square"/><path d="M497.9 128.5h0M651.3 256.0h0M517.3 137.8h0M580.5 217.2h0M524.6 138.7h0M476.8 180.6h0M532.7 148.0h0M589.1 193.7h0M572.4 144.5h0M537.0 142.5h0M653.7 169.0h0M581.3 148.4h0M545.0 206.8h0M672.9 175.3h0M591.0 222.0h0M482.9 187.9h0M663.7 178.2h0M628.3 242.9h0M640.5 257.5h0M520.6 131.8h0M526.5 195.1h0M617.2 235.1h0M685.4 183.8h0M514.8 138.6h0M607.9 233.9h0M537.2 141.9h0M498.8 140.1h0M563.5 173.2h0M504.2 191.1h0M607.6 230.1h0M555.6 212.0h0M600.4 183.0h0M606.5 211.6h0M529.8 134.1h0M612.0 241.8h0M593.2 153.5h0M632.8 235.7h0M515.8 142.9h0M507.5 200.0h0M476.8 135.2h0M505.1 130.4h0M608.6 242.1h0M520.5 197.1h0M523.3 133.3h0M688.0 177.7h0M496.0 174.6h0M565.8 156.4h0M641.4 251.8h0M578.9 198.1h0M488.9 187.6h0M593.1 231.0h0M483.7 181.3h0M650.9 219.6h0M517.0 131.8h0M535.9 141.6h0M530.6 191.7h0M485.0 145.8h0M521.1 190.4h0M533.3 142.5h0M566.8 216.6h0M500.8 231.4h0M500.7 194.9h0M621.5 226.0h0M681.8 189.7h0M490.6 125.6h0M618.9 164.7h0M617.9 169.5h0M562.4 208.6h0" stroke="#25a785" stroke-width="6.00" stroke-linecap="round"/><path d="M660.6 193.6h0M592.2 151.5h0M620.4 161.8h0M611.3 159.7h0M627.7 163.3h0M619.9 244.0h0M551.3 142.5h0M461.0 182.2h0M498.2 197.4h0M552.7 201.7h0M675.5 178.8h0M590.8 167.9h0M592.8 206.9h0M676.5 187.2h0M483.8 192.1h0M596.8 233.3h0M600.2 232.7h0M544.2 192.9h0M631.6 163.0h0M488.2 124.2h0M484.6 131.1h0M687.1 183.3h0M498.6 193.4h0M700.3 272.2h0M624.4 169.0h0M602.0 167.3h0M521.9 142.4h0M485.3 181.3h0M645.4 252.3h0M537.8 182.5h0M468.1 185.7h0M508.4 193.0h0M537.4 202.2h0M645.1 220.7h0M636.0 248.3h0M531.4 200.7h0M507.9 198.2h0M589.3 227.8h0M547.1 201.5h0M637.0 165.9h0M573.9 215.4h0M542.8 149.2h0M642.8 170.7h0M568.4 214.0h0M570.7 145.5h0M502.0 130.2h0M455.6 183.7h0M500.7 127.6h0M538.5 202.8h0M527.8 198.2h0M607.1 236.1h0M498.6 251.6h0M573.7 268.5h0M614.0 242.0h0M515.9 195.8h0M536.1 142.4h0M559.7 141.1h0M541.9 201.0h0M631.1 249.2h0M618.0 246.5h0M611.7 155.9h0M514.2 133.3h0M519.8 192.6h0M603.5 148.3h0M489.7 129.3h0M597.1 175.4h0M536.4 139.4h0M692.7 219.2h0" stroke="#25a785" stroke-width="5.22" stroke-linecap="square"/><path d="M483.6 182.5h0M646.1 226.3h0M589.1 150.7h0M631.0 170.3h0M548.2 175.9h0M707.6 187.6h0M517.7 218.7h0M568.3 196.0h0M656.5 208.0h0M561.6 208.9h0M641.4 237.5h0M623.5 172.7h0M615.8 229.1h0M635.7 251.7h0M627.2 176.1h0M637.0 266.5h0M600.6 218.7h0M698.1 270.8h0M590.5 154.2h0M693.6 225.1h0M610.0 229.7h0M514.6 189.9h0M694.4 186.6h0M682.8 259.6h0M596.9 207.7h0M526.6 161.3h0M646.9 229.6h0M535.1 195.2h0M614.0 157.8h0M567.6 148.4h0M621.3 173.3h0M570.3 188.4h0M574.6 213.3h0M704.6 184.1h0M530.7 141.3h0M596.3 166.8h0M613.6 223.0h0M620.8 182.9h0M699.5 188.4h0M635.4 203.2h0M657.2 180.2h0M597.6 178.7h0M609.6 228.9h0M533.8 189.6h0M680.4 250.5h0" stroke="#7dcd55" stroke-width="6.00" stroke-linecap="round"/><path d="M585.1 213.5h0M620.8 180.6h0M630.8 240.5h0M621.3 156.0h0M472.0 145.3h0M621.9 166.4h0M676.1 178.7h0M608.5 219.6h0M640.9 172.0h0M618.8 161.5h0M504.6 186.4h0M548.8 149.5h0M556.6 200.5h0M608.4 229.7h0M538.5 148.5h0M572.8 197.0h0M625.2 174.8h0M502.0 140.8h0M644.7 172.5h0M495.0 174.1h0M667.2 240.0h0M610.8 164.4h0M532.4 176.8h0M505.0 139.0h0M656.9 193.3h0M587.3 178.4h0M513.9 182.6h0M554.9 154.5h0M520.2 167.5h0M644.5 213.6h0M610.5 222.1h0M585.7 191.4h0M531.9 142.4h0M672.2 259.8h0M597.1 160.2h0M707.4 218.8h0M591.5 179.3h0M491.7 163.9h0M603.1 165.3h0M655.5 188.1h0M541.1 137.8h0M480.8 136.6h0M509.4 166.3h0M656.2 250.3h0M622.0 158.9h0M641.7 217.7h0M642.5 179.0h0M632.5 174.7h0M600.0 201.1h0M568.9 197.6h0M613.7 220.9h0M640.4 174.4h0M579.5 214.8h0M555.4 200.7h0" stroke="#7dcd55" stroke-width="5.22" stroke-linecap="square"/><path d="M472.2 146.5h0M558.3 188.0h0M561.3 168.1h0M647.1 217.2h0M637.8 195.3h0M551.9 156.9h0M662.6 225.0h0M634.9 181.7h0M594.9 161.1h0M503.7 157.2h0M650.3 230.4h0M539.9 160.3h0M639.6 227.9h0M614.7 180.6h0M608.0 199.5h0M595.3 215.5h0M521.3 160.1h0M540.1 153.4h0M648.0 192.9h0M609.2 162.0h0M585.9 162.5h0M543.4 179.6h0M701.2 206.6h0M628.2 198.3h0M653.0 244.3h0M586.9 188.2h0M628.5 224.9h0M555.5 182.0h0M684.8 226.4h0M664.4 202.3h0M619.8 181.0h0M513.5 158.5h0M579.1 172.4h0M489.4 177.8h0M517.9 140.4h0M593.1 180.9h0M681.6 246.6h0M506.3 160.3h0M631.3 219.3h0M672.1 203.0h0M674.0 256.7h0M667.0 219.7h0M601.9 174.3h0M676.0 233.9h0M534.1 168.4h0M679.6 217.2h0M486.8 172.6h0M576.2 170.0h0M594.5 160.4h0M689.4 224.3h0M514.3 172.6h0M654.7 250.2h0M557.5 197.5h0M601.6 219.1h0M511.5 144.3h0M636.8 190.1h0M531.2 185.3h0M675.4 200.8h0M512.7 166.6h0M618.8 205.6h0M509.5 150.5h0M596.1 210.5h0M491.8 153.9h0M584.0 177.0h0M649.4 181.2h0M617.1 215.8h0M593.3 164.9h0M517.8 146.9h0M519.2 143.4h0M476.2 168.1h0M616.4 215.6h0M718.7 237.3h0M622.1 265.7h0M534.4 180.0h0M573.4 190.1h0M501.0 176.0h0M704.9 214.3h0M574.4 167.6h0M604.0 221.5h0M598.7 176.6h0M616.8 180.3h0M618.3 219.6h0M494.6 155.4h0M667.7 228.4h0M568.9 185.1h0M655.5 235.8h0M571.8 185.5h0M704.1 210.5h0M513.5 147.7h0M669.0 213.6h0M541.6 191.4h0M681.7 235.9h0M656.1 209.0h0M611.9 176.9h0M666.2 226.3h0M576.3 198.4h0M672.1 195.2h0M631.0 235.4h0M602.3 207.4h0M602.2 215.0h0M530.4 184.0h0M656.0 188.8h0M669.3 190.6h0M675.2 237.4h0M544.0 184.4h0M616.3 197.4h0M608.3 167.8h0M569.8 166.0h0M599.7 205.0h0M632.7 191.2h0M574.4 166.5h0M673.4 190.7h0M565.3 179.8h0M721.3 220.6h0M589.9 165.2h0M597.2 162.7h0M582.0 212.2h0M532.1 160.1h0M536.5 182.0h0M555.1 189.0h0M703.4 207.1h0M596.7 180.6h0M601.7 207.5h0M643.4 210.2h0M696.4 237.1h0M687.8 203.0h0M550.6 188.4h0M598.3 199.5h0M602.6 203.8h0M701.5 213.6h0M677.2 241.3h0M541.0 187.1h0M605.3 218.6h0M743.9 225.1h0M678.3 200.3h0M724.5 217.2h0M595.8 201.2h0M574.8 154.9h0M716.6 241.6h0M610.6 205.2h0M575.4 175.8h0M549.1 183.7h0M583.3 181.3h0M620.0 190.8h0M508.9 162.8h0M526.6 167.0h0M528.6 140.6h0M584.6 184.7h0M539.3 184.8h0M478.4 172.1h0M645.7 220.7h0M548.8 149.7h0M667.4 253.7h0M680.9 197.7h0M637.9 219.4h0M521.5 170.3h0M597.5 187.4h0M484.7 154.0h0M574.0 183.5h0M550.5 156.4h0M691.7 253.1h0M646.0 214.8h0M527.9 145.7h0M653.5 200.0h0M648.2 233.0h0M523.5 171.2h0M574.3 199.8h0M556.8 147.3h0M647.1 175.9h0M655.2 243.7h0M643.8 178.2h0M672.8 246.5h0M611.0 185.7h0M561.2 242.6h0M532.7 151.8h0M650.0 244.5h0M545.2 145.2h0M645.6 190.8h0" stroke="#f8e42a" stroke-width="6.00" stroke-linecap="round"/><path d="M672.4 189.2h0M623.4 179.7h0M546.7 160.0h0M686.7 217.4h0M649.6 219.2h0M556.8 150.0h0M630.4 181.1h0M586.4 179.1h0M515.2 149.9h0M581.8 186.1h0M632.4 180.0h0M535.1 180.3h0M495.9 168.1h0M618.0 230.8h0M716.7 196.5h0M605.9 200.1h0M550.4 167.2h0M465.4 167.6h0M736.0 210.5h0M598.6 197.5h0M610.9 171.1h0M642.8 218.7h0M505.7 158.7h0M696.1 226.1h0M621.1 181.0h0M626.4 201.5h0M530.9 155.7h0M530.1 160.1h0M617.1 181.6h0M732.9 229.7h0M716.7 242.0h0M625.5 227.0h0M660.0 253.8h0M564.3 157.2h0M665.5 240.4h0M549.7 166.2h0M528.0 171.9h0M727.5 203.6h0M541.0 192.7h0M707.7 190.4h0M594.5 186.9h0M514.5 161.3h0M687.7 186.4h0M655.4 201.8h0M610.3 169.6h0M673.1 255.0h0M702.5 243.8h0M677.5 225.9h0M639.5 195.2h0M718.8 196.1h0M642.1 196.9h0M607.1 205.2h0M643.3 187.1h0M524.7 185.5h0M542.1 167.5h0M672.2 250.6h0M564.0 171.8h0M611.0 206.7h0M541.0 182.9h0M608.4 210.3h0M551.4 163.0h0M701.8 225.5h0M645.9 203.1h0M639.2 196.4h0M577.7 202.4h0M586.0 207.3h0M709.1 255.9h0M609.5 167.8h0M704.3 228.6h0M679.4 243.6h0M605.4 206.7h0M629.1 193.5h0M542.3 175.3h0M615.0 177.6h0M543.1 149.0h0M559.2 163.5h0M508.2 142.2h0M529.6 147.8h0M553.8 152.1h0M643.2 180.2h0M594.2 192.7h0M668.4 229.8h0M581.4 190.8h0M542.9 160.8h0M575.0 203.2h0M621.6 208.5h0M602.8 183.3h0M696.1 195.0h0M582.8 183.1h0M650.4 192.3h0M590.0 178.2h0M589.8 200.9h0M673.1 201.6h0M605.0 216.5h0M699.5 231.3h0M672.1 202.4h0M484.7 174.7h0M591.9 211.4h0M567.4 191.2h0M602.6 175.2h0M558.8 190.5h0M590.4 199.0h0M628.4 180.1h0M688.2 260.1h0M678.5 214.2h0M570.8 151.4h0M695.9 238.3h0M706.5 233.3h0M668.6 203.8h0M649.3 240.6h0M707.2 198.7h0M521.6 151.8h0M502.3 180.6h0M659.4 253.7h0M645.4 245.4h0M690.2 235.5h0M613.0 188.9h0M560.9 178.2h0M697.9 257.5h0M659.6 239.7h0M514.2 171.9h0M590.8 184.8h0M584.9 188.4h0M682.5 261.2h0M583.1 207.6h0M576.3 156.2h0M725.0 202.8h0M656.3 210.6h0M613.9 208.8h0M617.0 206.3h0M519.2 177.5h0M688.2 220.1h0M499.8 172.6h0M609.6 210.5h0M617.7 177.9h0M554.6 179.2h0M504.2 174.6h0M642.9 207.4h0M572.4 189.4h0M556.4 185.3h0M685.9 219.8h0M696.2 192.6h0M504.7 143.4h0M619.0 218.7h0M581.7 168.5h0M526.5 176.9h0M587.4 172.5h0M529.8 166.6h0M555.5 192.0h0M653.5 229.1h0M605.8 165.8h0M552.5 185.6h0M638.3 217.1h0M528.3 173.9h0M510.2 150.5h0M723.5 244.9h0M672.4 226.4h0M506.7 162.7h0M583.6 164.7h0M568.8 188.9h0M585.0 201.0h0M557.6 171.8h0M642.6 221.2h0M552.9 183.0h0M579.6 154.3h0M617.1 206.8h0M669.6 248.2h0M538.8 168.5h0M637.0 236.9h0M686.6 238.2h0M550.7 183.6h0M536.2 148.8h0M478.3 172.0h0M650.1 253.8h0M729.6 230.0h0M675.4 201.8h0M542.2 148.1h0M583.8 182.4h0M652.6 235.6h0M660.2 216.9h0M720.4 227.4h0M555.7 182.5h0M701.9 192.7h0M659.6 188.0h0M591.3 176.4h0M689.9 216.3h0M495.3 155.6h0M667.6 197.9h0" stroke="#f8e42a" stroke-width="5.22" stroke-linecap="square"/><path d="M522.2 98.6h0M605.5 111.2h0M584.8 131.2h0M637.2 153.5h0M590.9 137.1h0M553.1 125.8h0M561.6 87.4h0M579.8 89.6h0M590.3 115.1h0M597.2 101.7h0M567.9 134.6h0M516.1 98.0h0M635.1 98.9h0M613.6 95.3h0M575.9 125.1h0M546.2 125.2h0M616.7 109.2h0M586.8 87.5h0M619.3 108.1h0M526.6 94.5h0M583.5 115.2h0M499.4 84.8h0M658.4 148.1h0M545.4 108.4h0M638.2 130.9h0M544.7 100.8h0M530.2 112.5h0M611.5 124.5h0M639.6 89.8h0M615.8 121.6h0M526.8 97.3h0M515.4 112.1h0M533.3 100.5h0M537.8 95.3h0M525.2 110.3h0M637.6 119.8h0M613.2 280.6h0M613.6 95.9h0M576.3 90.3h0M569.1 80.2h0M509.5 262.6h0M617.9 93.3h0M545.2 85.6h0M575.2 108.5h0M567.8 87.0h0M620.5 106.5h0M559.1 130.1h0M588.8 114.5h0M500.7 96.4h0M585.3 114.7h0M595.0 95.4h0M543.6 84.8h0M564.3 111.8h0M568.3 78.2h0M614.1 121.7h0M529.1 98.2h0M543.7 89.9h0M536.6 99.2h0M627.8 132.6h0M587.0 90.1h0M595.4 115.8h0M550.1 276.9h0M596.6 84.1h0M556.2 119.6h0M536.2 114.3h0M621.0 94.6h0M641.7 134.2h0M625.8 98.6h0M546.2 82.4h0M656.9 149.8h0M511.9 115.2h0M619.8 98.3h0M690.0 166.5h0M586.2 130.3h0M537.2 216.2h0M632.0 121.6h0M593.8 277.6h0M679.3 155.7h0M635.3 93.0h0M597.7 85.7h0M584.6 121.9h0M525.7 114.6h0M485.6 238.4h0M553.1 129.2h0M625.8 249.2h0M597.0 278.9h0M614.7 137.2h0M570.9 89.1h0M604.5 106.8h0M509.1 252.1h0M572.2 107.3h0M517.3 104.2h0M556.3 112.8h0M527.0 111.2h0M617.4 145.1h0M574.2 122.1h0M590.5 114.9h0M534.1 97.1h0M531.0 90.3h0M501.2 99.4h0M579.7 95.8h0M663.3 151.5h0M524.4 106.0h0M556.9 267.4h0M540.2 99.9h0M644.3 113.9h0M618.8 124.1h0M662.5 139.1h0M630.1 124.5h0M643.1 125.8h0M533.9 128.4h0M633.6 108.7h0M603.4 94.1h0M537.9 102.2h0M559.3 84.8h0M567.9 80.9h0M645.5 119.3h0M624.3 126.0h0M634.8 125.0h0M629.7 140.6h0M565.5 105.3h0M561.4 128.9h0M552.3 98.2h0M559.6 252.1h0M586.6 275.7h0M599.0 127.2h0M600.8 91.1h0M556.9 115.8h0M567.5 95.0h0M637.3 131.7h0M676.4 249.3h0M632.5 154.9h0M581.5 136.9h0M540.7 122.0h0M585.8 95.6h0M533.8 92.7h0M534.0 91.9h0M585.0 139.9h0M623.1 118.7h0M647.7 164.7h0M642.8 149.2h0M643.7 121.0h0M622.4 138.7h0M637.9 123.4h0M636.1 103.0h0M558.7 137.2h0M583.9 92.8h0M508.0 100.2h0M645.7 137.5h0M555.5 72.4h0M506.3 97.9h0M598.2 102.4h0M599.4 122.0h0M561.2 83.5h0M622.9 113.6h0M582.7 156.0h0M627.2 119.7h0M611.7 118.7h0M591.0 85.2h0M589.0 116.1h0M530.5 73.9h0M634.3 130.1h0M543.1 85.2h0M579.7 119.6h0M576.9 119.4h0M569.1 89.8h0M551.1 103.6h0M542.7 107.8h0M528.3 100.4h0" stroke="#421058" stroke-width="6.00" stroke-linecap="round"/><path d="M598.1 90.9h0M556.0 116.8h0M506.3 99.0h0M627.1 121.9h0M572.8 131.4h0M547.5 111.5h0M556.9 119.2h0M630.7 118.6h0M570.4 123.4h0M529.6 104.7h0M528.8 89.9h0M472.9 235.3h0M578.4 131.2h0M605.1 113.9h0M536.7 87.6h0M556.0 96.7h0M580.8 121.7h0M604.7 110.7h0M644.5 235.1h0M612.5 124.1h0M530.7 89.8h0M610.0 138.5h0M558.2 134.2h0M586.2 104.1h0M475.7 220.0h0M639.3 118.8h0M641.2 122.8h0M562.7 96.7h0M589.4 136.2h0M642.2 140.8h0M555.4 100.0h0M545.5 82.4h0M541.7 84.2h0M529.5 102.7h0M633.3 101.1h0M608.7 108.7h0M560.5 111.8h0M551.7 105.0h0M515.6 109.3h0M627.3 123.6h0M622.9 291.3h0M636.9 98.1h0M705.4 173.8h0M538.5 128.5h0M547.6 119.7h0M569.3 122.2h0M549.2 126.1h0M579.7 105.0h0M563.7 111.5h0M588.3 109.4h0M549.8 98.1h0M613.0 109.1h0M589.1 96.6h0M536.0 102.1h0M632.6 104.4h0M621.8 141.6h0M632.5 125.5h0M618.2 121.4h0M544.4 81.3h0M611.5 280.3h0M663.9 150.7h0M605.9 138.1h0M613.4 130.6h0M595.9 110.9h0M598.1 122.9h0M537.0 118.6h0M613.7 121.2h0M565.3 106.9h0M552.3 105.8h0M674.0 179.5h0M534.2 89.8h0M617.4 124.9h0M616.2 116.1h0M504.8 141.3h0M527.9 166.3h0M535.7 99.3h0M539.2 116.1h0M600.0 133.7h0M578.7 85.4h0M664.0 158.9h0M698.5 171.1h0M530.3 103.7h0M524.7 210.0h0M584.8 100.0h0M585.3 129.0h0M556.3 85.0h0M604.0 117.9h0M549.9 118.8h0M506.0 100.4h0M569.6 140.8h0M618.2 144.5h0M633.4 106.7h0M526.0 93.7h0M637.3 112.6h0M571.7 143.3h0M526.5 124.9h0M542.0 109.8h0M540.2 98.5h0M553.5 114.4h0M511.8 90.3h0M653.2 175.6h0M527.1 207.3h0M600.5 277.6h0M562.3 127.5h0M575.7 135.8h0M606.0 109.0h0M599.4 124.7h0M587.6 142.9h0M561.9 275.5h0M581.0 121.6h0M557.6 108.3h0M564.7 124.0h0M638.7 138.7h0M603.6 284.4h0M553.3 110.1h0M520.8 111.4h0M641.7 109.8h0M643.2 118.8h0M543.9 107.3h0M549.6 76.3h0M632.4 126.5h0M611.3 130.3h0M635.1 138.1h0M577.5 97.4h0M565.7 97.9h0M661.9 145.9h0M589.9 116.6h0M574.6 136.7h0M483.3 139.8h0M605.3 139.9h0M652.8 150.4h0M571.4 95.5h0M599.8 125.3h0M648.9 114.2h0M584.5 97.0h0M564.7 272.7h0M637.1 108.6h0M526.0 266.6h0" stroke="#421058" stroke-width="5.22" stroke-linecap="square"/><path d="M568.3 258.6h0M516.2 243.2h0M623.1 280.2h0M493.8 221.9h0M549.4 271.8h0M535.4 240.5h0M627.4 150.6h0M540.7 227.0h0M490.9 108.8h0M619.8 274.5h0M562.3 251.8h0M554.4 247.1h0M663.1 164.2h0M574.9 245.6h0M577.8 257.5h0M616.6 280.1h0M547.4 247.2h0M576.9 83.9h0M711.4 167.3h0M558.2 242.1h0M562.9 272.4h0M696.4 161.6h0M569.9 136.0h0M507.5 231.5h0M523.5 161.6h0M576.0 262.9h0M463.6 226.2h0M554.8 232.0h0M518.6 239.9h0M480.4 224.7h0M646.3 153.8h0M598.8 273.7h0M560.6 229.1h0M632.3 269.7h0M578.2 250.8h0M537.6 221.3h0M509.3 214.9h0M553.9 242.6h0M567.5 138.8h0M479.1 209.9h0M604.3 145.3h0M484.0 224.5h0M561.5 257.0h0M477.1 216.0h0M511.5 239.5h0M514.6 231.9h0M545.0 227.7h0M606.7 259.5h0M688.8 166.9h0M479.3 221.9h0M591.8 281.1h0M611.0 275.0h0M556.7 265.9h0M482.3 221.2h0M515.4 225.0h0M521.2 223.8h0M526.8 237.9h0M512.6 232.5h0M580.7 88.2h0M587.8 258.4h0M572.3 249.1h0M661.1 166.6h0M570.1 269.1h0M519.7 234.2h0M525.2 262.5h0M576.0 264.1h0M572.4 248.3h0M494.0 228.5h0M570.1 265.9h0M560.9 256.7h0M548.4 271.8h0M561.4 255.7h0M544.5 79.8h0M564.6 265.0h0M525.5 247.5h0M531.5 224.5h0M500.3 242.8h0M590.2 259.5h0M503.6 115.1h0M498.7 233.4h0M487.6 226.2h0M570.9 253.4h0M550.9 240.6h0M580.8 263.8h0M550.7 240.6h0M602.7 287.8h0M454.4 213.9h0M499.0 231.0h0M584.7 142.8h0M606.1 279.5h0M519.4 241.6h0M518.5 229.4h0M527.5 244.6h0M553.5 230.9h0M579.9 271.9h0M521.4 248.6h0M525.2 243.5h0M549.9 250.3h0M536.2 88.6h0M524.4 253.7h0M575.8 246.8h0" stroke="#44448f" stroke-width="6.00" stroke-linecap="round"/><path d="M651.3 139.0h0M612.2 277.4h0M665.0 163.4h0M548.8 263.8h0M614.0 278.1h0M585.6 256.8h0M582.5 261.0h0M529.3 239.0h0M550.4 245.8h0M495.3 103.2h0M533.4 240.0h0M628.1 267.6h0M535.7 247.7h0M558.6 251.5h0M539.9 234.1h0M534.8 256.9h0M545.6 138.1h0M535.8 257.4h0M561.2 82.4h0M525.8 237.9h0M573.7 242.8h0M626.2 155.7h0M528.1 218.2h0M518.5 246.6h0M607.2 268.1h0M592.4 287.2h0M562.2 264.8h0M571.2 276.1h0M599.4 273.8h0M578.6 259.7h0M548.1 238.9h0M549.9 265.6h0M589.7 139.3h0M591.3 176.5h0M544.5 249.9h0M529.2 242.4h0M527.3 119.5h0M624.7 157.3h0M637.2 157.1h0M557.9 261.9h0M539.5 245.7h0M543.2 123.6h0M543.5 241.4h0M544.9 259.1h0M530.8 236.1h0M501.8 243.2h0M499.6 125.2h0M552.7 251.7h0M599.8 263.2h0M566.7 260.5h0M542.4 129.4h0M533.4 254.7h0M549.2 251.2h0M559.4 261.8h0M530.8 225.6h0M613.3 104.9h0M517.9 236.7h0M586.8 273.9h0M513.9 118.0h0M491.0 227.9h0M526.2 122.2h0M508.2 110.2h0M581.0 277.3h0M544.3 256.0h0M494.6 223.0h0M613.5 282.6h0M607.6 280.7h0M527.1 247.9h0M543.6 244.0h0M624.3 193.3h0M532.2 110.8h0M493.8 240.8h0M508.3 239.3h0M520.8 247.5h0M654.9 161.3h0M517.8 236.0h0M562.6 256.3h0M547.3 128.8h0M632.3 128.8h0M619.6 280.0h0M561.5 266.6h0M602.0 274.8h0M516.0 246.6h0M603.9 266.9h0M613.8 264.2h0M544.4 230.1h0M526.5 247.6h0M540.8 238.4h0M641.0 164.9h0M537.6 246.9h0M505.9 226.7h0M548.5 260.2h0M531.0 229.8h0M560.5 256.6h0M607.9 272.4h0M595.8 252.7h0" stroke="#44448f" stroke-width="5.22" stroke-linecap="square"/><path d="M499.1 123.0h0M616.1 249.2h0M583.5 237.4h0M540.5 131.4h0M533.6 229.9h0M694.7 177.9h0M492.1 217.8h0M577.8 249.4h0M557.1 143.5h0M621.7 274.5h0M577.5 151.5h0M503.3 200.0h0M650.4 267.1h0M540.5 217.1h0M500.7 119.6h0M571.5 217.8h0M535.4 134.9h0M609.0 224.9h0M595.7 170.1h0M636.1 259.6h0M613.4 202.2h0M606.1 235.7h0M581.1 235.5h0M587.6 233.7h0M561.2 227.9h0M461.6 212.3h0M521.5 167.9h0M612.1 152.4h0M643.9 161.5h0M597.6 209.8h0M667.2 171.7h0M614.4 253.8h0M507.1 205.2h0M543.2 220.0h0M612.3 157.5h0M514.1 209.4h0M505.1 197.8h0M480.2 218.9h0M563.7 223.9h0M604.8 152.9h0M563.9 217.2h0M532.0 128.1h0M573.6 230.8h0M605.0 155.1h0M510.0 202.5h0M636.9 258.1h0M516.1 209.1h0M572.6 232.2h0M553.2 230.9h0M579.4 242.7h0M664.2 206.6h0M596.8 256.6h0M601.0 257.5h0M507.9 126.7h0M506.5 110.0h0M494.9 206.4h0M569.3 219.2h0M532.3 230.3h0M517.1 203.5h0M537.6 128.6h0M651.5 270.3h0M628.2 261.0h0M570.0 213.0h0M615.2 153.2h0M544.7 226.7h0M568.0 221.7h0M528.6 134.8h0M636.2 258.7h0M477.6 202.1h0M510.6 118.8h0M474.2 202.3h0M578.3 171.3h0M625.5 273.3h0M599.6 234.0h0M578.2 242.2h0M511.3 202.9h0M569.7 195.3h0M506.0 203.5h0M648.5 162.1h0M605.1 244.7h0M586.4 202.3h0M704.8 244.9h0M676.1 176.0h0M542.3 209.6h0M655.1 236.1h0M563.1 144.8h0M478.4 128.0h0M596.2 211.0h0M561.2 141.0h0M561.0 217.4h0M642.4 278.2h0M616.7 269.9h0M542.5 207.6h0M608.9 238.5h0M579.3 235.9h0M588.5 227.5h0M483.7 114.9h0M688.9 168.9h0M526.3 206.4h0M572.7 245.1h0M520.4 227.5h0M612.5 172.8h0M536.1 216.3h0M640.0 269.9h0M565.4 228.8h0M543.3 230.2h0M551.2 215.1h0M522.0 130.1h0" stroke="#2b7a8e" stroke-width="6.00" stroke-linecap="round"/><path d="M511.6 121.6h0M644.5 169.4h0M587.0 240.4h0M557.7 217.8h0M694.3 194.0h0M543.8 221.3h0M551.4 227.1h0M519.2 203.5h0M607.4 206.3h0M612.8 167.2h0M578.6 227.6h0M586.7 253.4h0M598.1 149.1h0M609.3 247.1h0M582.8 233.4h0M599.8 232.8h0M536.4 212.1h0M564.4 225.8h0M595.5 231.0h0M609.8 257.2h0M617.9 258.3h0M512.2 213.5h0M518.7 203.9h0M520.2 214.7h0M506.5 115.1h0M562.1 213.7h0M629.7 161.4h0M490.1 209.4h0M628.8 261.6h0M555.6 233.2h0M491.4 118.3h0M536.3 220.1h0M537.1 228.0h0M615.4 151.1h0M512.5 206.3h0M647.3 165.6h0M601.9 237.8h0M513.7 207.9h0M507.2 198.0h0M561.1 226.0h0M583.6 242.9h0M490.0 206.0h0M678.0 172.6h0M537.5 222.3h0M545.3 207.9h0M512.6 128.6h0M537.5 216.9h0M531.8 179.2h0M620.8 155.2h0M622.0 154.0h0M606.3 155.5h0M608.0 248.9h0M638.2 273.1h0M556.8 189.3h0M672.8 201.0h0M543.3 215.9h0M581.9 230.5h0M575.2 235.3h0M578.2 148.7h0M623.5 251.5h0M533.4 207.5h0M611.6 159.5h0M489.4 213.8h0M676.8 173.0h0M665.8 241.9h0M540.7 207.7h0M598.0 146.2h0M549.2 215.1h0M524.9 204.9h0M642.2 242.3h0M600.2 205.0h0M619.9 247.2h0M621.0 273.5h0M500.5 115.4h0M627.9 276.3h0M621.5 255.3h0M495.6 215.8h0M562.3 215.7h0M582.1 192.9h0M482.8 113.7h0M594.1 151.2h0M570.7 230.6h0M611.2 248.9h0M548.6 232.6h0M639.0 266.5h0M653.1 166.0h0M532.4 208.7h0M576.9 235.8h0M671.3 164.3h0M521.7 212.4h0M611.0 227.1h0M616.3 156.8h0M660.0 170.7h0M592.1 255.7h0M623.0 260.0h0M650.8 273.4h0M672.2 153.4h0M657.2 159.4h0M567.1 230.1h0M477.9 212.8h0M641.9 265.3h0M545.6 211.7h0" stroke="#2b7a8e" stroke-width="5.22" stroke-linecap="square"/><path d="M499.3 132.6h0M483.9 165.9h0M544.5 198.6h0M529.2 189.5h0M505.5 191.0h0M476.2 127.0h0M615.2 227.3h0M532.2 196.8h0M503.5 177.8h0M578.6 216.1h0M635.5 245.4h0M682.6 197.5h0M502.9 192.2h0M605.0 233.6h0M661.7 227.6h0M606.2 230.8h0M615.8 200.1h0M573.4 147.8h0M584.7 214.8h0M534.2 197.8h0M677.9 234.8h0M538.6 136.0h0M693.4 265.7h0M596.5 181.8h0M515.2 133.5h0M577.5 145.4h0M545.4 194.8h0M630.1 207.9h0M496.4 131.1h0M534.4 137.4h0M634.5 256.9h0M503.3 136.9h0M612.7 155.7h0M603.6 251.2h0M496.7 141.4h0M505.2 193.2h0M577.9 226.2h0M541.6 148.1h0M516.5 138.7h0M502.4 127.1h0M725.7 240.9h0M529.6 198.6h0M612.9 238.9h0M680.1 182.0h0M640.9 177.6h0M572.3 208.2h0M520.9 135.6h0M502.0 128.0h0M630.2 250.6h0M535.5 133.6h0M537.1 135.3h0M500.7 207.0h0M522.4 196.9h0M590.3 222.7h0M624.9 245.9h0M547.5 154.3h0M737.1 221.4h0M566.6 162.3h0M517.4 134.4h0M707.9 185.1h0M540.0 134.5h0M499.1 133.3h0M609.1 239.1h0M536.7 195.9h0M483.9 190.2h0M521.8 191.5h0" stroke="#25a785" stroke-width="6.00" stroke-linecap="round"/><path d="M556.8 141.4h0M507.4 196.3h0M563.6 207.0h0M618.5 156.6h0M609.8 163.4h0M594.8 236.1h0M680.1 187.3h0M523.9 191.1h0M599.9 224.1h0M555.8 206.7h0M504.7 192.2h0M587.1 150.1h0M589.5 146.7h0M501.3 107.2h0M613.4 164.4h0M727.9 207.2h0M627.5 169.4h0M606.4 186.2h0M607.4 178.7h0M693.9 234.5h0M597.1 211.8h0M602.6 229.6h0M500.4 110.8h0M648.2 259.7h0M578.0 218.4h0M661.9 180.7h0M600.9 235.5h0M692.2 177.4h0M638.9 163.5h0M597.8 224.6h0M522.7 133.0h0M613.5 177.2h0M653.2 176.3h0M549.1 140.6h0M526.9 200.9h0M567.4 198.9h0M556.7 206.0h0M627.1 164.5h0M549.2 210.2h0M574.3 143.5h0M468.8 176.0h0M622.0 158.4h0M612.3 216.7h0M522.4 190.9h0M509.5 172.8h0M612.4 198.7h0M649.4 262.2h0M580.9 155.2h0M620.2 154.8h0M634.7 220.0h0M525.4 134.6h0M674.6 238.0h0M603.3 245.1h0M535.9 175.9h0M689.4 269.0h0M603.9 183.1h0M522.0 153.7h0M568.8 204.9h0M501.0 195.4h0M545.7 206.3h0M621.2 243.7h0" stroke="#25a785" stroke-width="5.22" stroke-linecap="square"/><path d="M575.7 149.2h0M501.4 161.9h0M646.9 249.0h0M665.0 193.1h0M499.7 147.4h0M676.0 241.1h0M488.3 141.6h0M522.8 215.9h0M506.9 138.8h0M555.2 183.0h0M574.7 213.8h0M620.0 228.7h0M688.2 269.0h0M633.8 176.9h0M500.3 138.3h0M626.0 176.5h0M522.6 190.8h0M647.9 248.0h0M505.7 144.6h0M564.4 196.0h0M559.3 140.2h0M592.2 215.2h0M721.8 194.4h0M643.7 193.9h0M556.8 197.7h0M655.2 179.2h0M593.4 145.6h0M559.3 203.3h0M639.5 243.0h0M516.3 140.3h0M574.4 208.2h0M696.6 186.6h0M588.1 218.2h0M524.0 185.0h0M514.5 141.3h0M555.5 146.9h0M676.4 180.5h0M580.5 166.2h0M636.0 229.9h0M584.6 167.8h0M534.3 178.3h0M684.7 195.8h0M569.7 214.8h0M503.9 178.3h0M654.7 212.9h0M538.8 175.7h0M619.9 231.8h0M532.4 183.5h0M568.7 211.4h0M603.9 225.8h0M534.7 182.6h0M603.0 225.5h0M511.8 162.0h0M526.8 147.4h0M660.3 180.5h0M692.5 197.9h0M592.9 199.0h0" stroke="#7dcd55" stroke-width="6.00" stroke-linecap="round"/><path d="M677.2 186.2h0M503.5 139.1h0M555.2 208.6h0M570.9 183.4h0M627.3 205.4h0M533.1 161.5h0M485.8 142.3h0M587.8 209.6h0M656.2 261.9h0M555.9 199.7h0M491.0 182.3h0M562.5 211.4h0M602.5 168.1h0M523.5 159.7h0M606.5 208.8h0M587.2 217.0h0M551.4 201.5h0M514.2 186.6h0M661.8 182.4h0M634.2 183.1h0M699.8 189.6h0M694.4 195.6h0M536.6 188.0h0M698.4 216.2h0M616.2 166.3h0M569.9 205.8h0M509.9 102.1h0M565.4 148.5h0M614.0 236.7h0M550.1 193.5h0M645.4 172.8h0M612.8 147.1h0M600.5 155.2h0M653.5 244.3h0M584.9 150.8h0M681.2 269.9h0M593.6 161.8h0M495.2 156.3h0M529.1 150.4h0M619.6 215.7h0M548.5 199.4h0M662.0 188.8h0M642.1 169.9h0M574.7 150.7h0M618.7 232.7h0" stroke="#7dcd55" stroke-width="5.22" stroke-linecap="square"/><path d="M568.6 188.4h0M688.9 205.4h0M610.7 201.7h0M569.3 154.9h0M632.4 193.8h0M691.4 231.8h0M670.3 228.8h0M572.2 170.0h0M706.0 234.4h0M607.0 202.6h0M583.5 166.1h0M560.5 198.5h0M522.4 166.4h0M689.2 231.6h0M596.8 193.3h0M602.5 206.9h0M540.6 191.3h0M565.5 189.0h0M712.3 224.0h0M593.4 164.7h0M628.4 178.0h0M550.2 175.5h0M596.8 168.4h0M558.7 200.6h0M499.8 174.8h0M618.6 207.8h0M651.7 228.6h0M651.1 194.1h0M617.3 173.7h0M685.4 227.9h0M600.9 266.2h0M552.4 200.4h0M568.2 169.6h0M519.8 156.5h0M555.8 154.3h0M534.9 187.5h0M676.6 185.5h0M625.4 219.1h0M618.2 191.7h0M622.6 224.0h0M659.9 225.4h0M596.2 206.1h0M620.6 222.4h0M697.0 187.6h0M662.3 233.6h0M606.6 216.5h0M522.0 172.0h0M619.4 203.1h0M670.7 240.9h0M650.5 247.2h0M643.6 207.1h0M624.5 192.7h0M493.5 170.6h0M658.4 245.5h0M514.1 183.5h0M516.8 168.4h0M553.7 180.1h0M545.5 193.7h0M511.4 167.1h0M555.4 152.2h0M671.9 224.6h0M643.4 179.5h0M534.2 147.6h0M662.9 218.7h0M547.6 161.7h0M569.0 198.9h0M592.1 177.4h0M674.8 201.0h0M497.6 139.5h0M675.6 228.8h0M718.6 235.8h0M575.7 161.6h0M624.5 220.1h0M648.2 190.3h0M726.2 195.4h0M649.9 229.8h0M584.4 175.8h0M493.4 160.8h0M624.2 185.1h0M559.3 166.8h0M674.5 257.8h0M631.9 207.6h0M661.8 218.5h0M521.8 174.1h0M590.6 194.1h0M682.2 199.1h0M686.6 256.6h0M549.7 185.9h0M605.4 192.5h0M609.6 177.7h0M654.8 196.1h0M662.2 201.8h0M638.4 224.2h0M682.7 205.0h0M642.4 218.8h0M698.4 248.5h0M636.4 201.7h0M582.8 196.7h0M567.0 156.5h0M563.5 155.8h0M636.2 189.6h0M563.1 171.5h0M627.2 188.7h0M572.8 186.2h0M526.2 148.2h0M590.8 238.7h0M612.2 222.8h0M649.7 231.6h0M570.3 157.1h0M595.8 187.8h0M525.0 187.6h0M601.8 212.2h0M710.9 203.6h0M620.1 222.7h0M518.9 174.5h0M516.4 144.6h0M690.6 236.6h0M599.0 215.9h0M553.1 189.4h0M561.7 160.6h0M552.6 157.8h0M553.7 150.6h0M727.5 239.2h0M600.3 178.9h0M577.7 178.5h0M535.8 180.6h0M634.5 222.3h0M629.8 209.2h0M535.1 157.2h0M520.8 168.4h0M687.4 233.5h0M538.7 166.7h0M549.7 167.4h0M606.0 184.6h0M550.6 163.4h0M631.0 218.7h0M502.1 148.6h0M577.5 205.3h0M507.2 151.7h0M656.6 198.1h0M564.2 167.1h0M688.3 238.1h0M623.8 209.8h0M618.8 212.2h0M649.2 198.7h0M512.7 179.9h0M624.9 185.5h0M664.3 196.8h0M580.5 152.6h0M641.9 211.7h0M626.1 182.4h0M677.7 215.1h0M567.6 180.6h0M594.0 188.5h0M580.3 196.2h0M516.9 164.8h0M566.4 178.7h0M616.3 186.3h0M590.6 189.3h0M508.9 147.0h0M502.9 172.0h0M640.7 182.2h0M713.3 186.5h0M502.5 167.7h0M509.9 164.3h0" stroke="#f8e42a" stroke-width="6.00" stroke-linecap="round"/><path d="M491.3 155.1h0M497.2 174.5h0M548.8 192.9h0M552.1 163.5h0M635.3 199.1h0M701.3 222.4h0M630.4 131.2h0M600.3 200.9h0M625.1 207.6h0M666.7 249.6h0M676.2 234.8h0M579.2 197.6h0M598.1 168.4h0M686.7 261.2h0M537.5 176.0h0M731.9 193.9h0M500.2 147.8h0M655.3 234.6h0M610.2 186.9h0M612.7 193.4h0M581.0 172.5h0M528.7 167.1h0M548.1 193.6h0M523.6 171.9h0M619.6 183.2h0M631.5 195.3h0M614.7 202.1h0M604.7 172.3h0M591.1 215.0h0M546.0 191.8h0M584.7 156.7h0M544.6 176.0h0M659.3 251.2h0M595.6 215.2h0M631.6 181.3h0M595.9 180.6h0M493.5 158.7h0M564.7 163.8h0M599.7 217.2h0M698.4 219.8h0M571.9 162.2h0M542.5 162.0h0M501.7 176.6h0M612.7 185.9h0M531.4 161.4h0M496.0 168.8h0M584.9 204.6h0M530.0 186.6h0M579.4 193.5h0M500.8 152.2h0M610.3 183.7h0M647.9 174.1h0M603.3 231.0h0M523.2 149.9h0M528.8 176.7h0M695.9 205.3h0M672.8 221.8h0M626.9 208.8h0M623.8 199.7h0M629.5 200.9h0M612.5 197.5h0M669.1 223.7h0M520.5 180.9h0M505.1 171.3h0M688.4 231.1h0M629.9 194.1h0M541.8 161.5h0M630.1 196.0h0M528.9 140.7h0M679.5 230.4h0M730.4 219.3h0M526.0 152.9h0M531.4 173.9h0M567.2 173.1h0M566.8 171.5h0M544.0 157.0h0M642.6 189.2h0M627.1 174.3h0M620.5 219.8h0M649.0 192.0h0M622.4 206.7h0M524.0 170.2h0M637.1 189.8h0M607.5 198.1h0M526.6 172.7h0M691.4 232.8h0M563.7 201.9h0M715.4 219.1h0M609.4 209.4h0M722.8 213.5h0M618.8 204.3h0M634.3 244.2h0M669.4 191.2h0M605.0 208.3h0M543.0 177.0h0M493.7 143.2h0M634.6 221.3h0M692.7 202.5h0M642.8 203.1h0M613.0 185.8h0M519.0 241.2h0M729.0 231.8h0M700.8 195.9h0M671.4 209.5h0M633.0 211.6h0M520.9 169.5h0M665.5 209.0h0M554.6 151.3h0M506.5 179.4h0M523.7 183.8h0M580.4 166.0h0M637.3 204.8h0M581.4 171.1h0M494.9 164.9h0M614.3 200.2h0M612.7 168.8h0M556.8 150.5h0M582.9 192.2h0M597.7 170.2h0M555.0 173.7h0M603.1 188.6h0M612.6 219.4h0M548.9 165.6h0M724.8 210.8h0M562.0 179.7h0M604.5 222.3h0M624.6 211.1h0M591.0 156.8h0M686.1 198.6h0M663.0 216.6h0M565.3 154.3h0M578.9 163.5h0M639.4 208.2h0M618.0 203.8h0M618.7 223.4h0M511.6 147.4h0M641.2 219.1h0M665.7 241.6h0M506.3 139.6h0M626.6 229.3h0M556.0 149.8h0M704.2 252.8h0M596.9 163.5h0M549.4 195.8h0M539.8 179.0h0M531.8 179.4h0M651.0 210.1h0M601.9 183.9h0M530.2 172.0h0M578.6 176.8h0M539.8 188.2h0M627.7 180.9h0M615.8 189.5h0M539.6 160.7h0M656.8 230.2h0M647.1 198.9h0M562.7 164.7h0M577.9 158.7h0M597.6 179.7h0M618.9 201.9h0M702.1 246.9h0M674.4 188.8h0M580.4 157.8h0M549.7 168.0h0M728.1 230.9h0M582.7 172.5h0M606.4 203.4h0" stroke="#f8e42a" stroke-width="5.22" stroke-linecap="square"/><path d="M597.6 87.8h0M524.4 85.8h0M593.7 284.5h0M595.6 136.7h0M567.5 131.6h0M575.1 116.8h0M539.3 85.6h0M559.1 98.9h0M553.7 128.9h0M581.5 82.8h0M618.6 117.0h0M559.0 88.1h0M559.9 81.9h0M596.2 223.5h0M622.7 140.7h0M651.3 149.9h0M638.0 133.2h0M625.7 102.3h0M618.2 100.6h0M625.5 128.0h0M604.0 133.3h0M621.6 120.1h0M553.4 107.6h0M519.6 140.5h0M598.6 131.9h0M602.4 124.0h0M610.6 123.5h0M574.8 122.0h0M616.3 131.5h0M516.6 94.4h0M595.0 143.7h0M546.7 105.9h0M653.5 132.7h0M570.7 87.8h0M625.0 120.9h0M626.4 115.8h0M599.7 108.0h0M583.5 110.7h0M568.8 123.4h0M586.4 137.1h0M604.5 86.5h0M532.6 96.0h0M618.2 120.5h0M608.6 130.2h0M660.4 144.2h0M603.1 101.1h0M584.7 98.2h0M579.9 86.7h0M630.5 98.5h0M481.3 213.9h0M483.8 231.5h0M630.7 107.8h0M571.0 114.4h0M678.1 155.0h0M647.0 146.3h0M556.9 113.5h0M540.2 119.2h0M628.7 119.3h0M567.5 106.5h0M566.8 115.2h0M545.8 82.2h0M538.0 101.6h0M560.0 112.8h0M511.0 106.4h0M538.6 116.0h0M547.5 267.1h0M549.0 127.0h0M627.1 106.9h0M531.3 89.3h0M623.2 132.2h0M596.4 102.1h0M602.0 106.0h0M554.0 110.1h0M622.6 276.7h0M608.4 215.2h0M685.7 170.3h0M635.2 141.0h0M647.8 131.1h0M568.8 114.6h0M565.1 111.9h0M612.4 119.2h0M558.9 85.0h0M634.3 129.5h0M573.2 124.3h0M613.9 127.5h0M571.9 127.5h0M656.0 154.0h0M537.8 95.1h0M517.7 90.0h0M654.8 159.1h0M581.4 109.5h0M575.8 153.6h0M707.5 172.8h0M527.9 119.0h0M571.9 84.1h0M617.5 134.2h0M506.5 258.4h0M552.9 122.5h0M614.0 120.6h0M609.3 165.4h0M651.9 118.2h0M623.1 110.5h0M597.9 90.6h0M547.1 121.6h0M630.5 129.8h0M562.8 87.3h0M585.2 109.3h0M536.4 78.7h0M543.9 88.6h0M551.8 102.1h0M559.0 93.5h0M526.4 97.5h0M565.0 82.8h0M567.8 98.0h0M646.9 154.9h0M604.1 121.8h0M622.2 113.1h0M476.1 204.9h0M628.2 277.9h0M513.2 101.2h0M661.3 154.5h0M603.2 122.5h0M551.8 126.6h0M658.4 139.9h0M624.8 128.9h0M626.1 160.6h0M612.1 136.6h0M603.8 136.4h0M651.8 133.1h0M518.0 153.6h0M626.2 94.1h0M574.6 274.4h0M632.2 109.1h0M645.4 131.1h0M566.5 98.2h0M590.5 113.1h0M525.7 147.5h0M620.2 114.1h0M536.8 93.5h0M563.3 118.3h0M620.2 115.1h0M614.8 97.9h0M570.5 98.8h0M556.7 88.7h0M485.1 218.6h0M635.0 95.8h0M579.5 115.9h0M551.2 101.6h0M534.9 109.1h0M545.1 122.8h0M531.1 105.4h0M556.2 112.6h0M633.1 107.7h0M554.2 122.7h0M607.9 108.9h0M511.0 79.8h0M587.8 275.4h0M528.4 104.9h0M628.5 104.0h0M578.3 272.4h0M574.8 103.6h0M560.4 130.2h0M590.4 86.0h0M592.6 279.0h0M587.1 105.7h0M566.3 139.0h0M599.8 101.6h0M566.7 119.7h0M641.7 125.8h0M593.3 127.9h0M503.5 94.1h0M505.8 232.7h0M545.3 263.7h0M629.0 274.0h0M526.0 163.0h0M527.7 89.3h0M518.6 110.5h0M576.5 118.9h0" stroke="#421058" stroke-width="6.00" stroke-linecap="round"/><path d="M552.1 88.1h0M557.0 100.3h0M665.0 184.6h0M569.5 96.4h0M584.8 117.7h0M616.3 88.8h0M632.5 134.4h0M564.3 111.7h0M613.3 102.5h0M552.1 120.1h0M574.7 273.3h0M605.8 113.4h0M498.8 241.2h0M606.1 85.0h0M564.9 121.2h0M565.5 144.8h0M633.0 130.3h0M584.9 92.4h0M616.5 95.3h0M620.5 98.0h0M545.7 124.8h0M603.5 91.0h0M592.5 126.4h0M639.6 126.2h0M493.9 104.9h0M526.5 117.0h0M585.2 122.2h0M586.8 87.2h0M616.7 140.4h0M616.9 92.2h0M482.7 230.2h0M541.6 112.6h0M610.2 127.8h0M718.5 179.1h0M624.1 95.4h0M512.3 154.3h0M591.8 129.9h0M571.4 81.4h0M544.4 82.4h0M619.4 120.6h0M656.7 134.6h0M607.9 130.5h0M582.9 120.9h0M565.8 268.9h0M602.2 196.5h0M549.2 94.3h0M553.8 81.9h0M583.2 249.4h0M629.5 142.0h0M582.6 128.1h0M629.2 124.9h0M640.5 150.9h0M520.5 101.9h0M653.3 134.4h0M513.7 168.4h0M515.6 109.1h0M574.6 116.2h0M520.9 87.6h0M527.5 109.3h0M648.2 136.4h0M503.8 121.5h0M603.4 112.5h0M572.5 270.4h0M541.7 121.0h0M504.2 221.9h0M652.4 128.1h0M570.6 126.1h0M606.8 116.4h0M631.9 101.0h0M668.1 159.3h0M528.2 110.4h0M554.2 110.4h0M568.7 86.9h0M651.5 150.2h0M545.4 92.4h0M490.8 243.6h0M546.2 266.5h0M584.2 288.4h0M528.2 100.7h0M570.8 122.4h0M577.5 121.8h0M552.7 95.9h0M641.0 125.2h0M576.8 118.2h0M655.8 144.0h0M481.3 131.0h0M598.0 87.1h0M554.2 123.9h0M505.8 83.4h0M525.2 99.4h0M565.9 123.1h0M506.3 96.8h0M648.0 135.5h0M602.0 135.9h0M582.0 100.8h0M570.9 100.1h0M580.1 93.8h0M500.3 218.2h0M533.3 103.4h0M590.6 116.5h0M596.7 125.5h0M574.0 110.4h0M655.8 147.0h0M557.5 121.5h0M620.9 119.4h0M560.3 93.0h0M521.0 98.8h0M517.4 110.9h0M584.1 125.4h0M618.9 136.9h0M642.1 107.4h0M612.6 138.7h0M606.9 136.2h0M596.0 113.2h0M538.2 99.2h0M608.4 125.6h0M518.0 106.0h0M563.5 80.4h0M643.1 136.9h0M522.1 119.3h0M509.1 93.1h0M516.4 132.2h0M493.6 249.7h0M546.1 84.6h0M619.6 89.1h0M579.7 127.8h0M553.8 116.1h0M518.9 91.4h0M616.5 129.4h0M609.6 89.4h0M526.5 255.8h0M602.0 116.2h0M609.3 94.3h0M580.7 137.3h0M628.9 145.5h0M548.6 267.3h0M578.9 285.2h0M656.9 193.5h0M574.2 95.3h0M653.2 115.2h0M561.9 132.0h0M530.2 119.3h0M587.6 122.8h0M552.0 111.4h0M660.6 142.2h0M524.9 93.5h0M548.9 105.3h0M646.3 104.0h0M589.8 120.5h0M628.8 103.8h0M584.2 119.4h0M535.2 115.6h0M538.0 94.0h0M478.1 227.5h0M602.7 91.5h0M564.7 89.9h0M533.5 107.0h0M628.6 128.0h0M645.2 119.9h0M636.1 110.0h0M559.7 84.1h0M648.8 119.1h0M629.6 144.7h0M587.7 88.7h0M597.2 94.4h0M635.1 144.5h0" stroke="#421058" stroke-width="5.22" stroke-linecap="square"/><path d="M514.1 122.9h0M561.4 257.7h0M598.0 276.3h0M513.4 232.2h0M554.4 257.8h0M630.2 270.4h0M456.4 215.4h0M523.2 265.7h0M645.9 163.0h0M557.0 264.2h0M492.3 230.0h0M657.8 157.2h0M549.0 248.0h0M528.9 221.4h0M487.9 230.8h0M571.9 275.6h0M695.9 172.7h0M615.5 263.8h0M487.8 233.9h0M663.8 166.4h0M616.4 142.4h0M505.8 237.2h0M670.0 162.0h0M517.0 240.8h0M607.2 144.2h0M509.8 215.6h0M597.9 280.1h0M522.9 248.1h0M489.3 108.8h0M508.3 117.9h0M504.1 212.0h0M558.8 133.4h0M508.6 230.7h0M512.2 253.1h0M589.9 270.6h0M543.5 224.8h0M539.6 257.4h0M526.6 133.4h0M625.9 283.8h0M505.2 214.8h0M513.0 153.4h0M514.3 232.7h0M582.2 263.7h0M496.1 221.5h0M514.3 230.1h0M588.6 261.3h0M525.8 250.7h0M602.3 263.5h0M571.5 241.9h0M522.2 236.4h0M528.7 243.2h0M575.3 250.6h0M544.8 258.4h0M554.3 247.7h0M515.4 251.2h0M595.1 252.4h0M468.0 217.6h0M461.0 219.9h0M532.8 243.2h0M523.9 226.4h0M556.2 277.3h0M495.8 157.3h0M530.9 251.0h0M521.8 239.4h0M536.5 248.5h0M511.5 215.4h0M524.8 229.3h0M471.9 235.5h0M553.2 84.3h0M539.3 240.7h0M524.5 248.5h0M569.5 132.1h0M557.4 255.8h0M545.6 224.9h0M505.4 238.4h0M500.6 103.2h0M475.9 216.0h0M563.7 254.0h0M505.8 112.7h0M544.5 235.3h0M576.5 270.5h0M525.2 255.1h0M575.5 140.7h0M539.2 255.1h0M588.0 282.2h0M614.2 282.9h0M572.0 137.4h0M482.5 213.9h0M563.6 266.4h0M624.2 268.9h0M589.0 267.6h0M577.4 140.8h0M513.3 241.9h0M532.3 229.7h0M597.2 93.3h0M679.1 160.3h0M488.8 227.6h0M534.8 239.6h0M579.7 250.3h0M543.0 225.2h0M527.2 120.9h0M670.6 157.1h0M528.9 261.9h0M508.7 220.2h0M581.5 266.0h0M553.9 263.6h0M526.7 219.0h0M469.0 205.6h0M487.4 229.1h0M698.2 173.8h0M506.6 223.7h0M554.5 136.1h0M568.9 254.4h0M598.2 279.8h0M597.1 260.2h0" stroke="#44448f" stroke-width="6.00" stroke-linecap="round"/><path d="M545.1 241.3h0M583.5 269.2h0M667.6 148.6h0M509.9 228.9h0M583.8 142.1h0M513.0 245.0h0M694.4 175.3h0M659.5 151.7h0M512.9 117.3h0M582.0 135.7h0M614.2 274.3h0M584.0 275.4h0M551.2 261.1h0M667.0 160.9h0M521.1 234.9h0M555.1 234.8h0M608.0 252.3h0M541.4 227.1h0M563.4 248.7h0M605.5 285.6h0M507.5 110.1h0M549.4 268.1h0M545.4 242.5h0M534.3 121.0h0M646.5 280.0h0M477.5 234.6h0M611.3 272.6h0M638.4 237.0h0M457.5 219.3h0M513.6 246.3h0M555.3 246.1h0M499.9 105.5h0M545.7 255.6h0M553.8 254.2h0M542.7 242.7h0M635.3 185.9h0M578.4 278.9h0M573.6 267.7h0M558.3 254.5h0M581.6 270.0h0M513.2 227.8h0M678.4 168.3h0M536.9 245.3h0M479.9 215.6h0M576.6 134.8h0M610.6 268.7h0M567.1 247.5h0M542.2 231.8h0M637.4 153.2h0M567.1 252.0h0M554.6 238.6h0M507.6 112.5h0M537.3 240.6h0M511.6 222.8h0M484.5 218.4h0M566.5 135.7h0M633.2 276.0h0M578.6 237.8h0M532.9 242.6h0M462.3 225.7h0M547.9 245.6h0M655.0 148.8h0M572.0 237.8h0M568.2 279.1h0M549.7 242.5h0M536.7 256.4h0M531.3 223.5h0M498.0 95.8h0M614.0 269.0h0M500.8 221.2h0M608.4 275.6h0M631.7 152.9h0M493.4 217.6h0M580.3 140.1h0M598.8 273.4h0M533.4 249.9h0M544.2 247.0h0M531.6 254.4h0M554.0 258.2h0M527.6 120.9h0M545.9 252.4h0" stroke="#44448f" stroke-width="5.22" stroke-linecap="square"/><path d="M634.1 254.5h0M587.8 150.3h0M617.9 224.6h0M505.3 211.2h0M595.2 237.6h0M555.6 227.4h0M614.6 262.5h0M634.2 270.6h0M635.7 263.0h0M635.8 268.2h0M532.4 206.7h0M607.5 144.9h0M585.6 235.2h0M572.3 235.4h0M571.2 237.6h0M553.2 222.5h0M569.9 133.4h0M533.2 223.6h0M516.9 221.3h0M508.6 120.7h0M531.9 228.5h0M529.3 211.6h0M588.1 242.3h0M583.1 251.2h0M584.8 231.8h0M643.7 264.4h0M619.9 151.3h0M611.9 254.4h0M645.1 268.9h0M652.1 222.3h0M521.4 181.8h0M638.3 162.8h0M515.2 212.4h0M635.6 198.8h0M599.6 150.7h0M550.4 213.0h0M614.8 244.1h0M528.2 256.1h0M530.6 208.3h0M615.2 258.5h0M491.0 215.7h0M509.7 125.7h0M497.3 116.0h0M534.4 222.8h0M590.9 152.1h0M628.2 156.1h0M471.2 197.1h0M551.3 217.4h0M496.0 113.4h0M518.0 203.2h0M503.8 110.4h0M651.7 164.0h0M616.2 262.8h0M510.8 196.7h0M690.6 179.0h0M499.3 118.2h0M579.7 146.9h0M572.7 229.6h0M660.5 164.4h0M625.4 258.2h0M624.9 158.0h0M588.0 230.9h0M656.0 138.9h0M538.7 210.0h0M559.2 239.7h0M573.6 226.4h0M531.2 223.2h0M634.8 163.6h0M651.0 166.7h0M625.8 157.1h0M542.0 208.3h0M617.4 270.6h0M510.3 125.5h0M626.7 261.1h0M538.1 233.9h0M721.0 180.1h0M565.4 142.7h0M706.2 187.7h0M570.1 239.4h0M501.5 205.0h0M491.3 123.0h0M502.4 204.3h0M621.5 153.7h0M490.4 204.4h0M529.4 212.5h0M595.1 248.6h0M478.5 192.6h0M568.0 226.1h0M524.0 205.2h0M636.6 168.4h0M593.2 230.7h0M524.6 213.9h0M573.0 246.0h0M515.8 216.9h0M508.0 227.0h0M499.5 124.2h0M614.3 245.5h0M483.9 115.1h0M638.8 163.4h0M617.1 254.6h0M526.8 204.6h0M533.1 204.1h0M633.2 177.8h0M561.0 221.5h0" stroke="#2b7a8e" stroke-width="6.00" stroke-linecap="round"/><path d="M521.1 128.8h0M611.5 253.0h0M599.2 248.9h0M656.3 268.3h0M580.6 144.5h0M494.5 125.0h0M526.7 225.7h0M566.6 144.6h0M667.8 253.2h0M663.7 170.3h0M505.3 195.5h0M665.9 268.8h0M615.0 259.4h0M668.1 157.7h0M600.6 247.5h0M582.0 145.7h0M683.2 230.1h0M681.7 176.2h0M515.4 217.3h0M646.9 271.1h0M561.0 139.3h0M488.5 215.3h0M621.9 267.4h0M621.4 263.2h0M506.8 207.0h0M602.2 250.8h0M536.6 226.0h0M535.9 219.0h0M619.8 246.2h0M541.9 217.5h0M531.5 215.8h0M598.4 141.9h0M493.1 192.9h0M503.0 156.6h0M600.7 246.1h0M621.8 274.2h0M511.0 199.5h0M510.1 203.5h0M617.7 252.0h0M560.1 216.2h0M613.8 150.9h0M649.6 266.9h0M529.4 133.2h0M615.2 154.2h0M617.4 150.3h0M625.0 258.4h0M527.8 200.9h0M670.7 166.5h0M628.7 164.2h0M534.6 210.1h0M498.3 117.5h0M628.1 248.4h0M573.1 230.3h0M542.0 221.2h0M595.2 262.4h0M554.4 252.3h0M618.1 152.1h0M617.0 153.4h0M614.4 258.7h0M612.4 148.6h0M577.1 244.1h0M496.7 121.3h0M639.8 265.1h0M579.2 256.0h0M544.6 228.5h0M606.0 196.5h0M503.8 219.4h0M632.7 163.7h0M614.9 161.7h0M606.4 238.9h0M530.3 207.7h0M609.1 242.2h0M683.4 168.7h0M539.2 232.9h0M609.8 243.6h0M570.1 144.3h0M520.4 200.9h0M663.5 173.7h0M682.2 214.6h0M571.0 144.0h0M566.2 215.3h0M600.7 250.4h0M564.4 139.9h0M525.2 131.1h0M494.0 119.0h0M594.9 149.3h0M576.2 235.5h0M513.0 130.4h0M592.7 247.6h0M631.6 160.8h0M536.8 134.4h0M622.3 165.8h0M516.6 184.7h0M620.4 251.2h0M614.5 249.8h0M580.3 229.3h0M655.9 265.8h0M599.7 244.0h0M509.8 199.6h0M602.5 213.1h0M603.4 193.3h0M544.5 135.6h0M510.4 203.7h0M685.1 254.8h0M626.9 157.0h0M556.7 238.8h0M542.8 207.5h0M530.5 212.6h0M517.5 203.7h0M550.2 127.1h0M604.6 242.6h0M540.8 229.1h0" stroke="#2b7a8e" stroke-width="5.22" stroke-linecap="square"/><path d="M520.6 198.3h0M573.4 211.8h0M539.6 199.0h0M606.4 218.1h0M586.5 228.9h0M649.8 260.4h0M608.0 238.6h0M602.5 238.2h0M519.2 187.4h0M602.1 156.2h0M510.6 137.0h0M552.8 141.4h0M529.8 146.6h0M625.4 207.0h0M569.2 142.1h0M609.3 158.6h0M657.5 176.3h0M560.9 209.2h0M588.6 214.2h0M685.2 183.4h0M560.8 140.4h0M599.2 159.7h0M661.7 175.9h0M632.9 220.8h0M572.0 221.4h0M625.9 246.2h0M492.0 189.0h0M490.8 183.5h0M574.7 215.8h0M549.7 202.8h0M606.5 226.1h0M536.3 206.4h0M564.9 146.6h0M494.4 100.3h0M571.3 219.5h0M581.9 166.3h0M696.2 181.1h0M606.7 228.9h0M572.4 209.1h0M584.4 197.5h0M685.7 243.0h0M628.8 239.9h0M598.3 160.2h0M533.2 134.7h0M575.8 217.5h0M504.2 121.7h0M513.7 134.5h0M619.9 232.1h0M595.5 227.9h0M515.0 203.7h0M685.4 255.6h0M633.7 165.4h0M515.4 200.6h0M526.1 201.9h0M471.8 134.4h0M510.1 128.1h0M495.5 148.7h0M657.7 261.3h0M633.9 246.3h0M559.1 149.4h0M645.9 244.1h0M598.5 197.6h0M584.7 154.9h0M541.8 206.3h0M527.4 138.2h0M491.9 194.7h0M556.8 141.2h0M578.7 228.9h0M500.2 154.8h0M484.3 135.0h0M584.9 220.7h0M575.9 172.1h0M551.7 140.2h0" stroke="#25a785" stroke-width="6.00" stroke-linecap="round"/><path d="M606.1 162.6h0M658.5 264.6h0M508.0 193.8h0M612.2 243.8h0M514.6 187.0h0M600.2 241.4h0M580.5 147.5h0M594.5 230.6h0M503.2 132.0h0M486.0 189.9h0M519.2 198.3h0M583.5 217.2h0M644.1 177.2h0M640.5 184.3h0M626.3 233.0h0M603.7 154.3h0M626.7 160.6h0M505.4 192.4h0M594.1 213.0h0M559.9 153.3h0M563.4 207.7h0M529.6 248.1h0M558.2 147.8h0M576.8 222.3h0M598.8 175.0h0M675.1 200.0h0M509.9 127.9h0M605.4 191.7h0M575.4 170.7h0M570.9 210.4h0M560.7 191.7h0M552.1 143.1h0M525.6 151.6h0M577.5 219.1h0M614.9 242.3h0M639.6 243.9h0M575.1 212.8h0M596.2 227.4h0M714.8 207.6h0M517.8 186.1h0M644.5 169.7h0M616.9 158.0h0M720.5 242.9h0M639.4 166.6h0M603.1 232.0h0M486.2 133.8h0M526.0 138.6h0M647.1 253.6h0M534.7 195.6h0M731.2 219.5h0M493.6 142.8h0M530.0 189.7h0M644.7 214.9h0M562.5 214.9h0M521.1 134.3h0M714.4 243.9h0M547.1 212.5h0M596.1 221.8h0M494.6 128.1h0M507.7 137.9h0M546.6 168.5h0M665.5 174.5h0M608.5 229.8h0M605.9 151.9h0M553.0 206.9h0M635.3 240.6h0M648.9 266.6h0" stroke="#25a785" stroke-width="5.22" stroke-linecap="square"/><path d="M605.6 156.3h0M591.0 218.7h0M504.7 172.8h0M597.1 200.5h0M567.9 172.5h0M511.8 191.5h0M548.1 156.6h0M601.6 152.2h0M628.6 207.8h0M700.3 196.1h0M550.2 200.5h0M678.8 179.5h0M684.5 256.2h0M592.8 203.6h0M550.9 145.4h0M641.5 194.6h0M709.0 244.0h0M666.2 251.6h0M573.2 187.3h0M625.5 168.0h0M593.6 164.7h0M688.8 208.3h0M551.1 145.4h0M683.5 201.2h0M567.3 210.4h0M484.7 179.3h0M517.2 185.9h0M619.9 290.5h0M711.1 259.7h0M582.9 168.6h0M705.4 216.4h0M595.5 180.4h0M676.9 262.2h0M658.5 251.7h0M494.7 182.0h0M624.5 238.8h0M567.4 214.9h0M644.4 238.7h0M507.5 142.2h0M603.8 177.8h0M542.6 197.0h0M581.2 193.6h0M497.5 184.6h0M615.5 197.5h0M592.9 166.0h0M625.1 186.5h0M586.0 155.5h0M632.8 230.6h0M710.2 213.4h0M658.7 232.8h0M612.1 169.2h0M526.7 190.9h0M494.9 151.8h0M502.0 187.4h0M585.1 160.9h0M483.9 162.1h0" stroke="#7dcd55" stroke-width="6.00" stroke-linecap="round"/><path d="M580.3 190.6h0M645.7 171.6h0M619.5 211.1h0M506.0 142.8h0M620.3 155.6h0M558.1 168.6h0M651.6 231.5h0M618.0 210.1h0M631.7 239.2h0M522.1 146.1h0M537.2 249.1h0M505.2 139.6h0M620.6 227.3h0M571.4 175.9h0M703.7 264.2h0M529.6 136.6h0M507.4 158.9h0M483.0 142.1h0M589.4 216.6h0M607.9 226.0h0M605.4 184.4h0M504.9 161.0h0M609.9 230.1h0M527.6 129.4h0M554.4 165.3h0M686.7 185.0h0M574.9 277.9h0M730.6 212.6h0M572.8 207.9h0M666.4 259.7h0M617.8 184.1h0M540.3 144.7h0M596.9 180.9h0M504.2 181.9h0M644.0 267.5h0M557.5 206.3h0M626.7 178.6h0M552.1 181.0h0M497.9 142.9h0M538.1 147.7h0M620.8 239.3h0M566.6 148.7h0M537.3 141.1h0M573.0 190.8h0" stroke="#7dcd55" stroke-width="5.22" stroke-linecap="square"/><path d="M568.2 201.5h0M699.5 234.4h0M565.6 171.2h0M583.9 198.3h0M721.5 208.0h0M605.8 213.4h0M595.5 209.6h0M552.8 170.0h0M677.8 193.8h0M714.8 222.2h0M643.6 215.2h0M695.0 220.4h0M580.9 166.8h0M614.9 171.4h0M504.7 155.2h0M536.7 164.7h0M651.2 229.5h0M582.6 208.5h0M551.7 153.0h0M644.0 238.8h0M505.0 164.5h0M536.0 148.3h0M580.8 200.1h0M729.0 232.1h0M505.6 178.6h0M660.2 204.8h0M473.5 163.5h0M576.6 194.0h0M622.0 223.3h0M696.4 197.7h0M650.8 201.6h0M576.9 204.0h0M611.8 223.4h0M593.4 197.7h0M680.9 200.8h0M603.4 183.7h0M586.8 189.5h0M698.5 243.7h0M538.3 165.9h0M641.6 225.7h0M516.4 142.7h0M631.2 197.0h0M610.3 185.3h0M686.9 214.4h0M568.7 180.7h0M521.0 161.1h0M731.9 232.0h0M582.0 197.1h0M511.1 169.8h0M689.5 191.0h0M684.7 198.4h0M537.7 146.0h0M574.2 181.3h0M712.5 212.6h0M547.0 153.4h0M527.9 147.9h0M682.2 188.9h0M559.6 196.5h0M588.9 186.8h0M547.9 172.3h0M637.8 206.8h0M648.7 223.6h0M589.4 168.9h0M601.7 194.5h0M614.1 176.0h0M658.9 255.2h0M652.0 210.2h0M684.6 217.1h0M638.4 190.6h0M606.1 199.6h0M633.8 224.1h0M590.3 199.1h0M664.1 194.6h0M516.8 149.4h0M554.1 165.1h0M579.4 162.1h0M656.6 244.5h0M639.9 197.9h0M517.9 172.2h0M547.5 164.6h0M583.7 203.7h0M577.0 207.5h0M613.1 201.4h0M682.8 192.3h0M690.3 231.8h0M639.4 192.9h0M614.6 170.4h0M624.5 209.8h0M488.1 146.1h0M491.0 150.2h0M523.3 180.3h0M672.1 227.0h0M528.1 167.0h0M673.6 254.2h0M553.1 189.5h0M514.8 174.1h0M698.4 239.8h0M505.3 152.1h0M629.0 185.0h0M499.2 180.0h0M693.1 254.4h0M563.0 171.4h0M611.9 224.9h0M641.2 226.1h0M558.8 187.1h0M640.3 229.3h0M647.7 203.1h0M675.0 195.3h0M667.5 233.8h0M496.7 181.3h0M655.5 246.4h0M521.0 167.9h0M533.4 174.8h0M601.5 200.1h0M560.2 162.9h0M582.1 183.2h0M655.9 213.4h0M538.6 153.2h0M558.2 165.5h0M516.5 161.5h0M509.7 189.2h0M648.4 223.3h0M580.6 196.3h0M589.0 191.5h0M509.0 176.1h0M560.0 149.2h0M558.8 179.6h0M595.9 216.2h0M500.9 172.3h0M574.4 203.0h0M563.6 190.4h0M590.3 160.2h0M560.2 187.6h0M724.5 243.0h0M648.3 216.0h0M736.0 232.4h0M651.5 226.7h0M580.9 187.4h0M582.2 195.5h0M581.2 206.3h0M546.2 199.0h0M545.9 162.8h0M644.8 199.9h0M595.8 201.4h0M549.9 167.4h0M501.4 242.1h0M617.2 170.3h0M707.6 230.0h0M706.1 223.1h0M652.0 200.0h0M500.0 177.3h0M609.7 225.7h0M617.2 199.8h0M483.8 166.8h0M631.3 240.0h0M595.3 195.7h0" stroke="#f8e42a" stroke-width="6.00" stroke-linecap="round"/><path d="M595.5 182.6h0M532.3 154.9h0M513.8 155.8h0M606.7 171.3h0M508.5 156.8h0M553.6 176.1h0M637.7 220.0h0M546.2 145.5h0M560.7 168.6h0M685.1 226.7h0M698.8 228.2h0M627.5 232.6h0M562.7 172.9h0M609.0 206.5h0M512.0 174.3h0M611.9 222.0h0M600.8 153.9h0M597.2 208.9h0M511.3 140.1h0M501.8 168.8h0M715.4 195.3h0M576.7 186.4h0M658.8 198.3h0M686.3 246.2h0M696.2 234.6h0M550.9 187.6h0M653.5 186.6h0M660.3 206.7h0M644.3 212.6h0M685.2 230.1h0M578.3 210.6h0M578.4 178.8h0M598.8 167.2h0M487.5 165.2h0M705.8 222.5h0M553.7 158.7h0M607.2 208.7h0M569.3 168.7h0M611.3 209.6h0M536.8 172.0h0M522.3 175.0h0M680.7 184.4h0M500.7 171.4h0M529.4 175.3h0M669.8 198.4h0M568.7 178.1h0M704.3 259.6h0M571.6 171.6h0M591.6 157.5h0M533.7 176.4h0M518.9 172.9h0M575.7 197.6h0M692.2 251.6h0M687.5 183.8h0M556.9 150.7h0M669.6 217.7h0M678.4 214.0h0M733.5 218.0h0M629.5 180.7h0M607.7 207.6h0M604.4 192.9h0M543.8 171.6h0M558.3 179.6h0M647.9 212.2h0M613.6 199.0h0M684.4 258.1h0M499.7 161.4h0M546.3 155.0h0M604.3 211.7h0M715.9 197.0h0M571.1 155.8h0M656.5 184.4h0M622.4 230.0h0M575.3 183.3h0M593.3 194.9h0M654.8 250.1h0M700.8 216.5h0M561.1 187.4h0M573.9 197.2h0M655.8 229.6h0M524.5 170.9h0M582.4 164.9h0M475.7 147.7h0M635.7 195.5h0M553.7 157.7h0M623.1 219.7h0M625.0 237.4h0M555.8 178.7h0M696.2 234.9h0M631.4 236.5h0M624.3 180.6h0M536.3 184.8h0M538.9 169.1h0M608.8 221.0h0M726.3 252.8h0M548.4 159.9h0M557.0 155.5h0M539.2 158.2h0M509.2 172.3h0M548.7 174.9h0M591.6 179.3h0M607.8 214.8h0M585.0 213.0h0M619.0 99.7h0M635.3 192.7h0M629.4 227.1h0M687.3 254.6h0M490.3 176.2h0M558.4 154.0h0M640.4 217.6h0M594.7 189.1h0M629.1 227.0h0M556.5 178.3h0M637.1 241.2h0M527.0 176.5h0M597.7 190.6h0M512.0 145.7h0M524.7 162.7h0M620.4 199.3h0M632.3 184.9h0M637.7 202.3h0M572.2 176.9h0M666.8 204.5h0M497.0 144.6h0M468.3 159.2h0M632.2 231.1h0M559.8 169.0h0M695.5 209.8h0M589.1 167.8h0M525.4 154.1h0M504.7 154.8h0M593.2 170.5h0M562.5 186.6h0M718.9 212.2h0M596.7 185.3h0M639.5 239.2h0M635.2 226.2h0M546.7 170.3h0M635.7 213.2h0M535.5 142.2h0M512.7 148.3h0M534.1 158.1h0M586.4 180.6h0M590.6 178.0h0M684.7 187.5h0M625.6 211.9h0M616.1 200.8h0M611.8 180.2h0M677.8 210.9h0M581.0 212.9h0M648.3 238.2h0M660.0 208.6h0M596.6 201.4h0M657.7 209.6h0M589.2 159.0h0M510.7 174.1h0M655.7 224.8h0M532.3 176.1h0M682.2 217.1h0M648.4 237.9h0M575.3 203.4h0M696.6 193.7h0M681.2 195.3h0M622.7 233.9h0M701.9 194.9h0M508.5 152.0h0M712.6 228.2h0M644.3 217.0h0M533.8 146.9h0M703.0 248.3h0M660.5 190.2h0M682.5 215.1h0M691.1 206.5h0M587.1 174.0h0" stroke="#f8e42a" stroke-width="5.22" stroke-linecap="square"/><path d="M558.6 115.7h0M628.4 120.1h0M533.5 121.3h0M593.8 283.3h0M563.2 95.6h0M587.8 108.0h0M535.7 88.3h0M636.9 139.3h0M610.4 111.0h0M546.0 116.1h0M531.2 88.4h0M523.3 105.7h0M616.9 281.2h0M647.1 135.4h0M567.5 109.8h0M614.8 131.5h0M533.5 99.5h0M654.5 146.7h0M617.1 145.4h0M563.2 107.6h0M640.3 143.6h0M630.5 158.5h0M629.7 131.2h0M610.3 95.8h0M494.9 101.0h0M524.1 117.7h0M578.5 134.0h0M477.8 245.5h0M509.6 88.0h0M619.3 107.7h0M534.7 81.3h0M530.4 108.4h0M603.6 143.5h0M540.6 261.8h0M586.9 101.8h0M618.4 139.7h0M564.6 272.7h0M571.0 109.4h0M626.4 146.0h0M538.7 95.7h0M568.1 106.5h0M613.5 123.7h0M622.8 129.9h0M557.3 93.8h0M573.1 78.7h0M533.5 74.7h0M662.0 145.4h0M543.8 114.8h0M562.4 96.5h0M630.4 129.7h0M529.6 102.4h0M567.5 103.6h0M546.0 119.2h0M647.5 114.9h0M546.3 102.7h0M497.4 95.6h0M508.5 246.9h0M595.3 136.3h0M626.1 125.7h0M535.3 105.9h0M523.9 123.7h0M618.4 139.0h0M473.1 220.4h0M571.5 83.3h0M575.5 107.6h0M567.7 115.5h0M613.8 110.1h0M639.2 125.1h0M610.8 141.2h0M585.3 97.4h0M574.7 124.7h0M585.9 118.4h0M581.6 130.9h0M681.9 164.7h0M519.1 91.5h0M613.9 284.6h0M549.9 266.8h0M629.8 125.4h0M515.5 113.0h0M512.1 90.7h0M615.5 110.1h0M519.9 263.2h0M646.0 118.4h0M574.1 111.1h0M567.9 122.3h0M629.1 127.0h0M597.7 76.1h0M577.0 126.5h0M578.4 88.2h0M566.6 117.3h0M627.3 99.3h0M555.7 93.8h0M597.1 118.7h0M550.9 74.1h0M551.5 113.9h0M517.1 88.7h0M618.1 110.4h0M649.5 119.4h0M594.3 128.3h0M529.8 105.1h0M529.6 114.0h0M482.7 234.1h0M602.9 112.7h0M585.6 101.5h0M577.0 107.4h0M524.7 110.8h0M643.8 147.6h0M550.2 117.0h0M624.3 141.6h0M568.0 111.7h0M590.9 129.8h0M667.8 174.0h0M568.5 129.5h0M538.3 89.2h0M549.9 84.1h0M657.5 154.4h0M531.6 124.3h0M607.7 114.2h0M586.1 103.0h0M568.9 139.5h0M538.8 84.8h0M572.0 98.7h0M581.0 102.5h0M561.7 82.5h0M603.5 96.2h0M581.4 124.9h0M616.5 119.1h0M669.1 145.8h0M628.7 127.4h0M625.8 146.1h0M561.4 89.8h0M628.0 107.9h0M630.4 119.0h0M537.2 78.5h0M633.3 141.8h0M654.6 150.5h0M636.7 155.5h0M643.0 168.8h0M592.4 90.5h0M501.8 248.5h0M560.9 128.8h0M603.2 97.2h0M631.4 143.0h0M626.3 151.7h0M532.0 95.2h0" stroke="#421058" stroke-width="6.00" stroke-linecap="round"/><path d="M528.0 263.3h0M585.6 281.0h0M625.5 120.4h0M534.3 109.9h0M547.7 262.5h0M545.7 102.3h0M577.9 120.7h0M571.3 84.5h0M617.0 116.7h0M648.2 198.2h0M488.7 156.8h0M590.4 92.0h0M516.8 109.4h0M563.6 100.4h0M532.3 96.3h0M639.1 147.7h0M617.0 92.9h0M589.0 124.8h0M603.3 127.3h0M586.8 117.4h0M636.1 111.6h0M525.5 114.5h0M574.9 113.4h0M473.4 236.4h0M581.6 89.0h0M536.9 259.8h0M574.0 117.1h0M583.7 103.5h0M599.9 235.2h0M625.0 166.6h0M588.0 89.3h0M530.0 109.4h0M575.8 106.6h0M629.7 130.3h0M583.3 86.8h0M630.2 136.4h0M521.3 106.6h0M653.5 150.5h0M626.0 123.5h0M601.6 109.7h0M521.2 93.2h0M634.0 145.6h0M622.8 102.3h0M505.8 94.7h0M550.3 95.9h0M517.0 112.8h0M580.9 87.1h0M592.0 103.1h0M558.8 130.8h0M555.3 82.2h0M568.2 112.0h0M648.2 145.5h0M545.9 94.8h0M602.1 106.2h0M564.1 112.7h0M552.8 79.0h0M652.3 146.6h0M589.2 117.3h0M554.8 271.7h0M563.1 84.5h0M627.6 128.7h0M629.5 120.2h0M568.4 83.5h0M515.7 88.3h0M624.8 116.5h0M642.6 151.7h0M593.6 107.4h0M609.9 136.1h0M594.5 117.8h0M619.3 280.2h0M572.7 114.0h0M556.6 90.6h0M537.7 88.4h0M544.1 89.7h0M585.3 277.3h0M509.7 102.6h0M633.4 117.3h0M615.2 131.9h0M656.2 127.9h0M582.4 101.7h0M583.0 87.8h0M558.5 75.7h0M605.2 86.6h0M603.2 121.2h0M561.8 81.2h0M581.1 126.6h0M615.0 99.6h0M593.3 129.0h0M663.1 182.4h0M662.1 168.8h0M580.8 220.9h0M530.0 130.6h0M626.9 100.0h0M543.3 104.8h0M687.5 159.9h0M647.8 111.2h0M562.0 97.1h0M632.9 105.8h0M577.5 133.1h0M618.9 114.1h0M585.6 121.9h0M564.1 137.1h0M540.0 110.0h0M520.2 112.9h0M572.4 114.5h0M589.9 133.0h0M527.3 88.5h0M502.8 254.0h0M608.8 135.1h0M579.0 115.8h0M620.9 137.3h0M535.6 94.7h0M646.5 135.2h0M584.3 138.9h0M643.6 121.1h0M547.3 108.6h0M581.8 113.8h0M605.1 114.3h0M476.9 231.1h0M582.6 134.1h0M698.7 169.0h0M642.9 139.7h0M546.5 97.0h0M644.2 134.9h0M649.3 154.6h0M550.9 86.3h0M610.8 139.7h0M537.3 116.7h0M493.1 244.3h0M559.6 113.5h0M566.6 88.6h0M520.0 91.4h0M648.8 108.4h0M559.5 117.0h0M569.9 99.7h0M631.2 112.1h0M620.7 132.1h0M548.5 82.2h0M678.1 154.4h0M645.7 121.3h0M612.9 122.9h0M652.7 158.2h0M616.7 136.1h0M551.0 127.2h0M535.9 96.1h0M605.0 121.7h0" stroke="#421058" stroke-width="5.22" stroke-linecap="square"/><path d="M453.4 213.6h0M535.4 250.4h0M507.2 239.1h0M597.0 256.9h0M561.1 260.5h0M602.0 254.1h0M490.8 212.0h0M511.3 109.6h0M510.7 109.8h0M607.8 279.3h0M615.3 265.4h0M600.0 273.5h0M566.3 259.0h0M580.1 272.2h0M521.3 237.4h0M610.9 279.4h0M597.2 256.2h0M492.9 237.7h0M511.8 248.8h0M565.3 274.2h0M530.2 254.6h0M573.9 136.1h0M604.2 261.8h0M532.2 234.9h0M520.1 249.2h0M603.1 270.2h0M581.5 253.2h0M531.2 247.2h0M532.4 232.6h0M506.9 243.3h0M500.8 164.9h0M597.5 273.5h0M511.6 113.0h0M476.8 218.7h0M514.3 232.5h0M586.0 183.3h0M546.2 262.7h0M620.5 155.2h0M512.0 252.4h0M591.6 277.1h0M579.3 254.1h0M526.3 219.2h0M576.0 261.2h0M678.5 159.8h0M487.4 234.5h0M612.1 274.8h0M474.0 224.6h0M619.6 265.8h0M466.4 224.0h0M544.7 232.6h0M524.5 255.9h0M574.8 251.1h0M510.4 243.6h0M554.0 253.9h0M593.9 252.7h0M469.7 224.1h0M568.0 149.9h0M554.7 254.8h0M533.5 243.5h0M606.1 258.3h0M524.7 231.4h0M557.8 133.5h0M542.0 272.2h0M650.8 157.2h0M561.2 260.8h0M559.8 249.0h0M512.3 261.0h0M515.7 225.4h0M631.3 268.4h0M566.6 250.8h0M485.9 217.8h0M514.0 228.0h0M564.0 252.4h0M632.1 264.9h0M525.5 254.6h0M568.3 254.7h0M501.5 213.8h0M528.1 265.8h0M516.1 109.2h0M530.5 143.7h0M471.6 140.5h0M615.7 267.7h0M547.9 254.9h0M518.8 112.9h0M468.6 219.8h0M558.6 267.3h0M576.1 256.2h0M483.7 213.1h0M615.1 266.8h0M615.4 276.7h0M494.0 232.1h0M544.5 222.3h0M572.9 268.0h0M569.6 246.8h0" stroke="#44448f" stroke-width="6.00" stroke-linecap="round"/><path d="M557.1 250.0h0M688.1 171.0h0M481.6 211.6h0M737.7 236.2h0M555.0 260.7h0M495.3 235.4h0M516.1 246.9h0M569.2 254.4h0M515.4 229.8h0M483.5 222.9h0M588.2 139.0h0M514.6 235.6h0M524.2 221.2h0M527.2 225.5h0M612.4 267.6h0M536.1 234.1h0M588.5 262.9h0M526.4 256.8h0M607.7 139.0h0M538.8 239.2h0M495.3 236.5h0M562.2 141.1h0M523.6 161.9h0M639.6 272.3h0M525.7 217.0h0M528.1 254.2h0M479.5 232.6h0M550.7 234.2h0M552.1 259.1h0M511.9 108.8h0M569.3 241.2h0M618.8 206.5h0M508.7 118.5h0M620.8 149.6h0M536.9 246.7h0M573.6 259.8h0M515.8 242.7h0M551.3 240.9h0M528.9 122.5h0M558.9 238.2h0M484.9 220.3h0M536.0 230.8h0M548.2 248.3h0M542.9 89.4h0M618.2 123.7h0M539.4 227.8h0M541.0 236.1h0M575.5 262.8h0M698.4 172.8h0M622.9 146.4h0M560.0 267.8h0M534.6 255.3h0M556.2 132.4h0M640.4 154.2h0M559.7 261.5h0M502.9 252.2h0M552.5 259.2h0M527.5 260.1h0M506.0 222.2h0M614.3 277.2h0M521.7 248.9h0M552.5 268.9h0M506.5 217.3h0M607.8 264.9h0M627.8 271.3h0M613.8 148.1h0M511.0 116.4h0M550.8 243.1h0M517.6 111.8h0M696.1 175.1h0M591.2 207.2h0M529.8 254.0h0M618.0 269.7h0M522.1 256.1h0M570.4 247.8h0M518.9 243.7h0M504.5 242.1h0M510.0 220.9h0M554.3 258.3h0M598.6 275.0h0M523.0 229.7h0M534.0 221.7h0M498.9 221.7h0M534.0 245.0h0M659.4 162.7h0M597.8 268.5h0M574.2 260.9h0M601.8 265.0h0M600.8 274.6h0M560.2 256.6h0M600.8 271.5h0M501.8 112.7h0M529.8 232.4h0M646.1 154.6h0M501.9 234.3h0M619.7 275.9h0M512.9 133.1h0M511.8 235.8h0M586.5 272.0h0" stroke="#44448f" stroke-width="5.22" stroke-linecap="square"/><path d="M670.7 166.3h0M611.9 246.7h0M536.7 205.6h0M626.0 270.2h0M596.5 240.8h0M607.3 148.1h0M563.9 225.3h0M628.2 265.8h0M616.2 159.2h0M530.0 174.3h0M652.4 265.3h0M528.9 204.5h0M619.6 201.9h0M471.2 203.2h0M618.0 259.7h0M569.1 216.2h0M520.5 209.9h0M566.1 218.9h0M556.3 221.8h0M626.7 160.0h0M605.0 247.1h0M572.8 133.2h0M628.4 168.6h0M607.3 236.0h0M495.5 193.9h0M627.6 198.7h0M688.3 214.8h0M586.3 228.3h0M597.3 253.4h0M513.7 125.5h0M612.0 152.6h0M609.1 151.2h0M613.6 157.5h0M493.9 195.8h0M586.8 231.1h0M483.0 208.0h0M509.1 211.6h0M544.2 219.5h0M517.8 212.5h0M626.7 265.6h0M564.7 143.8h0M502.9 115.8h0M571.9 226.7h0M550.4 137.6h0M543.8 210.1h0M582.7 149.1h0M530.4 220.3h0M621.1 158.3h0M482.7 118.6h0M537.3 228.5h0M485.8 115.7h0M512.8 198.1h0M561.0 222.4h0M517.3 221.8h0M601.3 213.4h0M513.6 200.9h0M593.2 244.7h0M626.7 267.5h0M490.2 113.8h0M612.3 156.0h0M526.8 217.5h0M496.3 195.7h0M516.5 225.9h0M631.6 253.5h0M734.4 249.2h0M646.9 270.4h0M673.3 172.4h0M558.2 220.4h0M570.6 228.8h0M633.2 227.7h0M521.4 213.4h0M513.4 125.2h0M645.4 274.4h0M484.9 209.6h0M640.9 165.1h0M624.0 156.7h0M534.7 219.2h0M521.9 173.3h0M585.6 225.8h0M523.0 209.8h0M610.6 247.5h0M692.6 173.5h0M586.2 185.9h0M469.6 212.8h0M514.5 131.6h0M580.1 231.3h0M612.2 146.9h0M533.2 217.1h0M542.1 140.9h0M589.9 231.4h0M550.5 221.1h0M640.4 167.3h0M521.4 120.6h0M666.2 174.2h0M690.2 173.3h0M510.7 220.2h0M556.8 137.9h0M558.2 140.6h0M660.3 266.5h0M575.3 247.1h0M549.5 224.9h0M577.4 234.5h0M669.7 190.5h0M544.0 125.5h0M487.5 126.0h0M550.1 135.4h0M630.6 161.2h0" stroke="#2b7a8e" stroke-width="6.00" stroke-linecap="round"/><path d="M610.4 244.5h0M499.5 203.7h0M648.3 167.2h0M582.2 237.4h0M610.2 244.2h0M560.2 155.0h0M568.5 227.7h0M595.0 237.5h0M594.5 244.0h0M487.3 198.9h0M544.9 164.9h0M597.0 239.0h0M555.7 225.8h0M576.8 235.8h0M624.2 273.7h0M637.3 212.0h0M613.0 243.7h0M610.5 252.4h0M616.7 203.0h0M509.6 213.9h0M605.7 248.4h0M592.8 230.3h0M673.8 176.4h0M544.5 209.8h0M560.5 239.6h0M607.8 254.7h0M701.8 190.7h0M610.2 245.6h0M623.1 260.5h0M604.7 252.4h0M473.6 193.4h0M506.2 209.0h0M618.9 157.1h0M471.8 205.2h0M631.8 267.2h0M609.2 189.7h0M583.5 146.7h0M556.3 212.8h0M504.2 112.9h0M535.7 226.6h0M534.8 125.4h0M552.9 219.0h0M613.6 245.1h0M564.7 226.4h0M474.7 186.6h0M576.2 148.5h0M608.1 252.2h0M496.5 125.7h0M599.8 243.4h0M596.1 156.4h0M604.6 246.8h0M504.1 208.1h0M647.7 188.7h0M584.2 142.1h0M591.2 245.7h0M541.1 230.3h0M549.5 222.2h0M520.5 163.0h0M505.7 123.9h0M522.1 219.1h0M623.7 257.8h0M495.9 107.9h0M653.2 167.0h0M583.3 248.9h0M597.4 237.1h0M621.2 252.4h0M472.4 199.2h0M502.6 212.0h0M488.0 215.5h0M637.4 268.1h0M557.6 232.9h0M586.4 229.4h0M545.0 207.4h0M643.9 169.2h0M521.8 135.5h0M690.3 225.0h0M610.3 268.2h0M610.1 261.4h0M623.5 278.5h0M548.1 209.8h0M619.4 259.8h0M569.4 136.0h0M627.5 255.4h0M632.6 270.2h0M594.5 239.8h0M645.4 169.6h0M682.9 166.6h0M579.1 229.1h0M520.0 205.0h0M503.9 125.2h0M628.5 264.3h0M491.3 124.2h0M602.6 245.5h0M612.4 245.1h0M482.0 108.3h0M610.4 174.5h0M565.9 146.5h0M501.6 219.6h0M471.3 214.3h0M474.6 217.5h0M598.8 241.5h0M643.9 255.7h0M557.0 220.9h0M597.5 242.8h0M592.9 250.1h0M613.5 259.6h0M605.0 154.9h0M472.4 212.9h0M577.7 245.8h0M565.6 230.9h0M626.5 194.4h0M588.7 246.9h0M497.0 203.8h0M497.8 123.8h0M666.6 167.6h0M505.5 205.5h0M564.7 228.0h0" stroke="#2b7a8e" stroke-width="5.22" stroke-linecap="square"/><path d="M553.2 136.0h0M632.4 252.7h0M589.7 221.9h0M458.1 184.4h0M528.8 148.2h0M513.6 135.4h0M606.7 203.5h0M538.6 202.2h0M642.9 176.2h0M506.2 132.4h0M665.9 234.1h0M619.5 167.9h0M635.6 234.1h0M565.8 209.2h0M608.7 189.5h0M665.2 155.2h0M641.3 177.3h0M542.7 204.8h0M506.2 137.9h0M606.4 228.4h0M511.7 194.1h0M557.3 177.3h0M514.8 189.2h0M482.8 187.3h0M600.4 227.8h0M656.5 173.3h0M643.2 242.9h0M545.0 201.9h0M561.6 202.6h0M612.1 234.1h0M715.6 224.1h0M647.4 261.9h0M621.5 184.9h0M514.7 188.8h0M522.2 196.0h0M642.7 248.7h0M541.1 136.6h0M516.4 190.0h0M623.2 152.2h0M684.8 187.2h0M553.9 201.5h0M589.7 221.3h0M591.1 226.1h0M647.8 170.5h0M600.5 204.6h0M598.6 164.6h0M487.3 171.0h0M604.6 156.7h0M581.2 257.6h0M505.0 175.3h0M513.6 194.7h0M545.9 201.1h0M633.1 211.8h0M590.9 147.9h0M591.5 227.3h0M604.4 232.4h0M713.4 208.8h0M623.4 240.6h0M487.8 142.8h0M650.9 178.6h0M502.9 136.2h0M530.0 138.0h0M641.7 177.3h0M562.7 213.3h0M517.0 131.2h0M651.6 259.8h0M514.3 185.9h0M632.5 247.3h0M562.8 194.7h0M485.1 138.6h0M680.7 256.3h0M489.7 183.6h0" stroke="#25a785" stroke-width="6.00" stroke-linecap="round"/><path d="M579.9 194.3h0M656.4 250.5h0M600.9 232.3h0M524.5 197.8h0M512.5 196.3h0M640.8 198.5h0M502.2 186.2h0M502.3 158.1h0M519.5 164.7h0M488.8 183.4h0M533.6 158.3h0M569.3 145.1h0M684.0 177.2h0M587.6 165.8h0M686.2 179.5h0M558.5 204.9h0M539.0 202.5h0M571.9 206.0h0M576.2 145.7h0M481.7 168.4h0M574.3 166.8h0M642.2 214.4h0M498.1 193.0h0M511.6 133.3h0M508.0 152.3h0M576.2 144.1h0M490.1 188.6h0M525.5 197.6h0M540.2 147.7h0M613.3 220.7h0M606.6 236.1h0M597.0 226.9h0M628.0 183.8h0M549.3 195.1h0M492.5 126.6h0M486.4 129.4h0M600.7 153.9h0M569.1 157.3h0M493.4 186.7h0M628.1 244.5h0M568.8 146.3h0M545.5 173.3h0M593.8 226.5h0M632.2 240.9h0M484.3 170.5h0M516.2 189.7h0M483.9 188.4h0M629.0 177.2h0M584.0 218.7h0M661.8 259.0h0M561.2 262.3h0M620.5 242.5h0M589.2 223.4h0M517.6 179.3h0M601.0 228.5h0M508.4 186.1h0M531.4 200.1h0M519.9 135.5h0M616.3 215.7h0M577.4 214.1h0M509.5 186.7h0M515.8 194.4h0M491.2 135.1h0M526.9 135.9h0M503.5 185.6h0M564.9 179.9h0M663.7 256.7h0M626.3 251.6h0M642.4 167.8h0" stroke="#25a785" stroke-width="5.22" stroke-linecap="square"/><path d="M733.0 221.9h0M581.8 205.1h0M736.7 242.5h0M611.2 176.6h0M573.9 207.1h0M631.9 181.1h0M569.7 209.5h0M588.4 218.6h0M542.7 193.9h0M607.3 191.0h0M702.7 241.2h0M595.8 160.4h0M500.1 129.5h0M626.2 214.2h0M649.0 248.1h0M705.0 189.7h0M518.4 145.3h0M649.5 222.5h0M579.0 240.4h0M518.2 188.3h0M628.3 244.2h0M592.9 214.5h0M629.8 236.1h0M471.2 175.3h0M508.7 130.5h0M471.5 148.8h0M553.8 201.3h0M542.5 164.1h0M543.6 197.3h0M608.1 163.4h0M675.3 238.1h0M636.8 175.1h0M676.7 205.1h0M645.2 193.6h0M542.5 167.2h0M519.0 182.5h0M634.8 179.3h0M698.7 236.6h0M494.4 178.9h0M526.3 176.6h0" stroke="#7dcd55" stroke-width="6.00" stroke-linecap="round"/><path d="M533.6 198.4h0M618.4 209.7h0M588.0 188.9h0M496.0 180.9h0M570.4 156.2h0M505.4 139.7h0M616.3 229.0h0M660.6 200.5h0M710.0 227.5h0M649.0 157.5h0M720.5 217.0h0M560.8 187.4h0M599.3 259.3h0M666.5 255.9h0M516.6 145.2h0M626.2 193.9h0M496.1 140.5h0M589.5 221.7h0M623.6 169.6h0M597.6 212.3h0M667.9 259.7h0M545.0 182.8h0M503.9 174.0h0M570.6 208.9h0M532.6 183.0h0M538.7 150.1h0M588.7 202.4h0M474.5 145.2h0M488.5 183.6h0M731.4 221.3h0M524.8 159.8h0M712.1 259.0h0M644.7 177.3h0M603.6 226.5h0M603.4 224.0h0M699.1 240.0h0M520.4 143.5h0M564.2 175.0h0M692.6 235.5h0M644.1 251.2h0M556.7 205.4h0M732.4 227.3h0M706.2 262.1h0M604.8 227.3h0M591.8 208.3h0M617.0 179.7h0M627.4 218.7h0M576.6 194.8h0M659.9 232.2h0M599.3 164.7h0M598.9 189.9h0M604.9 222.3h0M472.1 160.1h0M551.8 193.7h0M600.4 190.8h0M576.7 169.8h0M546.5 144.2h0" stroke="#7dcd55" stroke-width="5.22" stroke-linecap="square"/><path d="M688.9 211.3h0M659.2 241.1h0M622.5 198.4h0M622.9 197.3h0M681.6 246.1h0M547.8 169.9h0M645.4 217.9h0M643.3 204.5h0M592.2 171.3h0M530.2 167.5h0M643.4 248.8h0M629.5 211.4h0M630.4 185.0h0M690.0 192.4h0M515.7 163.5h0M551.6 203.7h0M680.7 206.7h0M548.5 149.1h0M625.6 210.0h0M496.0 148.3h0M624.2 204.0h0M614.8 181.1h0M560.4 166.8h0M550.5 158.7h0M540.0 155.7h0M665.0 187.9h0M509.1 148.8h0M617.4 205.7h0M575.5 171.7h0M577.9 156.3h0M460.3 169.9h0M602.0 178.7h0M609.6 190.4h0M651.0 177.5h0M719.8 207.0h0M550.5 150.4h0M598.3 199.6h0M665.9 229.1h0M559.4 200.0h0M555.4 157.5h0M517.8 174.1h0M583.4 166.8h0M630.0 216.2h0M627.5 195.3h0M560.6 174.5h0M593.6 164.0h0M585.9 183.0h0M530.7 184.4h0M517.5 152.1h0M685.9 248.9h0M611.6 193.1h0M625.1 228.9h0M514.9 152.8h0M555.3 149.0h0M596.0 212.6h0M677.0 195.1h0M661.8 198.2h0M563.9 159.0h0M583.9 202.8h0M647.1 240.0h0M547.3 191.5h0M694.0 244.8h0M517.1 158.7h0M724.4 238.6h0M593.1 213.2h0M646.0 193.1h0M631.1 190.5h0M604.4 200.8h0M578.2 196.8h0M579.1 191.3h0M481.4 230.5h0M638.2 192.6h0M547.6 182.1h0M564.8 200.9h0M507.2 155.2h0M635.0 229.6h0M550.3 162.4h0M523.7 146.4h0M516.8 172.5h0M562.6 179.3h0M625.1 176.5h0M594.1 165.7h0M547.3 185.7h0M658.2 239.4h0M578.8 210.5h0M704.2 201.2h0M619.9 188.0h0M649.3 200.4h0M557.4 180.5h0M560.4 189.3h0M518.0 178.2h0M613.0 202.6h0M662.8 240.3h0M659.5 246.8h0M635.6 222.6h0M646.0 214.8h0M488.3 159.4h0M693.0 255.0h0M614.1 178.8h0M537.8 145.3h0M619.7 177.3h0M504.1 151.2h0M538.9 171.6h0M528.1 177.4h0M603.9 191.8h0M511.3 146.8h0M652.7 221.2h0M651.0 215.0h0M544.3 153.2h0M503.1 141.9h0M706.0 218.1h0M653.2 209.3h0M607.1 216.0h0M493.8 152.9h0M634.6 216.8h0M638.3 185.3h0M632.8 238.8h0M561.7 181.9h0M560.5 170.4h0M528.4 142.8h0M584.1 167.3h0M520.5 152.2h0M602.3 193.6h0M710.0 238.6h0M601.6 189.4h0M529.2 172.5h0M630.1 218.5h0M597.4 189.8h0M678.4 256.8h0M720.7 222.4h0M600.7 168.9h0M562.6 158.8h0M577.5 176.2h0M657.4 200.5h0M576.0 175.1h0M695.8 243.2h0M525.4 163.0h0M650.9 249.3h0M561.5 194.9h0M491.5 146.1h0M642.6 192.7h0M721.4 216.2h0M530.8 142.4h0M598.7 174.0h0M621.4 219.0h0M628.1 179.4h0M673.6 186.0h0M662.7 193.7h0M640.5 211.5h0M687.3 227.0h0M502.1 165.3h0M714.4 237.2h0M623.8 208.4h0M594.2 174.0h0M645.3 123.0h0M523.0 155.3h0M512.7 173.3h0M680.7 189.1h0M644.6 223.7h0M705.9 218.8h0M507.8 170.1h0M631.1 206.6h0M677.8 234.2h0M585.4 162.1h0M573.1 174.9h0M535.2 155.8h0M539.1 161.1h0M619.9 200.3h0M523.4 166.5h0M655.6 237.1h0M700.1 229.8h0M658.2 243.2h0" stroke="#f8e42a" stroke-width="6.00" stroke-linecap="round"/><path d="M523.3 176.4h0M532.1 183.2h0M610.1 197.7h0M558.0 179.3h0M623.8 187.2h0M609.3 223.8h0M519.6 151.9h0M655.5 230.4h0M654.3 218.2h0M489.6 155.6h0M575.2 155.4h0M572.5 183.5h0M657.8 226.7h0M685.9 218.9h0M584.4 195.9h0M580.2 187.1h0M596.7 191.0h0M712.6 232.8h0M538.8 175.3h0M627.9 204.7h0M571.4 154.5h0M536.5 181.1h0M646.0 196.7h0M544.1 192.0h0M512.3 176.3h0M615.6 214.3h0M601.7 162.9h0M627.9 187.8h0M583.9 208.6h0M580.4 176.5h0M686.7 250.7h0M513.5 154.2h0M722.5 248.5h0M583.2 209.2h0M670.0 232.4h0M570.2 163.4h0M532.0 153.1h0M619.0 222.5h0M506.2 150.4h0M598.7 189.2h0M652.0 208.0h0M544.5 182.7h0M531.1 192.6h0M606.3 214.1h0M578.3 161.1h0M596.4 172.9h0M515.9 151.0h0M607.7 186.6h0M524.1 157.3h0M634.5 216.5h0M645.1 195.7h0M488.1 159.1h0M655.1 224.7h0M622.2 185.2h0M609.9 213.2h0M662.8 215.2h0M564.7 195.4h0M568.9 158.1h0M535.4 177.4h0M627.1 206.9h0M621.4 203.1h0M714.9 231.7h0M543.5 166.5h0M603.4 182.8h0M704.8 230.7h0M594.0 216.2h0M652.4 242.1h0M593.5 159.2h0M626.9 181.2h0M579.5 156.8h0M659.1 203.4h0M558.9 154.7h0M500.7 165.5h0M552.9 196.7h0M546.0 181.1h0M517.0 157.9h0M559.9 198.0h0M576.3 188.1h0M685.0 248.0h0M525.8 185.1h0M663.7 192.9h0M691.7 234.0h0M574.0 190.6h0M684.9 249.8h0M638.3 220.3h0M627.4 205.6h0M560.2 188.3h0M611.2 220.6h0M544.6 153.4h0M575.1 158.0h0M528.4 148.2h0M488.5 167.2h0M551.6 195.9h0M635.8 244.8h0M575.5 157.5h0M529.7 156.7h0M589.9 159.7h0M531.5 177.5h0M533.2 148.6h0M483.1 171.8h0M704.2 217.6h0M652.4 250.2h0M631.9 233.2h0M563.1 166.6h0M607.6 185.8h0M485.7 170.8h0M512.2 171.6h0M647.8 223.6h0M637.1 219.6h0M645.6 240.4h0M564.6 190.5h0M644.4 232.3h0M552.5 147.7h0M568.2 206.9h0M736.9 228.2h0M617.8 223.8h0M571.0 173.7h0M603.6 209.3h0M686.8 241.9h0M651.5 189.4h0M613.7 201.6h0M693.5 258.5h0M485.3 161.5h0M561.6 175.5h0M525.0 167.2h0M569.9 181.8h0M616.4 220.2h0M563.3 159.5h0M612.2 171.0h0M674.5 250.6h0M595.0 205.2h0M639.0 245.3h0M600.9 194.6h0M564.6 162.1h0M662.7 209.2h0M564.5 196.2h0M666.0 224.6h0M664.5 199.5h0M609.9 182.2h0M683.4 262.2h0M560.3 195.0h0M522.8 179.5h0M515.0 180.9h0M662.2 229.8h0M667.3 184.1h0M633.6 190.3h0M623.7 226.6h0M691.6 221.3h0M731.4 219.7h0M570.3 198.8h0M615.1 215.8h0M501.4 166.2h0M644.6 230.6h0M536.4 179.4h0M649.1 189.1h0M599.6 232.9h0M589.9 164.8h0M701.6 230.2h0M537.3 184.9h0M596.4 192.1h0M525.6 185.0h0M495.0 194.7h0M616.3 188.9h0M673.4 247.7h0" stroke="#f8e42a" stroke-width="5.22" stroke-linecap="square"/><path d="M459.5 56.4h0M456.0 94.8h0M470.0 90.0h0M737.3 142.0h0M641.4 301.4h0M615.0 281.0h0M606.0 289.0h0" stroke="#421058" stroke-width="6.00" stroke-linecap="round"/><path d="M477.0 92.0h0M754.6 151.4h0M669.0 125.0h0M723.0 191.0h0M592.0 288.0h0M597.0 283.0h0" stroke="#421058" stroke-width="5.22" stroke-linecap="square"/><path d="M669.0 274.0h0" stroke="#44448f" stroke-width="6.00" stroke-linecap="round"/><path d="M714.0 180.4h0M720.0 180.4h0M690.5 281.3h0M677.0 294.8h0M738.0 246.0h0" stroke="#44448f" stroke-width="5.22" stroke-linecap="square"/><path d="M463.0 93.5h0M751.4 180.8h0M652.0 277.0h0M675.0 272.0h0M621.0 283.0h0M628.0 284.0h0M644.0 283.0h0" stroke="#2b7a8e" stroke-width="6.00" stroke-linecap="round"/><path d="M735.0 250.0h0" stroke="#2b7a8e" stroke-width="5.22" stroke-linecap="square"/><path d="M690.5 305.0h0" stroke="#25a785" stroke-width="5.22" stroke-linecap="square"/><path d="M728.5 188.0h0M718.0 193.0h0M688.0 270.0h0M725.0 262.0h0" stroke="#7dcd55" stroke-width="6.00" stroke-linecap="round"/><path d="M666.0 119.3h0M650.0 266.0h0M660.0 262.0h0M700.0 272.0h0M712.0 268.0h0" stroke="#f8e42a" stroke-width="5.22" stroke-linecap="square"/><path d="M434.6 44.5 V317.3 H770.5" fill="none" stroke="#231f20" stroke-width="1.6"/><line x1="430" y1="77.4" x2="434.6" y2="77.4" stroke="#231f20" stroke-width="1.4"/><text x="426.2" y="84.0" font-size="17" text-anchor="end" >1.0</text><line x1="430" y1="118.9" x2="434.6" y2="118.9" stroke="#231f20" stroke-width="1.4"/><text x="426.2" y="125.5" font-size="17" text-anchor="end" >0.5</text><line x1="430" y1="160.4" x2="434.6" y2="160.4" stroke="#231f20" stroke-width="1.4"/><text x="426.2" y="167.0" font-size="17" text-anchor="end" >0.0</text><line x1="430" y1="201.9" x2="434.6" y2="201.9" stroke="#231f20" stroke-width="1.4"/><text x="426.2" y="208.5" font-size="17" text-anchor="end" >-0.5</text><line x1="430" y1="243.4" x2="434.6" y2="243.4" stroke="#231f20" stroke-width="1.4"/><text x="426.2" y="250.0" font-size="17" text-anchor="end" >-1.0</text><line x1="430" y1="284.9" x2="434.6" y2="284.9" stroke="#231f20" stroke-width="1.4"/><text x="426.2" y="291.5" font-size="17" text-anchor="end" >-1.5</text><line x1="450.3" y1="317.3" x2="450.3" y2="322" stroke="#231f20" stroke-width="1.4"/><text x="449.1" y="339.6" font-size="17" text-anchor="middle" >-0.5</text><line x1="500.0" y1="317.3" x2="500.0" y2="322" stroke="#231f20" stroke-width="1.4"/><text x="498.8" y="339.6" font-size="17" text-anchor="middle" >0.0</text><line x1="549.7" y1="317.3" x2="549.7" y2="322" stroke="#231f20" stroke-width="1.4"/><text x="548.5" y="339.6" font-size="17" text-anchor="middle" >0.5</text><line x1="599.4" y1="317.3" x2="599.4" y2="322" stroke="#231f20" stroke-width="1.4"/><text x="598.1999999999999" y="339.6" font-size="17" text-anchor="middle" >1.0</text><line x1="649.1" y1="317.3" x2="649.1" y2="322" stroke="#231f20" stroke-width="1.4"/><text x="647.9" y="339.6" font-size="17" text-anchor="middle" >1.5</text><line x1="698.8" y1="317.3" x2="698.8" y2="322" stroke="#231f20" stroke-width="1.4"/><text x="697.5999999999999" y="339.6" font-size="17" text-anchor="middle" >2.0</text><line x1="748.5" y1="317.3" x2="748.5" y2="322" stroke="#231f20" stroke-width="1.4"/><text x="747.3" y="339.6" font-size="17" text-anchor="middle" >2.5</text><g transform="translate(390.5,283.5) rotate(-90)"><text x="0" y="0" font-size="19">Burst frequency (log<tspan font-size="11.8" dy="5.5">10</tspan><tspan dy="-5.5">)</tspan></text></g><text x="526" y="367" font-size="19" text-anchor="start" >Burst size (log<tspan font-size="11.8" dy="5.5">10</tspan><tspan dy="-5.5">)</tspan></text><text x="601.5" y="410" font-size="19" text-anchor="middle" >Observed fraction cells with</text><text x="601" y="432.5" font-size="19" text-anchor="middle" >monoallelic expression</text><text x="493.2" y="457.5" font-size="16.6" text-anchor="middle" >0.0</text><text x="597.7" y="457.5" font-size="16.6" text-anchor="middle" >0.15</text><text x="708" y="457.5" font-size="16.6" text-anchor="middle" >0.3</text><rect x="489.60" y="460" width="36.97" height="10.7" fill="#451a5c"/><rect x="526.27" y="460" width="36.97" height="10.7" fill="#43489a"/><rect x="562.93" y="460" width="36.97" height="10.7" fill="#2b7a8e"/><rect x="599.60" y="460" width="36.97" height="10.7" fill="#25a785"/><rect x="636.27" y="460" width="36.97" height="10.7" fill="#7dcd55"/><rect x="672.93" y="460" width="36.97" height="10.7" fill="#f8e42a"/><rect x="489.6" y="460" width="220.0" height="10.7" fill="none" stroke="#231f20" stroke-width="1"/><g fill="#fff" stroke="#d6d6d6" stroke-width="0.7"><path d="M640.5 442.5c-5.6 0-10 3.7-10 8.2 0 2.5 1.3 4.6 3.4 6.1l-.9 2.9 3.3-1.7c1.3.4 2.7.6 4.2.6 5.6 0 10-3.7 10-8.2s-4.4-7.9-10-7.9z"/><path d="M649.5 449.5c-4.6 0-8.3 3-8.3 6.6s3.7 6.6 8.3 6.6c1.1 0 2.1-.2 3.1-.5l2.8 1.4-.7-2.4c1.8-1.2 3-3 3-5.1 0-3.6-3.6-6.6-8.2-6.6z"/></g><g fill="#dedede" stroke="none"><circle cx="637" cy="448" r="1"/><circle cx="643.5" cy="448" r="1"/><circle cx="647" cy="454.5" r=".8"/><circle cx="652" cy="454.5" r=".8"/></g><text class="wb" x="666.4" y="458.6" font-size="17.3">RCNS Lab</text><text class="sh" x="665.5" y="459.1" font-size="17.3">RCNS Lab</text><text class="wm" x="666.4" y="458.6" font-size="17.3">RCNS Lab</text><text x="737" y="27" font-size="19" text-anchor="start" >Prob</text><text x="737" y="48" font-size="19" text-anchor="start" >expre</text><text x="736" y="75" font-size="16.6" text-anchor="middle" >0.0</text><rect x="739" y="78.5" width="28.6" height="10.6" fill="#4a2a6e"/><rect x="767.6" y="78.5" width="8" height="10.6" fill="#40488a"/><path d="M775 78.5 H739 V89.1 H775" fill="none" stroke="#231f20" stroke-width="1"/></svg></body></html>
